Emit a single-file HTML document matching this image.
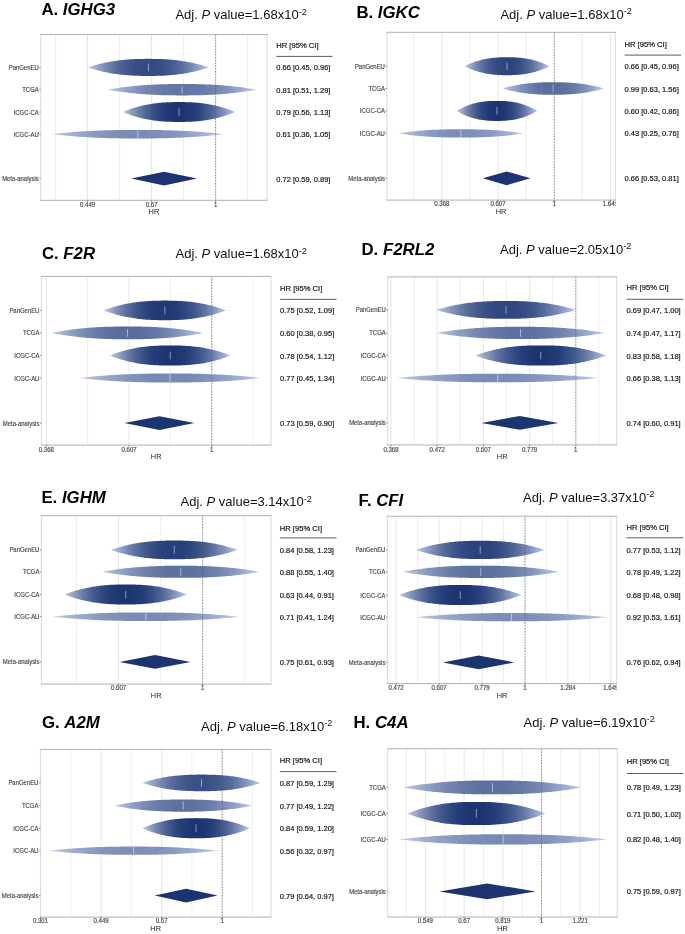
<!DOCTYPE html>
<html><head><meta charset="utf-8"><title>Rainforest plots</title>
<style>html,body{margin:0;padding:0;background:#fff;} svg{display:block;will-change:transform;font-family:"Liberation Sans", sans-serif;}</style>
</head><body>
<svg width="685" height="934" viewBox="0 0 685 934" font-family='"Liberation Sans", sans-serif'>
<rect width="685" height="934" fill="#fff"/>
<text x="41.40" y="15.2" font-size="16.8" font-weight="bold" fill="#000">A. <tspan font-style="italic">IGHG3</tspan></text>
<text x="175.4" y="19.4" font-size="13.0" fill="#111">Adj. <tspan font-style="italic">P</tspan> value=1.68x10<tspan font-size="9.2" dy="-4.5">-2</tspan></text>
<rect x="40.7" y="34.6" width="226.40000000000003" height="165.70000000000002" fill="#fff"/>
<line x1="55.60" y1="34.6" x2="55.60" y2="200.3" stroke="#ebebeb" stroke-width="0.9"/>
<line x1="119.60" y1="34.6" x2="119.60" y2="200.3" stroke="#ebebeb" stroke-width="0.9"/>
<line x1="183.60" y1="34.6" x2="183.60" y2="200.3" stroke="#ebebeb" stroke-width="0.9"/>
<line x1="247.60" y1="34.6" x2="247.60" y2="200.3" stroke="#ebebeb" stroke-width="0.9"/>
<line x1="87.60" y1="34.6" x2="87.60" y2="200.3" stroke="#e3e3e3" stroke-width="0.9"/>
<line x1="151.60" y1="34.6" x2="151.60" y2="200.3" stroke="#e3e3e3" stroke-width="0.9"/>
<line x1="215.60" y1="34.6" x2="215.60" y2="200.3" stroke="#e3e3e3" stroke-width="0.9"/>
<defs><linearGradient id="g1" gradientUnits="userSpaceOnUse" x1="87.84" y1="0" x2="209.07" y2="0"><stop offset="0.0000" stop-color="#c0cde8"/><stop offset="0.0250" stop-color="#b1bfdd"/><stop offset="0.0500" stop-color="#a4b3d3"/><stop offset="0.0750" stop-color="#97a7ca"/><stop offset="0.1000" stop-color="#8b9cc1"/><stop offset="0.1250" stop-color="#8091b9"/><stop offset="0.1500" stop-color="#7588b2"/><stop offset="0.1750" stop-color="#6c7fab"/><stop offset="0.2000" stop-color="#6377a4"/><stop offset="0.2250" stop-color="#5b6f9e"/><stop offset="0.2500" stop-color="#536899"/><stop offset="0.2750" stop-color="#4d6294"/><stop offset="0.3000" stop-color="#475d90"/><stop offset="0.3250" stop-color="#42588d"/><stop offset="0.3500" stop-color="#3e548a"/><stop offset="0.3750" stop-color="#3a5187"/><stop offset="0.4000" stop-color="#384f85"/><stop offset="0.4250" stop-color="#364d84"/><stop offset="0.4500" stop-color="#344b83"/><stop offset="0.4750" stop-color="#334b82"/><stop offset="0.5000" stop-color="#334b82"/><stop offset="0.5250" stop-color="#334b82"/><stop offset="0.5500" stop-color="#344b83"/><stop offset="0.5750" stop-color="#364d84"/><stop offset="0.6000" stop-color="#384f85"/><stop offset="0.6250" stop-color="#3a5187"/><stop offset="0.6500" stop-color="#3e548a"/><stop offset="0.6750" stop-color="#42588d"/><stop offset="0.7000" stop-color="#475d90"/><stop offset="0.7250" stop-color="#4d6294"/><stop offset="0.7500" stop-color="#536899"/><stop offset="0.7750" stop-color="#5b6f9e"/><stop offset="0.8000" stop-color="#6377a4"/><stop offset="0.8250" stop-color="#6c7fab"/><stop offset="0.8500" stop-color="#7588b2"/><stop offset="0.8750" stop-color="#8091b9"/><stop offset="0.9000" stop-color="#8b9cc1"/><stop offset="0.9250" stop-color="#97a7ca"/><stop offset="0.9500" stop-color="#a4b3d3"/><stop offset="0.9750" stop-color="#b1bfdd"/><stop offset="1.0000" stop-color="#c0cde8"/></linearGradient></defs>
<path d="M87.84,67.40 L89.35,66.90 L90.87,66.41 L92.38,65.94 L93.90,65.49 L95.42,65.06 L96.93,64.64 L98.45,64.24 L99.96,63.86 L101.48,63.49 L102.99,63.14 L104.51,62.81 L106.02,62.49 L107.54,62.19 L109.05,61.90 L110.57,61.63 L112.08,61.37 L113.60,61.13 L115.12,60.90 L116.63,60.68 L118.15,60.48 L119.66,60.30 L121.18,60.12 L122.69,59.96 L124.21,59.81 L125.72,59.68 L127.24,59.55 L128.75,59.44 L130.27,59.34 L131.78,59.25 L133.30,59.17 L134.82,59.10 L136.33,59.04 L137.85,59.00 L139.36,58.96 L140.88,58.92 L142.39,58.90 L143.91,58.88 L145.42,58.87 L146.94,58.87 L148.45,58.87 L149.97,58.87 L151.48,58.87 L153.00,58.88 L154.52,58.90 L156.03,58.92 L157.55,58.96 L159.06,59.00 L160.58,59.04 L162.09,59.10 L163.61,59.17 L165.12,59.25 L166.64,59.34 L168.15,59.44 L169.67,59.55 L171.18,59.68 L172.70,59.81 L174.21,59.96 L175.73,60.12 L177.25,60.30 L178.76,60.48 L180.28,60.68 L181.79,60.90 L183.31,61.13 L184.82,61.37 L186.34,61.63 L187.85,61.90 L189.37,62.19 L190.88,62.49 L192.40,62.81 L193.91,63.14 L195.43,63.49 L196.95,63.86 L198.46,64.24 L199.98,64.64 L201.49,65.06 L203.01,65.49 L204.52,65.94 L206.04,66.41 L207.55,66.90 L209.07,67.40 L209.07,67.40 L207.55,67.90 L206.04,68.39 L204.52,68.86 L203.01,69.31 L201.49,69.74 L199.98,70.16 L198.46,70.56 L196.95,70.94 L195.43,71.31 L193.91,71.66 L192.40,71.99 L190.88,72.31 L189.37,72.61 L187.85,72.90 L186.34,73.17 L184.82,73.43 L183.31,73.67 L181.79,73.90 L180.28,74.12 L178.76,74.32 L177.25,74.50 L175.73,74.68 L174.21,74.84 L172.70,74.99 L171.18,75.12 L169.67,75.25 L168.15,75.36 L166.64,75.46 L165.12,75.55 L163.61,75.63 L162.09,75.70 L160.58,75.76 L159.06,75.80 L157.55,75.84 L156.03,75.88 L154.52,75.90 L153.00,75.92 L151.48,75.93 L149.97,75.93 L148.45,75.93 L146.94,75.93 L145.42,75.93 L143.91,75.92 L142.39,75.90 L140.88,75.88 L139.36,75.84 L137.85,75.80 L136.33,75.76 L134.82,75.70 L133.30,75.63 L131.78,75.55 L130.27,75.46 L128.75,75.36 L127.24,75.25 L125.72,75.12 L124.21,74.99 L122.69,74.84 L121.18,74.68 L119.66,74.50 L118.15,74.32 L116.63,74.12 L115.12,73.90 L113.60,73.67 L112.08,73.43 L110.57,73.17 L109.05,72.90 L107.54,72.61 L106.02,72.31 L104.51,71.99 L102.99,71.66 L101.48,71.31 L99.96,70.94 L98.45,70.56 L96.93,70.16 L95.42,69.74 L93.90,69.31 L92.38,68.86 L90.87,68.39 L89.35,67.90 L87.84,67.40Z" fill="url(#g1)"/>
<line x1="148.45" y1="63.62" x2="148.45" y2="71.18" stroke="#ffffff" stroke-opacity="0.55" stroke-width="0.9"/>
<defs><linearGradient id="g2" gradientUnits="userSpaceOnUse" x1="107.86" y1="0" x2="256.34" y2="0"><stop offset="0.0000" stop-color="#c0cde8"/><stop offset="0.0250" stop-color="#b6c4e1"/><stop offset="0.0500" stop-color="#adbbda"/><stop offset="0.0750" stop-color="#a5b4d4"/><stop offset="0.1000" stop-color="#9dacce"/><stop offset="0.1250" stop-color="#95a5c9"/><stop offset="0.1500" stop-color="#8e9fc4"/><stop offset="0.1750" stop-color="#8899bf"/><stop offset="0.2000" stop-color="#8293bb"/><stop offset="0.2250" stop-color="#7c8eb7"/><stop offset="0.2500" stop-color="#788ab3"/><stop offset="0.2750" stop-color="#7386b0"/><stop offset="0.3000" stop-color="#6f82ad"/><stop offset="0.3250" stop-color="#6c7fab"/><stop offset="0.3500" stop-color="#697da9"/><stop offset="0.3750" stop-color="#677aa7"/><stop offset="0.4000" stop-color="#6579a6"/><stop offset="0.4250" stop-color="#6477a5"/><stop offset="0.4500" stop-color="#6377a4"/><stop offset="0.4750" stop-color="#6276a4"/><stop offset="0.5000" stop-color="#6276a4"/><stop offset="0.5250" stop-color="#6276a4"/><stop offset="0.5500" stop-color="#6377a4"/><stop offset="0.5750" stop-color="#6477a5"/><stop offset="0.6000" stop-color="#6579a6"/><stop offset="0.6250" stop-color="#677aa7"/><stop offset="0.6500" stop-color="#697da9"/><stop offset="0.6750" stop-color="#6c7fab"/><stop offset="0.7000" stop-color="#6f82ad"/><stop offset="0.7250" stop-color="#7386b0"/><stop offset="0.7500" stop-color="#788ab3"/><stop offset="0.7750" stop-color="#7c8eb7"/><stop offset="0.8000" stop-color="#8293bb"/><stop offset="0.8250" stop-color="#8899bf"/><stop offset="0.8500" stop-color="#8e9fc4"/><stop offset="0.8750" stop-color="#95a5c9"/><stop offset="0.9000" stop-color="#9dacce"/><stop offset="0.9250" stop-color="#a5b4d4"/><stop offset="0.9500" stop-color="#adbbda"/><stop offset="0.9750" stop-color="#b6c4e1"/><stop offset="1.0000" stop-color="#c0cde8"/></linearGradient></defs>
<path d="M107.86,89.70 L109.72,89.36 L111.58,89.04 L113.43,88.73 L115.29,88.43 L117.14,88.14 L119.00,87.86 L120.86,87.60 L122.71,87.34 L124.57,87.10 L126.42,86.86 L128.28,86.64 L130.14,86.43 L131.99,86.23 L133.85,86.03 L135.70,85.85 L137.56,85.68 L139.42,85.52 L141.27,85.37 L143.13,85.22 L144.98,85.09 L146.84,84.96 L148.70,84.85 L150.55,84.74 L152.41,84.64 L154.26,84.55 L156.12,84.47 L157.98,84.39 L159.83,84.33 L161.69,84.27 L163.54,84.21 L165.40,84.17 L167.26,84.13 L169.11,84.10 L170.97,84.07 L172.82,84.05 L174.68,84.03 L176.54,84.02 L178.39,84.01 L180.25,84.01 L182.10,84.01 L183.96,84.01 L185.82,84.01 L187.67,84.02 L189.53,84.03 L191.38,84.05 L193.24,84.07 L195.10,84.10 L196.95,84.13 L198.81,84.17 L200.66,84.21 L202.52,84.27 L204.38,84.33 L206.23,84.39 L208.09,84.47 L209.94,84.55 L211.80,84.64 L213.66,84.74 L215.51,84.85 L217.37,84.96 L219.22,85.09 L221.08,85.22 L222.94,85.37 L224.79,85.52 L226.65,85.68 L228.50,85.85 L230.36,86.03 L232.22,86.23 L234.07,86.43 L235.93,86.64 L237.78,86.86 L239.64,87.10 L241.49,87.34 L243.35,87.60 L245.21,87.86 L247.06,88.14 L248.92,88.43 L250.77,88.73 L252.63,89.04 L254.49,89.36 L256.34,89.70 L256.34,89.70 L254.49,90.04 L252.63,90.36 L250.77,90.67 L248.92,90.97 L247.06,91.26 L245.21,91.54 L243.35,91.80 L241.49,92.06 L239.64,92.30 L237.78,92.54 L235.93,92.76 L234.07,92.97 L232.22,93.17 L230.36,93.37 L228.50,93.55 L226.65,93.72 L224.79,93.88 L222.94,94.03 L221.08,94.18 L219.22,94.31 L217.37,94.44 L215.51,94.55 L213.66,94.66 L211.80,94.76 L209.94,94.85 L208.09,94.93 L206.23,95.01 L204.38,95.07 L202.52,95.13 L200.66,95.19 L198.81,95.23 L196.95,95.27 L195.10,95.30 L193.24,95.33 L191.38,95.35 L189.53,95.37 L187.67,95.38 L185.82,95.39 L183.96,95.39 L182.10,95.39 L180.25,95.39 L178.39,95.39 L176.54,95.38 L174.68,95.37 L172.82,95.35 L170.97,95.33 L169.11,95.30 L167.26,95.27 L165.40,95.23 L163.54,95.19 L161.69,95.13 L159.83,95.07 L157.98,95.01 L156.12,94.93 L154.26,94.85 L152.41,94.76 L150.55,94.66 L148.70,94.55 L146.84,94.44 L144.98,94.31 L143.13,94.18 L141.27,94.03 L139.42,93.88 L137.56,93.72 L135.70,93.55 L133.85,93.37 L131.99,93.17 L130.14,92.97 L128.28,92.76 L126.42,92.54 L124.57,92.30 L122.71,92.06 L120.86,91.80 L119.00,91.54 L117.14,91.26 L115.29,90.97 L113.43,90.67 L111.58,90.36 L109.72,90.04 L107.86,89.70Z" fill="url(#g2)"/>
<line x1="182.10" y1="85.92" x2="182.10" y2="93.48" stroke="#ffffff" stroke-opacity="0.55" stroke-width="0.9"/>
<defs><linearGradient id="g3" gradientUnits="userSpaceOnUse" x1="122.83" y1="0" x2="235.15" y2="0"><stop offset="0.0000" stop-color="#c0cde8"/><stop offset="0.0250" stop-color="#afbddc"/><stop offset="0.0500" stop-color="#9faed0"/><stop offset="0.0750" stop-color="#90a1c5"/><stop offset="0.1000" stop-color="#8294bb"/><stop offset="0.1250" stop-color="#7587b2"/><stop offset="0.1500" stop-color="#697ca9"/><stop offset="0.1750" stop-color="#5e72a1"/><stop offset="0.2000" stop-color="#536899"/><stop offset="0.2250" stop-color="#4a6092"/><stop offset="0.2500" stop-color="#41588c"/><stop offset="0.2750" stop-color="#3a5187"/><stop offset="0.3000" stop-color="#334a82"/><stop offset="0.3250" stop-color="#2d457e"/><stop offset="0.3500" stop-color="#28407a"/><stop offset="0.3750" stop-color="#243d77"/><stop offset="0.4000" stop-color="#213a75"/><stop offset="0.4250" stop-color="#1f3773"/><stop offset="0.4500" stop-color="#1d3672"/><stop offset="0.4750" stop-color="#1c3571"/><stop offset="0.5000" stop-color="#1c3571"/><stop offset="0.5250" stop-color="#1c3571"/><stop offset="0.5500" stop-color="#1d3672"/><stop offset="0.5750" stop-color="#1f3773"/><stop offset="0.6000" stop-color="#213a75"/><stop offset="0.6250" stop-color="#243d77"/><stop offset="0.6500" stop-color="#28407a"/><stop offset="0.6750" stop-color="#2d457e"/><stop offset="0.7000" stop-color="#334a82"/><stop offset="0.7250" stop-color="#3a5187"/><stop offset="0.7500" stop-color="#41588c"/><stop offset="0.7750" stop-color="#4a6092"/><stop offset="0.8000" stop-color="#536899"/><stop offset="0.8250" stop-color="#5e72a1"/><stop offset="0.8500" stop-color="#697ca9"/><stop offset="0.8750" stop-color="#7587b2"/><stop offset="0.9000" stop-color="#8294bb"/><stop offset="0.9250" stop-color="#90a1c5"/><stop offset="0.9500" stop-color="#9faed0"/><stop offset="0.9750" stop-color="#afbddc"/><stop offset="1.0000" stop-color="#c0cde8"/></linearGradient></defs>
<path d="M122.83,112.00 L124.23,111.41 L125.64,110.85 L127.04,110.30 L128.45,109.78 L129.85,109.27 L131.25,108.79 L132.66,108.32 L134.06,107.88 L135.47,107.45 L136.87,107.04 L138.27,106.65 L139.68,106.28 L141.08,105.93 L142.49,105.59 L143.89,105.28 L145.29,104.98 L146.70,104.69 L148.10,104.43 L149.51,104.18 L150.91,103.94 L152.31,103.72 L153.72,103.52 L155.12,103.33 L156.53,103.16 L157.93,103.00 L159.33,102.86 L160.74,102.73 L162.14,102.61 L163.55,102.51 L164.95,102.42 L166.36,102.34 L167.76,102.27 L169.16,102.21 L170.57,102.16 L171.97,102.13 L173.38,102.10 L174.78,102.08 L176.18,102.07 L177.59,102.06 L178.99,102.06 L180.40,102.06 L181.80,102.07 L183.20,102.08 L184.61,102.10 L186.01,102.13 L187.42,102.16 L188.82,102.21 L190.22,102.27 L191.63,102.34 L193.03,102.42 L194.44,102.51 L195.84,102.61 L197.24,102.73 L198.65,102.86 L200.05,103.00 L201.46,103.16 L202.86,103.33 L204.27,103.52 L205.67,103.72 L207.07,103.94 L208.48,104.18 L209.88,104.43 L211.29,104.69 L212.69,104.98 L214.09,105.28 L215.50,105.59 L216.90,105.93 L218.31,106.28 L219.71,106.65 L221.11,107.04 L222.52,107.45 L223.92,107.88 L225.33,108.32 L226.73,108.79 L228.13,109.27 L229.54,109.78 L230.94,110.30 L232.35,110.85 L233.75,111.41 L235.15,112.00 L235.15,112.00 L233.75,112.59 L232.35,113.15 L230.94,113.70 L229.54,114.22 L228.13,114.73 L226.73,115.21 L225.33,115.68 L223.92,116.12 L222.52,116.55 L221.11,116.96 L219.71,117.35 L218.31,117.72 L216.90,118.07 L215.50,118.41 L214.09,118.72 L212.69,119.02 L211.29,119.31 L209.88,119.57 L208.48,119.82 L207.07,120.06 L205.67,120.28 L204.27,120.48 L202.86,120.67 L201.46,120.84 L200.05,121.00 L198.65,121.14 L197.24,121.27 L195.84,121.39 L194.44,121.49 L193.03,121.58 L191.63,121.66 L190.22,121.73 L188.82,121.79 L187.42,121.84 L186.01,121.87 L184.61,121.90 L183.20,121.92 L181.80,121.93 L180.40,121.94 L178.99,121.94 L177.59,121.94 L176.18,121.93 L174.78,121.92 L173.38,121.90 L171.97,121.87 L170.57,121.84 L169.16,121.79 L167.76,121.73 L166.36,121.66 L164.95,121.58 L163.55,121.49 L162.14,121.39 L160.74,121.27 L159.33,121.14 L157.93,121.00 L156.53,120.84 L155.12,120.67 L153.72,120.48 L152.31,120.28 L150.91,120.06 L149.51,119.82 L148.10,119.57 L146.70,119.31 L145.29,119.02 L143.89,118.72 L142.49,118.41 L141.08,118.07 L139.68,117.72 L138.27,117.35 L136.87,116.96 L135.47,116.55 L134.06,116.12 L132.66,115.68 L131.25,115.21 L129.85,114.73 L128.45,114.22 L127.04,113.70 L125.64,113.15 L124.23,112.59 L122.83,112.00Z" fill="url(#g3)"/>
<line x1="178.99" y1="108.22" x2="178.99" y2="115.78" stroke="#ffffff" stroke-opacity="0.55" stroke-width="0.9"/>
<defs><linearGradient id="g4" gradientUnits="userSpaceOnUse" x1="52.14" y1="0" x2="223.41" y2="0"><stop offset="0.0000" stop-color="#c0cde8"/><stop offset="0.0250" stop-color="#b9c6e3"/><stop offset="0.0500" stop-color="#b2c0de"/><stop offset="0.0750" stop-color="#abbad9"/><stop offset="0.1000" stop-color="#a5b4d5"/><stop offset="0.1250" stop-color="#a0afd1"/><stop offset="0.1500" stop-color="#9aaacd"/><stop offset="0.1750" stop-color="#96a6c9"/><stop offset="0.2000" stop-color="#91a2c6"/><stop offset="0.2250" stop-color="#8d9ec3"/><stop offset="0.2500" stop-color="#8a9bc0"/><stop offset="0.2750" stop-color="#8698be"/><stop offset="0.3000" stop-color="#8395bc"/><stop offset="0.3250" stop-color="#8193ba"/><stop offset="0.3500" stop-color="#7f91b9"/><stop offset="0.3750" stop-color="#7d8fb7"/><stop offset="0.4000" stop-color="#7c8eb6"/><stop offset="0.4250" stop-color="#7b8db6"/><stop offset="0.4500" stop-color="#7a8cb5"/><stop offset="0.4750" stop-color="#7a8cb5"/><stop offset="0.5000" stop-color="#798cb5"/><stop offset="0.5250" stop-color="#7a8cb5"/><stop offset="0.5500" stop-color="#7a8cb5"/><stop offset="0.5750" stop-color="#7b8db6"/><stop offset="0.6000" stop-color="#7c8eb6"/><stop offset="0.6250" stop-color="#7d8fb7"/><stop offset="0.6500" stop-color="#7f91b9"/><stop offset="0.6750" stop-color="#8193ba"/><stop offset="0.7000" stop-color="#8395bc"/><stop offset="0.7250" stop-color="#8698be"/><stop offset="0.7500" stop-color="#8a9bc0"/><stop offset="0.7750" stop-color="#8d9ec3"/><stop offset="0.8000" stop-color="#91a2c6"/><stop offset="0.8250" stop-color="#96a6c9"/><stop offset="0.8500" stop-color="#9aaacd"/><stop offset="0.8750" stop-color="#a0afd1"/><stop offset="0.9000" stop-color="#a5b4d5"/><stop offset="0.9250" stop-color="#abbad9"/><stop offset="0.9500" stop-color="#b2c0de"/><stop offset="0.9750" stop-color="#b9c6e3"/><stop offset="1.0000" stop-color="#c0cde8"/></linearGradient></defs>
<path d="M52.14,134.20 L54.28,133.95 L56.42,133.70 L58.56,133.47 L60.70,133.24 L62.84,133.03 L64.98,132.82 L67.12,132.62 L69.26,132.43 L71.40,132.24 L73.54,132.07 L75.69,131.90 L77.83,131.74 L79.97,131.59 L82.11,131.44 L84.25,131.31 L86.39,131.18 L88.53,131.06 L90.67,130.94 L92.81,130.83 L94.95,130.73 L97.09,130.64 L99.24,130.55 L101.38,130.47 L103.52,130.40 L105.66,130.33 L107.80,130.27 L109.94,130.21 L112.08,130.16 L114.22,130.12 L116.36,130.08 L118.50,130.04 L120.64,130.01 L122.78,129.99 L124.93,129.97 L127.07,129.95 L129.21,129.94 L131.35,129.93 L133.49,129.93 L135.63,129.92 L137.77,129.92 L139.91,129.92 L142.05,129.93 L144.19,129.93 L146.33,129.94 L148.48,129.95 L150.62,129.97 L152.76,129.99 L154.90,130.01 L157.04,130.04 L159.18,130.08 L161.32,130.12 L163.46,130.16 L165.60,130.21 L167.74,130.27 L169.88,130.33 L172.03,130.40 L174.17,130.47 L176.31,130.55 L178.45,130.64 L180.59,130.73 L182.73,130.83 L184.87,130.94 L187.01,131.06 L189.15,131.18 L191.29,131.31 L193.43,131.44 L195.57,131.59 L197.72,131.74 L199.86,131.90 L202.00,132.07 L204.14,132.24 L206.28,132.43 L208.42,132.62 L210.56,132.82 L212.70,133.03 L214.84,133.24 L216.98,133.47 L219.12,133.70 L221.27,133.95 L223.41,134.20 L223.41,134.20 L221.27,134.45 L219.12,134.70 L216.98,134.93 L214.84,135.16 L212.70,135.37 L210.56,135.58 L208.42,135.78 L206.28,135.97 L204.14,136.16 L202.00,136.33 L199.86,136.50 L197.72,136.66 L195.57,136.81 L193.43,136.96 L191.29,137.09 L189.15,137.22 L187.01,137.34 L184.87,137.46 L182.73,137.57 L180.59,137.67 L178.45,137.76 L176.31,137.85 L174.17,137.93 L172.03,138.00 L169.88,138.07 L167.74,138.13 L165.60,138.19 L163.46,138.24 L161.32,138.28 L159.18,138.32 L157.04,138.36 L154.90,138.39 L152.76,138.41 L150.62,138.43 L148.48,138.45 L146.33,138.46 L144.19,138.47 L142.05,138.47 L139.91,138.48 L137.77,138.48 L135.63,138.48 L133.49,138.47 L131.35,138.47 L129.21,138.46 L127.07,138.45 L124.93,138.43 L122.78,138.41 L120.64,138.39 L118.50,138.36 L116.36,138.32 L114.22,138.28 L112.08,138.24 L109.94,138.19 L107.80,138.13 L105.66,138.07 L103.52,138.00 L101.38,137.93 L99.24,137.85 L97.09,137.76 L94.95,137.67 L92.81,137.57 L90.67,137.46 L88.53,137.34 L86.39,137.22 L84.25,137.09 L82.11,136.96 L79.97,136.81 L77.83,136.66 L75.69,136.50 L73.54,136.33 L71.40,136.16 L69.26,135.97 L67.12,135.78 L64.98,135.58 L62.84,135.37 L60.70,135.16 L58.56,134.93 L56.42,134.70 L54.28,134.45 L52.14,134.20Z" fill="url(#g4)"/>
<line x1="137.77" y1="130.42" x2="137.77" y2="137.98" stroke="#ffffff" stroke-opacity="0.55" stroke-width="0.9"/>
<path d="M131.18,178.6 L164.07,171.79 L196.95,178.6 L164.07,185.41Z" fill="#1c3571"/>
<line x1="215.6" y1="34.6" x2="215.6" y2="200.3" stroke="#5a5a5a" stroke-width="0.7" stroke-dasharray="1.3 1.5"/>
<line x1="40.7" y1="34.6" x2="40.7" y2="200.3" stroke="#dadada" stroke-width="1"/>
<line x1="267.1" y1="34.6" x2="267.1" y2="200.3" stroke="#dadada" stroke-width="1"/>
<line x1="40.2" y1="34.6" x2="267.6" y2="34.6" stroke="#a8a8a8" stroke-width="0.9"/>
<line x1="40.2" y1="200.3" x2="267.6" y2="200.3" stroke="#a8a8a8" stroke-width="0.9"/>
<text transform="translate(38.70,69.90) scale(0.9,1)" font-size="6.6" fill="#4d4d4d" stroke="#4d4d4d" stroke-width="0.18" text-anchor="end">PanGenEU</text>
<line x1="39.400000000000006" y1="67.4" x2="40.7" y2="67.4" stroke="#555" stroke-width="0.7"/>
<text transform="translate(38.70,92.20) scale(0.9,1)" font-size="6.6" fill="#4d4d4d" stroke="#4d4d4d" stroke-width="0.18" text-anchor="end">TCGA</text>
<line x1="39.400000000000006" y1="89.7" x2="40.7" y2="89.7" stroke="#555" stroke-width="0.7"/>
<text transform="translate(38.70,114.50) scale(0.9,1)" font-size="6.6" fill="#4d4d4d" stroke="#4d4d4d" stroke-width="0.18" text-anchor="end">ICGC-CA</text>
<line x1="39.400000000000006" y1="112.0" x2="40.7" y2="112.0" stroke="#555" stroke-width="0.7"/>
<text transform="translate(38.70,136.70) scale(0.9,1)" font-size="6.6" fill="#4d4d4d" stroke="#4d4d4d" stroke-width="0.18" text-anchor="end">ICGC-AU</text>
<line x1="39.400000000000006" y1="134.2" x2="40.7" y2="134.2" stroke="#555" stroke-width="0.7"/>
<text transform="translate(38.70,181.10) scale(0.9,1)" font-size="6.6" fill="#4d4d4d" stroke="#4d4d4d" stroke-width="0.18" text-anchor="end">Meta-analysis</text>
<line x1="39.400000000000006" y1="178.6" x2="40.7" y2="178.6" stroke="#555" stroke-width="0.7"/>
<defs><clipPath id="c5"><rect x="0" y="200.3" width="267.40000000000003" height="20"/></clipPath></defs><g clip-path="url(#c5)">
<line x1="87.60" y1="200.3" x2="87.60" y2="201.8" stroke="#333" stroke-width="0.6"/>
<text transform="translate(87.60,206.6) scale(0.95,1)" font-size="6.4" fill="#4d4d4d" stroke="#4d4d4d" stroke-width="0.18" text-anchor="middle">0.449</text>
<line x1="151.60" y1="200.3" x2="151.60" y2="201.8" stroke="#333" stroke-width="0.6"/>
<text transform="translate(151.60,206.6) scale(0.95,1)" font-size="6.4" fill="#4d4d4d" stroke="#4d4d4d" stroke-width="0.18" text-anchor="middle">0.67</text>
<line x1="215.60" y1="200.3" x2="215.60" y2="201.8" stroke="#333" stroke-width="0.6"/>
<text transform="translate(215.60,206.6) scale(0.95,1)" font-size="6.4" fill="#4d4d4d" stroke="#4d4d4d" stroke-width="0.18" text-anchor="middle">1</text>
</g>
<text x="153.90" y="214.0" font-size="7.4" fill="#222" text-anchor="middle">HR</text>
<text x="276.3" y="48.16" font-size="7.6" fill="#111" stroke="#111" stroke-width="0.18">HR [95% CI]</text>
<line x1="276.3" y1="56.4" x2="332.5" y2="56.4" stroke="#333" stroke-width="0.8"/>
<text transform="translate(276.3,70.40) scale(0.95,1)" font-size="7.9" fill="#111" stroke="#111" stroke-width="0.18">0.66 [0.45, 0.96]</text>
<text transform="translate(276.3,92.70) scale(0.95,1)" font-size="7.9" fill="#111" stroke="#111" stroke-width="0.18">0.81 [0.51, 1.29]</text>
<text transform="translate(276.3,115.00) scale(0.95,1)" font-size="7.9" fill="#111" stroke="#111" stroke-width="0.18">0.79 [0.56, 1.13]</text>
<text transform="translate(276.3,137.20) scale(0.95,1)" font-size="7.9" fill="#111" stroke="#111" stroke-width="0.18">0.61 [0.36, 1.05]</text>
<text transform="translate(276.3,181.60) scale(0.95,1)" font-size="7.9" fill="#111" stroke="#111" stroke-width="0.18">0.72 [0.59, 0.89]</text>
<text x="356.40" y="17.9" font-size="16.8" font-weight="bold" fill="#000">B. <tspan font-style="italic">IGKC</tspan></text>
<text x="500.4" y="18.6" font-size="13.0" fill="#111">Adj. <tspan font-style="italic">P</tspan> value=1.68x10<tspan font-size="9.2" dy="-4.5">-2</tspan></text>
<rect x="386.9" y="32.3" width="228.39999999999998" height="167.8" fill="#fff"/>
<line x1="413.70" y1="32.3" x2="413.70" y2="200.1" stroke="#ebebeb" stroke-width="0.9"/>
<line x1="469.90" y1="32.3" x2="469.90" y2="200.1" stroke="#ebebeb" stroke-width="0.9"/>
<line x1="526.10" y1="32.3" x2="526.10" y2="200.1" stroke="#ebebeb" stroke-width="0.9"/>
<line x1="582.30" y1="32.3" x2="582.30" y2="200.1" stroke="#ebebeb" stroke-width="0.9"/>
<line x1="441.80" y1="32.3" x2="441.80" y2="200.1" stroke="#e3e3e3" stroke-width="0.9"/>
<line x1="498.00" y1="32.3" x2="498.00" y2="200.1" stroke="#e3e3e3" stroke-width="0.9"/>
<line x1="554.20" y1="32.3" x2="554.20" y2="200.1" stroke="#e3e3e3" stroke-width="0.9"/>
<line x1="610.40" y1="32.3" x2="610.40" y2="200.1" stroke="#e3e3e3" stroke-width="0.9"/>
<defs><linearGradient id="g6" gradientUnits="userSpaceOnUse" x1="464.45" y1="0" x2="549.61" y2="0"><stop offset="0.0000" stop-color="#c0cde8"/><stop offset="0.0250" stop-color="#b1bfdd"/><stop offset="0.0500" stop-color="#a2b2d3"/><stop offset="0.0750" stop-color="#95a5c9"/><stop offset="0.1000" stop-color="#899ac0"/><stop offset="0.1250" stop-color="#7d8fb7"/><stop offset="0.1500" stop-color="#7285af"/><stop offset="0.1750" stop-color="#687ba8"/><stop offset="0.2000" stop-color="#5f73a1"/><stop offset="0.2250" stop-color="#566b9b"/><stop offset="0.2500" stop-color="#4f6496"/><stop offset="0.2750" stop-color="#485e91"/><stop offset="0.3000" stop-color="#42588d"/><stop offset="0.3250" stop-color="#3d5389"/><stop offset="0.3500" stop-color="#384f86"/><stop offset="0.3750" stop-color="#354c83"/><stop offset="0.4000" stop-color="#324981"/><stop offset="0.4250" stop-color="#30477f"/><stop offset="0.4500" stop-color="#2e467e"/><stop offset="0.4750" stop-color="#2d457e"/><stop offset="0.5000" stop-color="#2d457e"/><stop offset="0.5250" stop-color="#2d457e"/><stop offset="0.5500" stop-color="#2e467e"/><stop offset="0.5750" stop-color="#30477f"/><stop offset="0.6000" stop-color="#324981"/><stop offset="0.6250" stop-color="#354c83"/><stop offset="0.6500" stop-color="#384f86"/><stop offset="0.6750" stop-color="#3d5389"/><stop offset="0.7000" stop-color="#42588d"/><stop offset="0.7250" stop-color="#485e91"/><stop offset="0.7500" stop-color="#4f6496"/><stop offset="0.7750" stop-color="#566b9b"/><stop offset="0.8000" stop-color="#5f73a1"/><stop offset="0.8250" stop-color="#687ba8"/><stop offset="0.8500" stop-color="#7285af"/><stop offset="0.8750" stop-color="#7d8fb7"/><stop offset="0.9000" stop-color="#899ac0"/><stop offset="0.9250" stop-color="#95a5c9"/><stop offset="0.9500" stop-color="#a2b2d3"/><stop offset="0.9750" stop-color="#b1bfdd"/><stop offset="1.0000" stop-color="#c0cde8"/></linearGradient></defs>
<path d="M464.45,66.20 L465.51,65.67 L466.58,65.16 L467.64,64.67 L468.71,64.20 L469.77,63.74 L470.84,63.30 L471.90,62.88 L472.96,62.48 L474.03,62.10 L475.09,61.73 L476.16,61.38 L477.22,61.04 L478.29,60.72 L479.35,60.42 L480.42,60.14 L481.48,59.87 L482.55,59.61 L483.61,59.37 L484.67,59.14 L485.74,58.93 L486.80,58.74 L487.87,58.55 L488.93,58.38 L490.00,58.23 L491.06,58.09 L492.13,57.96 L493.19,57.84 L494.26,57.73 L495.32,57.64 L496.38,57.56 L497.45,57.48 L498.51,57.42 L499.58,57.37 L500.64,57.33 L501.71,57.29 L502.77,57.27 L503.84,57.25 L504.90,57.24 L505.97,57.23 L507.03,57.23 L508.09,57.23 L509.16,57.24 L510.22,57.25 L511.29,57.27 L512.35,57.29 L513.42,57.33 L514.48,57.37 L515.55,57.42 L516.61,57.48 L517.68,57.56 L518.74,57.64 L519.80,57.73 L520.87,57.84 L521.93,57.96 L523.00,58.09 L524.06,58.23 L525.13,58.38 L526.19,58.55 L527.26,58.74 L528.32,58.93 L529.39,59.14 L530.45,59.37 L531.51,59.61 L532.58,59.87 L533.64,60.14 L534.71,60.42 L535.77,60.72 L536.84,61.04 L537.90,61.38 L538.97,61.73 L540.03,62.10 L541.10,62.48 L542.16,62.88 L543.22,63.30 L544.29,63.74 L545.35,64.20 L546.42,64.67 L547.48,65.16 L548.55,65.67 L549.61,66.20 L549.61,66.20 L548.55,66.73 L547.48,67.24 L546.42,67.73 L545.35,68.20 L544.29,68.66 L543.22,69.10 L542.16,69.52 L541.10,69.92 L540.03,70.30 L538.97,70.67 L537.90,71.02 L536.84,71.36 L535.77,71.68 L534.71,71.98 L533.64,72.26 L532.58,72.53 L531.51,72.79 L530.45,73.03 L529.39,73.26 L528.32,73.47 L527.26,73.66 L526.19,73.85 L525.13,74.02 L524.06,74.17 L523.00,74.31 L521.93,74.44 L520.87,74.56 L519.80,74.67 L518.74,74.76 L517.68,74.84 L516.61,74.92 L515.55,74.98 L514.48,75.03 L513.42,75.07 L512.35,75.11 L511.29,75.13 L510.22,75.15 L509.16,75.16 L508.09,75.17 L507.03,75.17 L505.97,75.17 L504.90,75.16 L503.84,75.15 L502.77,75.13 L501.71,75.11 L500.64,75.07 L499.58,75.03 L498.51,74.98 L497.45,74.92 L496.38,74.84 L495.32,74.76 L494.26,74.67 L493.19,74.56 L492.13,74.44 L491.06,74.31 L490.00,74.17 L488.93,74.02 L487.87,73.85 L486.80,73.66 L485.74,73.47 L484.67,73.26 L483.61,73.03 L482.55,72.79 L481.48,72.53 L480.42,72.26 L479.35,71.98 L478.29,71.68 L477.22,71.36 L476.16,71.02 L475.09,70.67 L474.03,70.30 L472.96,69.92 L471.90,69.52 L470.84,69.10 L469.77,68.66 L468.71,68.20 L467.64,67.73 L466.58,67.24 L465.51,66.73 L464.45,66.20Z" fill="url(#g6)"/>
<line x1="507.03" y1="62.39" x2="507.03" y2="70.01" stroke="#ffffff" stroke-opacity="0.55" stroke-width="0.9"/>
<defs><linearGradient id="g7" gradientUnits="userSpaceOnUse" x1="502.27" y1="0" x2="604.18" y2="0"><stop offset="0.0000" stop-color="#c0cde8"/><stop offset="0.0250" stop-color="#b5c3e0"/><stop offset="0.0500" stop-color="#abbad9"/><stop offset="0.0750" stop-color="#a2b1d2"/><stop offset="0.1000" stop-color="#99a9cc"/><stop offset="0.1250" stop-color="#91a2c6"/><stop offset="0.1500" stop-color="#8a9bc0"/><stop offset="0.1750" stop-color="#8394bb"/><stop offset="0.2000" stop-color="#7c8eb7"/><stop offset="0.2250" stop-color="#7689b2"/><stop offset="0.2500" stop-color="#7184af"/><stop offset="0.2750" stop-color="#6c7fab"/><stop offset="0.3000" stop-color="#687ba8"/><stop offset="0.3250" stop-color="#6478a5"/><stop offset="0.3500" stop-color="#6175a3"/><stop offset="0.3750" stop-color="#5f73a1"/><stop offset="0.4000" stop-color="#5d71a0"/><stop offset="0.4250" stop-color="#5b709f"/><stop offset="0.4500" stop-color="#5a6f9e"/><stop offset="0.4750" stop-color="#5a6e9e"/><stop offset="0.5000" stop-color="#5a6e9e"/><stop offset="0.5250" stop-color="#5a6e9e"/><stop offset="0.5500" stop-color="#5a6f9e"/><stop offset="0.5750" stop-color="#5b709f"/><stop offset="0.6000" stop-color="#5d71a0"/><stop offset="0.6250" stop-color="#5f73a1"/><stop offset="0.6500" stop-color="#6175a3"/><stop offset="0.6750" stop-color="#6478a5"/><stop offset="0.7000" stop-color="#687ba8"/><stop offset="0.7250" stop-color="#6c7fab"/><stop offset="0.7500" stop-color="#7184af"/><stop offset="0.7750" stop-color="#7689b2"/><stop offset="0.8000" stop-color="#7c8eb7"/><stop offset="0.8250" stop-color="#8394bb"/><stop offset="0.8500" stop-color="#8a9bc0"/><stop offset="0.8750" stop-color="#91a2c6"/><stop offset="0.9000" stop-color="#99a9cc"/><stop offset="0.9250" stop-color="#a2b1d2"/><stop offset="0.9500" stop-color="#abbad9"/><stop offset="0.9750" stop-color="#b5c3e0"/><stop offset="1.0000" stop-color="#c0cde8"/></linearGradient></defs>
<path d="M502.27,88.50 L503.54,88.13 L504.82,87.77 L506.09,87.43 L507.36,87.10 L508.64,86.78 L509.91,86.48 L511.18,86.18 L512.46,85.90 L513.73,85.64 L515.01,85.38 L516.28,85.13 L517.55,84.90 L518.83,84.68 L520.10,84.47 L521.38,84.27 L522.65,84.08 L523.92,83.90 L525.20,83.73 L526.47,83.57 L527.75,83.43 L529.02,83.29 L530.29,83.16 L531.57,83.04 L532.84,82.93 L534.12,82.83 L535.39,82.74 L536.66,82.66 L537.94,82.59 L539.21,82.52 L540.49,82.46 L541.76,82.41 L543.03,82.37 L544.31,82.33 L545.58,82.30 L546.86,82.28 L548.13,82.26 L549.40,82.25 L550.68,82.24 L551.95,82.24 L553.22,82.24 L554.50,82.24 L555.77,82.24 L557.05,82.25 L558.32,82.26 L559.59,82.28 L560.87,82.30 L562.14,82.33 L563.42,82.37 L564.69,82.41 L565.96,82.46 L567.24,82.52 L568.51,82.59 L569.79,82.66 L571.06,82.74 L572.33,82.83 L573.61,82.93 L574.88,83.04 L576.16,83.16 L577.43,83.29 L578.70,83.43 L579.98,83.57 L581.25,83.73 L582.53,83.90 L583.80,84.08 L585.07,84.27 L586.35,84.47 L587.62,84.68 L588.90,84.90 L590.17,85.13 L591.44,85.38 L592.72,85.64 L593.99,85.90 L595.27,86.18 L596.54,86.48 L597.81,86.78 L599.09,87.10 L600.36,87.43 L601.63,87.77 L602.91,88.13 L604.18,88.50 L604.18,88.50 L602.91,88.87 L601.63,89.23 L600.36,89.57 L599.09,89.90 L597.81,90.22 L596.54,90.52 L595.27,90.82 L593.99,91.10 L592.72,91.36 L591.44,91.62 L590.17,91.87 L588.90,92.10 L587.62,92.32 L586.35,92.53 L585.07,92.73 L583.80,92.92 L582.53,93.10 L581.25,93.27 L579.98,93.43 L578.70,93.57 L577.43,93.71 L576.16,93.84 L574.88,93.96 L573.61,94.07 L572.33,94.17 L571.06,94.26 L569.79,94.34 L568.51,94.41 L567.24,94.48 L565.96,94.54 L564.69,94.59 L563.42,94.63 L562.14,94.67 L560.87,94.70 L559.59,94.72 L558.32,94.74 L557.05,94.75 L555.77,94.76 L554.50,94.76 L553.22,94.76 L551.95,94.76 L550.68,94.76 L549.40,94.75 L548.13,94.74 L546.86,94.72 L545.58,94.70 L544.31,94.67 L543.03,94.63 L541.76,94.59 L540.49,94.54 L539.21,94.48 L537.94,94.41 L536.66,94.34 L535.39,94.26 L534.12,94.17 L532.84,94.07 L531.57,93.96 L530.29,93.84 L529.02,93.71 L527.75,93.57 L526.47,93.43 L525.20,93.27 L523.92,93.10 L522.65,92.92 L521.38,92.73 L520.10,92.53 L518.83,92.32 L517.55,92.10 L516.28,91.87 L515.01,91.62 L513.73,91.36 L512.46,91.10 L511.18,90.82 L509.91,90.52 L508.64,90.22 L507.36,89.90 L506.09,89.57 L504.82,89.23 L503.54,88.87 L502.27,88.50Z" fill="url(#g7)"/>
<line x1="553.22" y1="84.69" x2="553.22" y2="92.31" stroke="#ffffff" stroke-opacity="0.55" stroke-width="0.9"/>
<defs><linearGradient id="g8" gradientUnits="userSpaceOnUse" x1="456.69" y1="0" x2="537.25" y2="0"><stop offset="0.0000" stop-color="#c0cde8"/><stop offset="0.0250" stop-color="#afbddc"/><stop offset="0.0500" stop-color="#9faed0"/><stop offset="0.0750" stop-color="#90a1c5"/><stop offset="0.1000" stop-color="#8294bb"/><stop offset="0.1250" stop-color="#7587b2"/><stop offset="0.1500" stop-color="#697ca9"/><stop offset="0.1750" stop-color="#5e72a1"/><stop offset="0.2000" stop-color="#536899"/><stop offset="0.2250" stop-color="#4a6092"/><stop offset="0.2500" stop-color="#41588c"/><stop offset="0.2750" stop-color="#3a5187"/><stop offset="0.3000" stop-color="#334a82"/><stop offset="0.3250" stop-color="#2d457e"/><stop offset="0.3500" stop-color="#28407a"/><stop offset="0.3750" stop-color="#243d77"/><stop offset="0.4000" stop-color="#213a75"/><stop offset="0.4250" stop-color="#1f3773"/><stop offset="0.4500" stop-color="#1d3672"/><stop offset="0.4750" stop-color="#1c3571"/><stop offset="0.5000" stop-color="#1c3571"/><stop offset="0.5250" stop-color="#1c3571"/><stop offset="0.5500" stop-color="#1d3672"/><stop offset="0.5750" stop-color="#1f3773"/><stop offset="0.6000" stop-color="#213a75"/><stop offset="0.6250" stop-color="#243d77"/><stop offset="0.6500" stop-color="#28407a"/><stop offset="0.6750" stop-color="#2d457e"/><stop offset="0.7000" stop-color="#334a82"/><stop offset="0.7250" stop-color="#3a5187"/><stop offset="0.7500" stop-color="#41588c"/><stop offset="0.7750" stop-color="#4a6092"/><stop offset="0.8000" stop-color="#536899"/><stop offset="0.8250" stop-color="#5e72a1"/><stop offset="0.8500" stop-color="#697ca9"/><stop offset="0.8750" stop-color="#7587b2"/><stop offset="0.9000" stop-color="#8294bb"/><stop offset="0.9250" stop-color="#90a1c5"/><stop offset="0.9500" stop-color="#9faed0"/><stop offset="0.9750" stop-color="#afbddc"/><stop offset="1.0000" stop-color="#c0cde8"/></linearGradient></defs>
<path d="M456.69,110.90 L457.70,110.31 L458.71,109.74 L459.71,109.19 L460.72,108.66 L461.73,108.15 L462.73,107.66 L463.74,107.19 L464.75,106.74 L465.76,106.31 L466.76,105.90 L467.77,105.51 L468.78,105.14 L469.78,104.78 L470.79,104.44 L471.80,104.12 L472.80,103.82 L473.81,103.53 L474.82,103.27 L475.82,103.01 L476.83,102.78 L477.84,102.56 L478.85,102.35 L479.85,102.16 L480.86,101.99 L481.87,101.83 L482.87,101.68 L483.88,101.55 L484.89,101.44 L485.89,101.33 L486.90,101.24 L487.91,101.16 L488.91,101.09 L489.92,101.03 L490.93,100.98 L491.94,100.95 L492.94,100.92 L493.95,100.90 L494.96,100.89 L495.96,100.88 L496.97,100.88 L497.98,100.88 L498.98,100.89 L499.99,100.90 L501.00,100.92 L502.00,100.95 L503.01,100.98 L504.02,101.03 L505.03,101.09 L506.03,101.16 L507.04,101.24 L508.05,101.33 L509.05,101.44 L510.06,101.55 L511.07,101.68 L512.07,101.83 L513.08,101.99 L514.09,102.16 L515.10,102.35 L516.10,102.56 L517.11,102.78 L518.12,103.01 L519.12,103.27 L520.13,103.53 L521.14,103.82 L522.14,104.12 L523.15,104.44 L524.16,104.78 L525.16,105.14 L526.17,105.51 L527.18,105.90 L528.19,106.31 L529.19,106.74 L530.20,107.19 L531.21,107.66 L532.21,108.15 L533.22,108.66 L534.23,109.19 L535.23,109.74 L536.24,110.31 L537.25,110.90 L537.25,110.90 L536.24,111.49 L535.23,112.06 L534.23,112.61 L533.22,113.14 L532.21,113.65 L531.21,114.14 L530.20,114.61 L529.19,115.06 L528.19,115.49 L527.18,115.90 L526.17,116.29 L525.16,116.66 L524.16,117.02 L523.15,117.36 L522.14,117.68 L521.14,117.98 L520.13,118.27 L519.12,118.53 L518.12,118.79 L517.11,119.02 L516.10,119.24 L515.10,119.45 L514.09,119.64 L513.08,119.81 L512.07,119.97 L511.07,120.12 L510.06,120.25 L509.05,120.36 L508.05,120.47 L507.04,120.56 L506.03,120.64 L505.03,120.71 L504.02,120.77 L503.01,120.82 L502.00,120.85 L501.00,120.88 L499.99,120.90 L498.98,120.91 L497.98,120.92 L496.97,120.92 L495.96,120.92 L494.96,120.91 L493.95,120.90 L492.94,120.88 L491.94,120.85 L490.93,120.82 L489.92,120.77 L488.91,120.71 L487.91,120.64 L486.90,120.56 L485.89,120.47 L484.89,120.36 L483.88,120.25 L482.87,120.12 L481.87,119.97 L480.86,119.81 L479.85,119.64 L478.85,119.45 L477.84,119.24 L476.83,119.02 L475.82,118.79 L474.82,118.53 L473.81,118.27 L472.80,117.98 L471.80,117.68 L470.79,117.36 L469.78,117.02 L468.78,116.66 L467.77,116.29 L466.76,115.90 L465.76,115.49 L464.75,115.06 L463.74,114.61 L462.73,114.14 L461.73,113.65 L460.72,113.14 L459.71,112.61 L458.71,112.06 L457.70,111.49 L456.69,110.90Z" fill="url(#g8)"/>
<line x1="496.97" y1="107.09" x2="496.97" y2="114.71" stroke="#ffffff" stroke-opacity="0.55" stroke-width="0.9"/>
<defs><linearGradient id="g9" gradientUnits="userSpaceOnUse" x1="398.38" y1="0" x2="523.35" y2="0"><stop offset="0.0000" stop-color="#c0cde8"/><stop offset="0.0250" stop-color="#b9c6e3"/><stop offset="0.0500" stop-color="#b2c0de"/><stop offset="0.0750" stop-color="#acbbda"/><stop offset="0.1000" stop-color="#a6b5d5"/><stop offset="0.1250" stop-color="#a1b0d1"/><stop offset="0.1500" stop-color="#9cabce"/><stop offset="0.1750" stop-color="#97a7ca"/><stop offset="0.2000" stop-color="#93a3c7"/><stop offset="0.2250" stop-color="#8fa0c4"/><stop offset="0.2500" stop-color="#8b9cc2"/><stop offset="0.2750" stop-color="#8899c0"/><stop offset="0.3000" stop-color="#8597be"/><stop offset="0.3250" stop-color="#8394bc"/><stop offset="0.3500" stop-color="#8193ba"/><stop offset="0.3750" stop-color="#7f91b9"/><stop offset="0.4000" stop-color="#7e90b8"/><stop offset="0.4250" stop-color="#7d8fb7"/><stop offset="0.4500" stop-color="#7c8eb7"/><stop offset="0.4750" stop-color="#7c8eb7"/><stop offset="0.5000" stop-color="#7c8eb7"/><stop offset="0.5250" stop-color="#7c8eb7"/><stop offset="0.5500" stop-color="#7c8eb7"/><stop offset="0.5750" stop-color="#7d8fb7"/><stop offset="0.6000" stop-color="#7e90b8"/><stop offset="0.6250" stop-color="#7f91b9"/><stop offset="0.6500" stop-color="#8193ba"/><stop offset="0.6750" stop-color="#8394bc"/><stop offset="0.7000" stop-color="#8597be"/><stop offset="0.7250" stop-color="#8899c0"/><stop offset="0.7500" stop-color="#8b9cc2"/><stop offset="0.7750" stop-color="#8fa0c4"/><stop offset="0.8000" stop-color="#93a3c7"/><stop offset="0.8250" stop-color="#97a7ca"/><stop offset="0.8500" stop-color="#9cabce"/><stop offset="0.8750" stop-color="#a1b0d1"/><stop offset="0.9000" stop-color="#a6b5d5"/><stop offset="0.9250" stop-color="#acbbda"/><stop offset="0.9500" stop-color="#b2c0de"/><stop offset="0.9750" stop-color="#b9c6e3"/><stop offset="1.0000" stop-color="#c0cde8"/></linearGradient></defs>
<path d="M398.38,133.40 L399.94,133.15 L401.50,132.92 L403.07,132.69 L404.63,132.47 L406.19,132.26 L407.75,132.06 L409.32,131.86 L410.88,131.67 L412.44,131.49 L414.00,131.32 L415.56,131.16 L417.13,131.01 L418.69,130.86 L420.25,130.72 L421.81,130.58 L423.38,130.46 L424.94,130.34 L426.50,130.23 L428.06,130.12 L429.62,130.03 L431.19,129.93 L432.75,129.85 L434.31,129.77 L435.87,129.70 L437.43,129.63 L439.00,129.57 L440.56,129.52 L442.12,129.47 L443.68,129.42 L445.25,129.39 L446.81,129.35 L448.37,129.32 L449.93,129.30 L451.49,129.28 L453.06,129.26 L454.62,129.25 L456.18,129.24 L457.74,129.24 L459.30,129.24 L460.87,129.24 L462.43,129.24 L463.99,129.24 L465.55,129.24 L467.12,129.25 L468.68,129.26 L470.24,129.28 L471.80,129.30 L473.36,129.32 L474.93,129.35 L476.49,129.39 L478.05,129.42 L479.61,129.47 L481.17,129.52 L482.74,129.57 L484.30,129.63 L485.86,129.70 L487.42,129.77 L488.99,129.85 L490.55,129.93 L492.11,130.03 L493.67,130.12 L495.23,130.23 L496.80,130.34 L498.36,130.46 L499.92,130.58 L501.48,130.72 L503.05,130.86 L504.61,131.01 L506.17,131.16 L507.73,131.32 L509.29,131.49 L510.86,131.67 L512.42,131.86 L513.98,132.06 L515.54,132.26 L517.10,132.47 L518.67,132.69 L520.23,132.92 L521.79,133.15 L523.35,133.40 L523.35,133.40 L521.79,133.65 L520.23,133.88 L518.67,134.11 L517.10,134.33 L515.54,134.54 L513.98,134.74 L512.42,134.94 L510.86,135.13 L509.29,135.31 L507.73,135.48 L506.17,135.64 L504.61,135.79 L503.05,135.94 L501.48,136.08 L499.92,136.22 L498.36,136.34 L496.80,136.46 L495.23,136.57 L493.67,136.68 L492.11,136.77 L490.55,136.87 L488.99,136.95 L487.42,137.03 L485.86,137.10 L484.30,137.17 L482.74,137.23 L481.17,137.28 L479.61,137.33 L478.05,137.38 L476.49,137.41 L474.93,137.45 L473.36,137.48 L471.80,137.50 L470.24,137.52 L468.68,137.54 L467.12,137.55 L465.55,137.56 L463.99,137.56 L462.43,137.56 L460.87,137.56 L459.30,137.56 L457.74,137.56 L456.18,137.56 L454.62,137.55 L453.06,137.54 L451.49,137.52 L449.93,137.50 L448.37,137.48 L446.81,137.45 L445.25,137.41 L443.68,137.38 L442.12,137.33 L440.56,137.28 L439.00,137.23 L437.43,137.17 L435.87,137.10 L434.31,137.03 L432.75,136.95 L431.19,136.87 L429.62,136.77 L428.06,136.68 L426.50,136.57 L424.94,136.46 L423.38,136.34 L421.81,136.22 L420.25,136.08 L418.69,135.94 L417.13,135.79 L415.56,135.64 L414.00,135.48 L412.44,135.31 L410.88,135.13 L409.32,134.94 L407.75,134.74 L406.19,134.54 L404.63,134.33 L403.07,134.11 L401.50,133.88 L399.94,133.65 L398.38,133.40Z" fill="url(#g9)"/>
<line x1="460.87" y1="129.59" x2="460.87" y2="137.21" stroke="#ffffff" stroke-opacity="0.55" stroke-width="0.9"/>
<path d="M482.84,178.3 L506.68,171.44 L530.51,178.3 L506.68,185.16Z" fill="#1c3571"/>
<line x1="554.2" y1="32.3" x2="554.2" y2="200.1" stroke="#5a5a5a" stroke-width="0.7" stroke-dasharray="1.3 1.5"/>
<line x1="386.9" y1="32.3" x2="386.9" y2="200.1" stroke="#dadada" stroke-width="1"/>
<line x1="615.3" y1="32.3" x2="615.3" y2="200.1" stroke="#dadada" stroke-width="1"/>
<line x1="386.4" y1="32.3" x2="615.8" y2="32.3" stroke="#a8a8a8" stroke-width="0.9"/>
<line x1="386.4" y1="200.1" x2="615.8" y2="200.1" stroke="#a8a8a8" stroke-width="0.9"/>
<text transform="translate(384.90,68.70) scale(0.9,1)" font-size="6.6" fill="#4d4d4d" stroke="#4d4d4d" stroke-width="0.18" text-anchor="end">PanGenEU</text>
<line x1="385.59999999999997" y1="66.2" x2="386.9" y2="66.2" stroke="#555" stroke-width="0.7"/>
<text transform="translate(384.90,91.00) scale(0.9,1)" font-size="6.6" fill="#4d4d4d" stroke="#4d4d4d" stroke-width="0.18" text-anchor="end">TCGA</text>
<line x1="385.59999999999997" y1="88.5" x2="386.9" y2="88.5" stroke="#555" stroke-width="0.7"/>
<text transform="translate(384.90,113.40) scale(0.9,1)" font-size="6.6" fill="#4d4d4d" stroke="#4d4d4d" stroke-width="0.18" text-anchor="end">ICGC-CA</text>
<line x1="385.59999999999997" y1="110.9" x2="386.9" y2="110.9" stroke="#555" stroke-width="0.7"/>
<text transform="translate(384.90,135.90) scale(0.9,1)" font-size="6.6" fill="#4d4d4d" stroke="#4d4d4d" stroke-width="0.18" text-anchor="end">ICGC-AU</text>
<line x1="385.59999999999997" y1="133.4" x2="386.9" y2="133.4" stroke="#555" stroke-width="0.7"/>
<text transform="translate(384.90,180.80) scale(0.9,1)" font-size="6.6" fill="#4d4d4d" stroke="#4d4d4d" stroke-width="0.18" text-anchor="end">Meta-analysis</text>
<line x1="385.59999999999997" y1="178.3" x2="386.9" y2="178.3" stroke="#555" stroke-width="0.7"/>
<defs><clipPath id="c10"><rect x="0" y="200.1" width="615.5999999999999" height="20"/></clipPath></defs><g clip-path="url(#c10)">
<line x1="441.80" y1="200.1" x2="441.80" y2="201.6" stroke="#333" stroke-width="0.6"/>
<text transform="translate(441.80,206.3) scale(0.95,1)" font-size="6.4" fill="#4d4d4d" stroke="#4d4d4d" stroke-width="0.18" text-anchor="middle">0.368</text>
<line x1="498.00" y1="200.1" x2="498.00" y2="201.6" stroke="#333" stroke-width="0.6"/>
<text transform="translate(498.00,206.3) scale(0.95,1)" font-size="6.4" fill="#4d4d4d" stroke="#4d4d4d" stroke-width="0.18" text-anchor="middle">0.607</text>
<line x1="554.20" y1="200.1" x2="554.20" y2="201.6" stroke="#333" stroke-width="0.6"/>
<text transform="translate(554.20,206.3) scale(0.95,1)" font-size="6.4" fill="#4d4d4d" stroke="#4d4d4d" stroke-width="0.18" text-anchor="middle">1</text>
<line x1="610.40" y1="200.1" x2="610.40" y2="201.6" stroke="#333" stroke-width="0.6"/>
<text transform="translate(610.40,206.3) scale(0.95,1)" font-size="6.4" fill="#4d4d4d" stroke="#4d4d4d" stroke-width="0.18" text-anchor="middle">1.649</text>
</g>
<text x="501.10" y="213.5" font-size="7.4" fill="#222" text-anchor="middle">HR</text>
<text x="624.6" y="46.78" font-size="7.6" fill="#111" stroke="#111" stroke-width="0.18">HR [95% CI]</text>
<line x1="624.6" y1="55.1" x2="681.1" y2="55.1" stroke="#333" stroke-width="0.8"/>
<text transform="translate(624.6,69.20) scale(0.95,1)" font-size="7.9" fill="#111" stroke="#111" stroke-width="0.18">0.66 [0.45, 0.96]</text>
<text transform="translate(624.6,91.50) scale(0.95,1)" font-size="7.9" fill="#111" stroke="#111" stroke-width="0.18">0.99 [0.63, 1.56]</text>
<text transform="translate(624.6,113.90) scale(0.95,1)" font-size="7.9" fill="#111" stroke="#111" stroke-width="0.18">0.60 [0.42, 0.86]</text>
<text transform="translate(624.6,136.40) scale(0.95,1)" font-size="7.9" fill="#111" stroke="#111" stroke-width="0.18">0.43 [0.25, 0.76]</text>
<text transform="translate(624.6,181.30) scale(0.95,1)" font-size="7.9" fill="#111" stroke="#111" stroke-width="0.18">0.66 [0.53, 0.81]</text>
<text x="41.90" y="259.2" font-size="16.8" font-weight="bold" fill="#000">C. <tspan font-style="italic">F2R</tspan></text>
<text x="175.5" y="258.2" font-size="13.0" fill="#111">Adj. <tspan font-style="italic">P</tspan> value=1.68x10<tspan font-size="9.2" dy="-4.5">-2</tspan></text>
<rect x="41.4" y="276.4" width="229.49999999999997" height="168.70000000000005" fill="#fff"/>
<line x1="87.68" y1="276.4" x2="87.68" y2="445.1" stroke="#ebebeb" stroke-width="0.9"/>
<line x1="170.43" y1="276.4" x2="170.43" y2="445.1" stroke="#ebebeb" stroke-width="0.9"/>
<line x1="253.18" y1="276.4" x2="253.18" y2="445.1" stroke="#ebebeb" stroke-width="0.9"/>
<line x1="46.30" y1="276.4" x2="46.30" y2="445.1" stroke="#e3e3e3" stroke-width="0.9"/>
<line x1="129.05" y1="276.4" x2="129.05" y2="445.1" stroke="#e3e3e3" stroke-width="0.9"/>
<line x1="211.80" y1="276.4" x2="211.80" y2="445.1" stroke="#e3e3e3" stroke-width="0.9"/>
<defs><linearGradient id="g11" gradientUnits="userSpaceOnUse" x1="103.58" y1="0" x2="226.06" y2="0"><stop offset="0.0000" stop-color="#c0cde8"/><stop offset="0.0250" stop-color="#afbedc"/><stop offset="0.0500" stop-color="#a0afd1"/><stop offset="0.0750" stop-color="#91a2c6"/><stop offset="0.1000" stop-color="#8495bc"/><stop offset="0.1250" stop-color="#7789b3"/><stop offset="0.1500" stop-color="#6b7eab"/><stop offset="0.1750" stop-color="#6074a3"/><stop offset="0.2000" stop-color="#566b9b"/><stop offset="0.2250" stop-color="#4d6395"/><stop offset="0.2500" stop-color="#455b8f"/><stop offset="0.2750" stop-color="#3e5489"/><stop offset="0.3000" stop-color="#374e85"/><stop offset="0.3250" stop-color="#314981"/><stop offset="0.3500" stop-color="#2d447d"/><stop offset="0.3750" stop-color="#29417a"/><stop offset="0.4000" stop-color="#263e78"/><stop offset="0.4250" stop-color="#233c76"/><stop offset="0.4500" stop-color="#223a75"/><stop offset="0.4750" stop-color="#213a75"/><stop offset="0.5000" stop-color="#213974"/><stop offset="0.5250" stop-color="#213a75"/><stop offset="0.5500" stop-color="#223a75"/><stop offset="0.5750" stop-color="#233c76"/><stop offset="0.6000" stop-color="#263e78"/><stop offset="0.6250" stop-color="#29417a"/><stop offset="0.6500" stop-color="#2d447d"/><stop offset="0.6750" stop-color="#314981"/><stop offset="0.7000" stop-color="#374e85"/><stop offset="0.7250" stop-color="#3e5489"/><stop offset="0.7500" stop-color="#455b8f"/><stop offset="0.7750" stop-color="#4d6395"/><stop offset="0.8000" stop-color="#566b9b"/><stop offset="0.8250" stop-color="#6074a3"/><stop offset="0.8500" stop-color="#6b7eab"/><stop offset="0.8750" stop-color="#7789b3"/><stop offset="0.9000" stop-color="#8495bc"/><stop offset="0.9250" stop-color="#91a2c6"/><stop offset="0.9500" stop-color="#a0afd1"/><stop offset="0.9750" stop-color="#afbedc"/><stop offset="1.0000" stop-color="#c0cde8"/></linearGradient></defs>
<path d="M103.58,310.40 L105.11,309.82 L106.64,309.27 L108.17,308.73 L109.70,308.21 L111.23,307.72 L112.76,307.24 L114.29,306.78 L115.82,306.34 L117.35,305.92 L118.89,305.52 L120.42,305.14 L121.95,304.77 L123.48,304.42 L125.01,304.09 L126.54,303.78 L128.07,303.48 L129.60,303.20 L131.13,302.94 L132.67,302.70 L134.20,302.47 L135.73,302.25 L137.26,302.05 L138.79,301.87 L140.32,301.70 L141.85,301.54 L143.38,301.40 L144.91,301.27 L146.45,301.16 L147.98,301.05 L149.51,300.96 L151.04,300.88 L152.57,300.82 L154.10,300.76 L155.63,300.71 L157.16,300.68 L158.69,300.65 L160.23,300.63 L161.76,300.62 L163.29,300.61 L164.82,300.61 L166.35,300.61 L167.88,300.62 L169.41,300.63 L170.94,300.65 L172.47,300.68 L174.01,300.71 L175.54,300.76 L177.07,300.82 L178.60,300.88 L180.13,300.96 L181.66,301.05 L183.19,301.16 L184.72,301.27 L186.25,301.40 L187.79,301.54 L189.32,301.70 L190.85,301.87 L192.38,302.05 L193.91,302.25 L195.44,302.47 L196.97,302.70 L198.50,302.94 L200.03,303.20 L201.56,303.48 L203.10,303.78 L204.63,304.09 L206.16,304.42 L207.69,304.77 L209.22,305.14 L210.75,305.52 L212.28,305.92 L213.81,306.34 L215.34,306.78 L216.88,307.24 L218.41,307.72 L219.94,308.21 L221.47,308.73 L223.00,309.27 L224.53,309.82 L226.06,310.40 L226.06,310.40 L224.53,310.98 L223.00,311.53 L221.47,312.07 L219.94,312.59 L218.41,313.08 L216.88,313.56 L215.34,314.02 L213.81,314.46 L212.28,314.88 L210.75,315.28 L209.22,315.66 L207.69,316.03 L206.16,316.38 L204.63,316.71 L203.10,317.02 L201.56,317.32 L200.03,317.60 L198.50,317.86 L196.97,318.10 L195.44,318.33 L193.91,318.55 L192.38,318.75 L190.85,318.93 L189.32,319.10 L187.79,319.26 L186.25,319.40 L184.72,319.53 L183.19,319.64 L181.66,319.75 L180.13,319.84 L178.60,319.92 L177.07,319.98 L175.54,320.04 L174.01,320.09 L172.47,320.12 L170.94,320.15 L169.41,320.17 L167.88,320.18 L166.35,320.19 L164.82,320.19 L163.29,320.19 L161.76,320.18 L160.23,320.17 L158.69,320.15 L157.16,320.12 L155.63,320.09 L154.10,320.04 L152.57,319.98 L151.04,319.92 L149.51,319.84 L147.98,319.75 L146.45,319.64 L144.91,319.53 L143.38,319.40 L141.85,319.26 L140.32,319.10 L138.79,318.93 L137.26,318.75 L135.73,318.55 L134.20,318.33 L132.67,318.10 L131.13,317.86 L129.60,317.60 L128.07,317.32 L126.54,317.02 L125.01,316.71 L123.48,316.38 L121.95,316.03 L120.42,315.66 L118.89,315.28 L117.35,314.88 L115.82,314.46 L114.29,314.02 L112.76,313.56 L111.23,313.08 L109.70,312.59 L108.17,312.07 L106.64,311.53 L105.11,310.98 L103.58,310.40Z" fill="url(#g11)"/>
<line x1="164.82" y1="306.57" x2="164.82" y2="314.23" stroke="#ffffff" stroke-opacity="0.55" stroke-width="0.9"/>
<defs><linearGradient id="g12" gradientUnits="userSpaceOnUse" x1="51.66" y1="0" x2="203.31" y2="0"><stop offset="0.0000" stop-color="#c0cde8"/><stop offset="0.0250" stop-color="#b5c3e0"/><stop offset="0.0500" stop-color="#abbad9"/><stop offset="0.0750" stop-color="#a2b1d2"/><stop offset="0.1000" stop-color="#99a9cb"/><stop offset="0.1250" stop-color="#90a1c5"/><stop offset="0.1500" stop-color="#899ac0"/><stop offset="0.1750" stop-color="#8293bb"/><stop offset="0.2000" stop-color="#7b8db6"/><stop offset="0.2250" stop-color="#7588b2"/><stop offset="0.2500" stop-color="#7083ae"/><stop offset="0.2750" stop-color="#6b7eaa"/><stop offset="0.3000" stop-color="#677aa7"/><stop offset="0.3250" stop-color="#6377a5"/><stop offset="0.3500" stop-color="#6074a2"/><stop offset="0.3750" stop-color="#5d72a0"/><stop offset="0.4000" stop-color="#5b709f"/><stop offset="0.4250" stop-color="#5a6e9e"/><stop offset="0.4500" stop-color="#596d9d"/><stop offset="0.4750" stop-color="#586d9d"/><stop offset="0.5000" stop-color="#586d9d"/><stop offset="0.5250" stop-color="#586d9d"/><stop offset="0.5500" stop-color="#596d9d"/><stop offset="0.5750" stop-color="#5a6e9e"/><stop offset="0.6000" stop-color="#5b709f"/><stop offset="0.6250" stop-color="#5d72a0"/><stop offset="0.6500" stop-color="#6074a2"/><stop offset="0.6750" stop-color="#6377a5"/><stop offset="0.7000" stop-color="#677aa7"/><stop offset="0.7250" stop-color="#6b7eaa"/><stop offset="0.7500" stop-color="#7083ae"/><stop offset="0.7750" stop-color="#7588b2"/><stop offset="0.8000" stop-color="#7b8db6"/><stop offset="0.8250" stop-color="#8293bb"/><stop offset="0.8500" stop-color="#899ac0"/><stop offset="0.8750" stop-color="#90a1c5"/><stop offset="0.9000" stop-color="#99a9cb"/><stop offset="0.9250" stop-color="#a2b1d2"/><stop offset="0.9500" stop-color="#abbad9"/><stop offset="0.9750" stop-color="#b5c3e0"/><stop offset="1.0000" stop-color="#c0cde8"/></linearGradient></defs>
<path d="M51.66,332.90 L53.56,332.52 L55.46,332.16 L57.35,331.81 L59.25,331.47 L61.14,331.15 L63.04,330.84 L64.93,330.54 L66.83,330.25 L68.73,329.98 L70.62,329.72 L72.52,329.47 L74.41,329.23 L76.31,329.00 L78.20,328.78 L80.10,328.58 L81.99,328.39 L83.89,328.21 L85.79,328.03 L87.68,327.87 L89.58,327.72 L91.47,327.58 L93.37,327.45 L95.26,327.33 L97.16,327.22 L99.05,327.12 L100.95,327.03 L102.85,326.94 L104.74,326.87 L106.64,326.80 L108.53,326.74 L110.43,326.69 L112.32,326.65 L114.22,326.61 L116.11,326.58 L118.01,326.56 L119.91,326.54 L121.80,326.53 L123.70,326.52 L125.59,326.51 L127.49,326.51 L129.38,326.51 L131.28,326.52 L133.17,326.53 L135.07,326.54 L136.97,326.56 L138.86,326.58 L140.76,326.61 L142.65,326.65 L144.55,326.69 L146.44,326.74 L148.34,326.80 L150.23,326.87 L152.13,326.94 L154.03,327.03 L155.92,327.12 L157.82,327.22 L159.71,327.33 L161.61,327.45 L163.50,327.58 L165.40,327.72 L167.30,327.87 L169.19,328.03 L171.09,328.21 L172.98,328.39 L174.88,328.58 L176.77,328.78 L178.67,329.00 L180.56,329.23 L182.46,329.47 L184.36,329.72 L186.25,329.98 L188.15,330.25 L190.04,330.54 L191.94,330.84 L193.83,331.15 L195.73,331.47 L197.62,331.81 L199.52,332.16 L201.42,332.52 L203.31,332.90 L203.31,332.90 L201.42,333.28 L199.52,333.64 L197.62,333.99 L195.73,334.33 L193.83,334.65 L191.94,334.96 L190.04,335.26 L188.15,335.55 L186.25,335.82 L184.36,336.08 L182.46,336.33 L180.56,336.57 L178.67,336.80 L176.77,337.02 L174.88,337.22 L172.98,337.41 L171.09,337.59 L169.19,337.77 L167.30,337.93 L165.40,338.08 L163.50,338.22 L161.61,338.35 L159.71,338.47 L157.82,338.58 L155.92,338.68 L154.03,338.77 L152.13,338.86 L150.23,338.93 L148.34,339.00 L146.44,339.06 L144.55,339.11 L142.65,339.15 L140.76,339.19 L138.86,339.22 L136.97,339.24 L135.07,339.26 L133.17,339.27 L131.28,339.28 L129.38,339.29 L127.49,339.29 L125.59,339.29 L123.70,339.28 L121.80,339.27 L119.91,339.26 L118.01,339.24 L116.11,339.22 L114.22,339.19 L112.32,339.15 L110.43,339.11 L108.53,339.06 L106.64,339.00 L104.74,338.93 L102.85,338.86 L100.95,338.77 L99.05,338.68 L97.16,338.58 L95.26,338.47 L93.37,338.35 L91.47,338.22 L89.58,338.08 L87.68,337.93 L85.79,337.77 L83.89,337.59 L81.99,337.41 L80.10,337.22 L78.20,337.02 L76.31,336.80 L74.41,336.57 L72.52,336.33 L70.62,336.08 L68.73,335.82 L66.83,335.55 L64.93,335.26 L63.04,334.96 L61.14,334.65 L59.25,334.33 L57.35,333.99 L55.46,333.64 L53.56,333.28 L51.66,332.90Z" fill="url(#g12)"/>
<line x1="127.49" y1="329.07" x2="127.49" y2="336.73" stroke="#ffffff" stroke-opacity="0.55" stroke-width="0.9"/>
<defs><linearGradient id="g13" gradientUnits="userSpaceOnUse" x1="109.82" y1="0" x2="230.56" y2="0"><stop offset="0.0000" stop-color="#c0cde8"/><stop offset="0.0250" stop-color="#afbddc"/><stop offset="0.0500" stop-color="#9faed0"/><stop offset="0.0750" stop-color="#90a1c5"/><stop offset="0.1000" stop-color="#8294bb"/><stop offset="0.1250" stop-color="#7587b2"/><stop offset="0.1500" stop-color="#697ca9"/><stop offset="0.1750" stop-color="#5e72a1"/><stop offset="0.2000" stop-color="#536899"/><stop offset="0.2250" stop-color="#4a6092"/><stop offset="0.2500" stop-color="#41588c"/><stop offset="0.2750" stop-color="#3a5187"/><stop offset="0.3000" stop-color="#334a82"/><stop offset="0.3250" stop-color="#2d457e"/><stop offset="0.3500" stop-color="#28407a"/><stop offset="0.3750" stop-color="#243d77"/><stop offset="0.4000" stop-color="#213a75"/><stop offset="0.4250" stop-color="#1f3773"/><stop offset="0.4500" stop-color="#1d3672"/><stop offset="0.4750" stop-color="#1c3571"/><stop offset="0.5000" stop-color="#1c3571"/><stop offset="0.5250" stop-color="#1c3571"/><stop offset="0.5500" stop-color="#1d3672"/><stop offset="0.5750" stop-color="#1f3773"/><stop offset="0.6000" stop-color="#213a75"/><stop offset="0.6250" stop-color="#243d77"/><stop offset="0.6500" stop-color="#28407a"/><stop offset="0.6750" stop-color="#2d457e"/><stop offset="0.7000" stop-color="#334a82"/><stop offset="0.7250" stop-color="#3a5187"/><stop offset="0.7500" stop-color="#41588c"/><stop offset="0.7750" stop-color="#4a6092"/><stop offset="0.8000" stop-color="#536899"/><stop offset="0.8250" stop-color="#5e72a1"/><stop offset="0.8500" stop-color="#697ca9"/><stop offset="0.8750" stop-color="#7587b2"/><stop offset="0.9000" stop-color="#8294bb"/><stop offset="0.9250" stop-color="#90a1c5"/><stop offset="0.9500" stop-color="#9faed0"/><stop offset="0.9750" stop-color="#afbddc"/><stop offset="1.0000" stop-color="#c0cde8"/></linearGradient></defs>
<path d="M109.82,355.50 L111.33,354.91 L112.84,354.33 L114.35,353.78 L115.86,353.25 L117.37,352.74 L118.88,352.25 L120.39,351.77 L121.89,351.32 L123.40,350.89 L124.91,350.48 L126.42,350.08 L127.93,349.71 L129.44,349.35 L130.95,349.01 L132.46,348.69 L133.97,348.38 L135.48,348.09 L136.99,347.82 L138.50,347.57 L140.00,347.33 L141.51,347.11 L143.02,346.91 L144.53,346.72 L146.04,346.54 L147.55,346.38 L149.06,346.24 L150.57,346.10 L152.08,345.98 L153.59,345.88 L155.10,345.79 L156.61,345.71 L158.12,345.64 L159.62,345.58 L161.13,345.53 L162.64,345.49 L164.15,345.46 L165.66,345.44 L167.17,345.43 L168.68,345.43 L170.19,345.42 L171.70,345.43 L173.21,345.43 L174.72,345.44 L176.23,345.46 L177.73,345.49 L179.24,345.53 L180.75,345.58 L182.26,345.64 L183.77,345.71 L185.28,345.79 L186.79,345.88 L188.30,345.98 L189.81,346.10 L191.32,346.24 L192.83,346.38 L194.34,346.54 L195.84,346.72 L197.35,346.91 L198.86,347.11 L200.37,347.33 L201.88,347.57 L203.39,347.82 L204.90,348.09 L206.41,348.38 L207.92,348.69 L209.43,349.01 L210.94,349.35 L212.45,349.71 L213.95,350.08 L215.46,350.48 L216.97,350.89 L218.48,351.32 L219.99,351.77 L221.50,352.25 L223.01,352.74 L224.52,353.25 L226.03,353.78 L227.54,354.33 L229.05,354.91 L230.56,355.50 L230.56,355.50 L229.05,356.09 L227.54,356.67 L226.03,357.22 L224.52,357.75 L223.01,358.26 L221.50,358.75 L219.99,359.23 L218.48,359.68 L216.97,360.11 L215.46,360.52 L213.95,360.92 L212.45,361.29 L210.94,361.65 L209.43,361.99 L207.92,362.31 L206.41,362.62 L204.90,362.91 L203.39,363.18 L201.88,363.43 L200.37,363.67 L198.86,363.89 L197.35,364.09 L195.84,364.28 L194.34,364.46 L192.83,364.62 L191.32,364.76 L189.81,364.90 L188.30,365.02 L186.79,365.12 L185.28,365.21 L183.77,365.29 L182.26,365.36 L180.75,365.42 L179.24,365.47 L177.73,365.51 L176.23,365.54 L174.72,365.56 L173.21,365.57 L171.70,365.57 L170.19,365.58 L168.68,365.57 L167.17,365.57 L165.66,365.56 L164.15,365.54 L162.64,365.51 L161.13,365.47 L159.62,365.42 L158.12,365.36 L156.61,365.29 L155.10,365.21 L153.59,365.12 L152.08,365.02 L150.57,364.90 L149.06,364.76 L147.55,364.62 L146.04,364.46 L144.53,364.28 L143.02,364.09 L141.51,363.89 L140.00,363.67 L138.50,363.43 L136.99,363.18 L135.48,362.91 L133.97,362.62 L132.46,362.31 L130.95,361.99 L129.44,361.65 L127.93,361.29 L126.42,360.92 L124.91,360.52 L123.40,360.11 L121.89,359.68 L120.39,359.23 L118.88,358.75 L117.37,358.26 L115.86,357.75 L114.35,357.22 L112.84,356.67 L111.33,356.09 L109.82,355.50Z" fill="url(#g13)"/>
<line x1="170.19" y1="351.67" x2="170.19" y2="359.33" stroke="#ffffff" stroke-opacity="0.55" stroke-width="0.9"/>
<defs><linearGradient id="g14" gradientUnits="userSpaceOnUse" x1="79.65" y1="0" x2="260.24" y2="0"><stop offset="0.0000" stop-color="#c0cde8"/><stop offset="0.0250" stop-color="#b8c6e2"/><stop offset="0.0500" stop-color="#b1bfdd"/><stop offset="0.0750" stop-color="#abb9d8"/><stop offset="0.1000" stop-color="#a4b3d4"/><stop offset="0.1250" stop-color="#9eaed0"/><stop offset="0.1500" stop-color="#99a9cc"/><stop offset="0.1750" stop-color="#94a4c8"/><stop offset="0.2000" stop-color="#8fa0c5"/><stop offset="0.2250" stop-color="#8b9cc2"/><stop offset="0.2500" stop-color="#8799bf"/><stop offset="0.2750" stop-color="#8495bc"/><stop offset="0.3000" stop-color="#8193ba"/><stop offset="0.3250" stop-color="#7e90b8"/><stop offset="0.3500" stop-color="#7c8eb7"/><stop offset="0.3750" stop-color="#7a8cb5"/><stop offset="0.4000" stop-color="#798bb4"/><stop offset="0.4250" stop-color="#788ab4"/><stop offset="0.4500" stop-color="#778ab3"/><stop offset="0.4750" stop-color="#7789b3"/><stop offset="0.5000" stop-color="#7789b3"/><stop offset="0.5250" stop-color="#7789b3"/><stop offset="0.5500" stop-color="#778ab3"/><stop offset="0.5750" stop-color="#788ab4"/><stop offset="0.6000" stop-color="#798bb4"/><stop offset="0.6250" stop-color="#7a8cb5"/><stop offset="0.6500" stop-color="#7c8eb7"/><stop offset="0.6750" stop-color="#7e90b8"/><stop offset="0.7000" stop-color="#8193ba"/><stop offset="0.7250" stop-color="#8495bc"/><stop offset="0.7500" stop-color="#8799bf"/><stop offset="0.7750" stop-color="#8b9cc2"/><stop offset="0.8000" stop-color="#8fa0c5"/><stop offset="0.8250" stop-color="#94a4c8"/><stop offset="0.8500" stop-color="#99a9cc"/><stop offset="0.8750" stop-color="#9eaed0"/><stop offset="0.9000" stop-color="#a4b3d4"/><stop offset="0.9250" stop-color="#abb9d8"/><stop offset="0.9500" stop-color="#b1bfdd"/><stop offset="0.9750" stop-color="#b8c6e2"/><stop offset="1.0000" stop-color="#c0cde8"/></linearGradient></defs>
<path d="M79.65,378.00 L81.90,377.73 L84.16,377.48 L86.42,377.23 L88.68,376.99 L90.93,376.77 L93.19,376.55 L95.45,376.33 L97.71,376.13 L99.96,375.94 L102.22,375.75 L104.48,375.58 L106.74,375.41 L108.99,375.25 L111.25,375.10 L113.51,374.95 L115.76,374.82 L118.02,374.69 L120.28,374.57 L122.54,374.46 L124.79,374.35 L127.05,374.25 L129.31,374.16 L131.57,374.07 L133.82,374.00 L136.08,373.92 L138.34,373.86 L140.60,373.80 L142.85,373.75 L145.11,373.70 L147.37,373.66 L149.63,373.62 L151.88,373.59 L154.14,373.57 L156.40,373.54 L158.66,373.53 L160.91,373.51 L163.17,373.51 L165.43,373.50 L167.68,373.50 L169.94,373.50 L172.20,373.50 L174.46,373.50 L176.71,373.51 L178.97,373.51 L181.23,373.53 L183.49,373.54 L185.74,373.57 L188.00,373.59 L190.26,373.62 L192.52,373.66 L194.77,373.70 L197.03,373.75 L199.29,373.80 L201.55,373.86 L203.80,373.92 L206.06,374.00 L208.32,374.07 L210.57,374.16 L212.83,374.25 L215.09,374.35 L217.35,374.46 L219.60,374.57 L221.86,374.69 L224.12,374.82 L226.38,374.95 L228.63,375.10 L230.89,375.25 L233.15,375.41 L235.41,375.58 L237.66,375.75 L239.92,375.94 L242.18,376.13 L244.44,376.33 L246.69,376.55 L248.95,376.77 L251.21,376.99 L253.46,377.23 L255.72,377.48 L257.98,377.73 L260.24,378.00 L260.24,378.00 L257.98,378.27 L255.72,378.52 L253.46,378.77 L251.21,379.01 L248.95,379.23 L246.69,379.45 L244.44,379.67 L242.18,379.87 L239.92,380.06 L237.66,380.25 L235.41,380.42 L233.15,380.59 L230.89,380.75 L228.63,380.90 L226.38,381.05 L224.12,381.18 L221.86,381.31 L219.60,381.43 L217.35,381.54 L215.09,381.65 L212.83,381.75 L210.57,381.84 L208.32,381.93 L206.06,382.00 L203.80,382.08 L201.55,382.14 L199.29,382.20 L197.03,382.25 L194.77,382.30 L192.52,382.34 L190.26,382.38 L188.00,382.41 L185.74,382.43 L183.49,382.46 L181.23,382.47 L178.97,382.49 L176.71,382.49 L174.46,382.50 L172.20,382.50 L169.94,382.50 L167.68,382.50 L165.43,382.50 L163.17,382.49 L160.91,382.49 L158.66,382.47 L156.40,382.46 L154.14,382.43 L151.88,382.41 L149.63,382.38 L147.37,382.34 L145.11,382.30 L142.85,382.25 L140.60,382.20 L138.34,382.14 L136.08,382.08 L133.82,382.00 L131.57,381.93 L129.31,381.84 L127.05,381.75 L124.79,381.65 L122.54,381.54 L120.28,381.43 L118.02,381.31 L115.76,381.18 L113.51,381.05 L111.25,380.90 L108.99,380.75 L106.74,380.59 L104.48,380.42 L102.22,380.25 L99.96,380.06 L97.71,379.87 L95.45,379.67 L93.19,379.45 L90.93,379.23 L88.68,379.01 L86.42,378.77 L84.16,378.52 L81.90,378.27 L79.65,378.00Z" fill="url(#g14)"/>
<line x1="169.94" y1="374.17" x2="169.94" y2="381.83" stroke="#ffffff" stroke-opacity="0.55" stroke-width="0.9"/>
<path d="M124.48,423.1 L159.42,416.20 L194.36,423.1 L159.42,430.00Z" fill="#1c3571"/>
<line x1="211.8" y1="276.4" x2="211.8" y2="445.1" stroke="#5a5a5a" stroke-width="0.7" stroke-dasharray="1.3 1.5"/>
<line x1="41.4" y1="276.4" x2="41.4" y2="445.1" stroke="#dadada" stroke-width="1"/>
<line x1="270.9" y1="276.4" x2="270.9" y2="445.1" stroke="#dadada" stroke-width="1"/>
<line x1="40.9" y1="276.4" x2="271.4" y2="276.4" stroke="#a8a8a8" stroke-width="0.9"/>
<line x1="40.9" y1="445.1" x2="271.4" y2="445.1" stroke="#a8a8a8" stroke-width="0.9"/>
<text transform="translate(39.40,312.90) scale(0.9,1)" font-size="6.6" fill="#4d4d4d" stroke="#4d4d4d" stroke-width="0.18" text-anchor="end">PanGenEU</text>
<line x1="40.1" y1="310.4" x2="41.4" y2="310.4" stroke="#555" stroke-width="0.7"/>
<text transform="translate(39.40,335.40) scale(0.9,1)" font-size="6.6" fill="#4d4d4d" stroke="#4d4d4d" stroke-width="0.18" text-anchor="end">TCGA</text>
<line x1="40.1" y1="332.9" x2="41.4" y2="332.9" stroke="#555" stroke-width="0.7"/>
<text transform="translate(39.40,358.00) scale(0.9,1)" font-size="6.6" fill="#4d4d4d" stroke="#4d4d4d" stroke-width="0.18" text-anchor="end">ICGC-CA</text>
<line x1="40.1" y1="355.5" x2="41.4" y2="355.5" stroke="#555" stroke-width="0.7"/>
<text transform="translate(39.40,380.50) scale(0.9,1)" font-size="6.6" fill="#4d4d4d" stroke="#4d4d4d" stroke-width="0.18" text-anchor="end">ICGC-AU</text>
<line x1="40.1" y1="378.0" x2="41.4" y2="378.0" stroke="#555" stroke-width="0.7"/>
<text transform="translate(39.40,425.60) scale(0.9,1)" font-size="6.6" fill="#4d4d4d" stroke="#4d4d4d" stroke-width="0.18" text-anchor="end">Meta-analysis</text>
<line x1="40.1" y1="423.1" x2="41.4" y2="423.1" stroke="#555" stroke-width="0.7"/>
<defs><clipPath id="c15"><rect x="0" y="445.1" width="271.2" height="20"/></clipPath></defs><g clip-path="url(#c15)">
<line x1="46.30" y1="445.1" x2="46.30" y2="446.6" stroke="#333" stroke-width="0.6"/>
<text transform="translate(46.30,452.3) scale(0.95,1)" font-size="6.4" fill="#4d4d4d" stroke="#4d4d4d" stroke-width="0.18" text-anchor="middle">0.368</text>
<line x1="129.05" y1="445.1" x2="129.05" y2="446.6" stroke="#333" stroke-width="0.6"/>
<text transform="translate(129.05,452.3) scale(0.95,1)" font-size="6.4" fill="#4d4d4d" stroke="#4d4d4d" stroke-width="0.18" text-anchor="middle">0.607</text>
<line x1="211.80" y1="445.1" x2="211.80" y2="446.6" stroke="#333" stroke-width="0.6"/>
<text transform="translate(211.80,452.3) scale(0.95,1)" font-size="6.4" fill="#4d4d4d" stroke="#4d4d4d" stroke-width="0.18" text-anchor="middle">1</text>
</g>
<text x="156.15" y="459.1" font-size="7.4" fill="#222" text-anchor="middle">HR</text>
<text x="280.1" y="290.86" font-size="7.6" fill="#111" stroke="#111" stroke-width="0.18">HR [95% CI]</text>
<line x1="280.1" y1="299.4" x2="336.5" y2="299.4" stroke="#333" stroke-width="0.8"/>
<text transform="translate(280.1,313.40) scale(0.95,1)" font-size="7.9" fill="#111" stroke="#111" stroke-width="0.18">0.75 [0.52, 1.09]</text>
<text transform="translate(280.1,335.90) scale(0.95,1)" font-size="7.9" fill="#111" stroke="#111" stroke-width="0.18">0.60 [0.38, 0.95]</text>
<text transform="translate(280.1,358.50) scale(0.95,1)" font-size="7.9" fill="#111" stroke="#111" stroke-width="0.18">0.78 [0.54, 1.12]</text>
<text transform="translate(280.1,381.00) scale(0.95,1)" font-size="7.9" fill="#111" stroke="#111" stroke-width="0.18">0.77 [0.45, 1.34]</text>
<text transform="translate(280.1,426.10) scale(0.95,1)" font-size="7.9" fill="#111" stroke="#111" stroke-width="0.18">0.73 [0.59, 0.90]</text>
<text x="361.50" y="254.5" font-size="16.8" font-weight="bold" fill="#000">D. <tspan font-style="italic">F2RL2</tspan></text>
<text x="500.0" y="253.8" font-size="13.0" fill="#111">Adj. <tspan font-style="italic">P</tspan> value=2.05x10<tspan font-size="9.2" dy="-4.5">-2</tspan></text>
<rect x="387.7" y="276.9" width="229.00000000000006" height="168.0" fill="#fff"/>
<line x1="414.10" y1="276.9" x2="414.10" y2="444.9" stroke="#ebebeb" stroke-width="0.9"/>
<line x1="460.30" y1="276.9" x2="460.30" y2="444.9" stroke="#ebebeb" stroke-width="0.9"/>
<line x1="506.50" y1="276.9" x2="506.50" y2="444.9" stroke="#ebebeb" stroke-width="0.9"/>
<line x1="552.70" y1="276.9" x2="552.70" y2="444.9" stroke="#ebebeb" stroke-width="0.9"/>
<line x1="598.90" y1="276.9" x2="598.90" y2="444.9" stroke="#ebebeb" stroke-width="0.9"/>
<line x1="391.00" y1="276.9" x2="391.00" y2="444.9" stroke="#e3e3e3" stroke-width="0.9"/>
<line x1="437.20" y1="276.9" x2="437.20" y2="444.9" stroke="#e3e3e3" stroke-width="0.9"/>
<line x1="483.40" y1="276.9" x2="483.40" y2="444.9" stroke="#e3e3e3" stroke-width="0.9"/>
<line x1="529.60" y1="276.9" x2="529.60" y2="444.9" stroke="#e3e3e3" stroke-width="0.9"/>
<line x1="575.80" y1="276.9" x2="575.80" y2="444.9" stroke="#e3e3e3" stroke-width="0.9"/>
<defs><linearGradient id="g16" gradientUnits="userSpaceOnUse" x1="436.27" y1="0" x2="575.80" y2="0"><stop offset="0.0000" stop-color="#c0cde8"/><stop offset="0.0250" stop-color="#b1bfdd"/><stop offset="0.0500" stop-color="#a3b2d3"/><stop offset="0.0750" stop-color="#96a6c9"/><stop offset="0.1000" stop-color="#899ac0"/><stop offset="0.1250" stop-color="#7e8fb8"/><stop offset="0.1500" stop-color="#7385b0"/><stop offset="0.1750" stop-color="#697ca9"/><stop offset="0.2000" stop-color="#6074a2"/><stop offset="0.2250" stop-color="#576c9c"/><stop offset="0.2500" stop-color="#506597"/><stop offset="0.2750" stop-color="#495f92"/><stop offset="0.3000" stop-color="#43598e"/><stop offset="0.3250" stop-color="#3e558a"/><stop offset="0.3500" stop-color="#3a5187"/><stop offset="0.3750" stop-color="#364d84"/><stop offset="0.4000" stop-color="#334b82"/><stop offset="0.4250" stop-color="#314980"/><stop offset="0.4500" stop-color="#30477f"/><stop offset="0.4750" stop-color="#2f477f"/><stop offset="0.5000" stop-color="#2f467f"/><stop offset="0.5250" stop-color="#2f477f"/><stop offset="0.5500" stop-color="#30477f"/><stop offset="0.5750" stop-color="#314980"/><stop offset="0.6000" stop-color="#334b82"/><stop offset="0.6250" stop-color="#364d84"/><stop offset="0.6500" stop-color="#3a5187"/><stop offset="0.6750" stop-color="#3e558a"/><stop offset="0.7000" stop-color="#43598e"/><stop offset="0.7250" stop-color="#495f92"/><stop offset="0.7500" stop-color="#506597"/><stop offset="0.7750" stop-color="#576c9c"/><stop offset="0.8000" stop-color="#6074a2"/><stop offset="0.8250" stop-color="#697ca9"/><stop offset="0.8500" stop-color="#7385b0"/><stop offset="0.8750" stop-color="#7e8fb8"/><stop offset="0.9000" stop-color="#899ac0"/><stop offset="0.9250" stop-color="#96a6c9"/><stop offset="0.9500" stop-color="#a3b2d3"/><stop offset="0.9750" stop-color="#b1bfdd"/><stop offset="1.0000" stop-color="#c0cde8"/></linearGradient></defs>
<path d="M436.27,309.90 L438.02,309.37 L439.76,308.86 L441.50,308.37 L443.25,307.90 L444.99,307.45 L446.74,307.01 L448.48,306.59 L450.22,306.19 L451.97,305.81 L453.71,305.44 L455.46,305.09 L457.20,304.76 L458.95,304.44 L460.69,304.14 L462.43,303.85 L464.18,303.58 L465.92,303.33 L467.67,303.09 L469.41,302.86 L471.15,302.65 L472.90,302.46 L474.64,302.28 L476.39,302.11 L478.13,301.95 L479.87,301.81 L481.62,301.68 L483.36,301.56 L485.11,301.46 L486.85,301.36 L488.59,301.28 L490.34,301.21 L492.08,301.15 L493.83,301.10 L495.57,301.05 L497.32,301.02 L499.06,301.00 L500.80,300.98 L502.55,300.97 L504.29,300.96 L506.04,300.96 L507.78,300.96 L509.52,300.97 L511.27,300.98 L513.01,301.00 L514.76,301.02 L516.50,301.05 L518.24,301.10 L519.99,301.15 L521.73,301.21 L523.48,301.28 L525.22,301.36 L526.97,301.46 L528.71,301.56 L530.45,301.68 L532.20,301.81 L533.94,301.95 L535.69,302.11 L537.43,302.28 L539.17,302.46 L540.92,302.65 L542.66,302.86 L544.41,303.09 L546.15,303.33 L547.89,303.58 L549.64,303.85 L551.38,304.14 L553.13,304.44 L554.87,304.76 L556.61,305.09 L558.36,305.44 L560.10,305.81 L561.85,306.19 L563.59,306.59 L565.34,307.01 L567.08,307.45 L568.82,307.90 L570.57,308.37 L572.31,308.86 L574.06,309.37 L575.80,309.90 L575.80,309.90 L574.06,310.43 L572.31,310.94 L570.57,311.43 L568.82,311.90 L567.08,312.35 L565.34,312.79 L563.59,313.21 L561.85,313.61 L560.10,313.99 L558.36,314.36 L556.61,314.71 L554.87,315.04 L553.13,315.36 L551.38,315.66 L549.64,315.95 L547.89,316.22 L546.15,316.47 L544.41,316.71 L542.66,316.94 L540.92,317.15 L539.17,317.34 L537.43,317.52 L535.69,317.69 L533.94,317.85 L532.20,317.99 L530.45,318.12 L528.71,318.24 L526.97,318.34 L525.22,318.44 L523.48,318.52 L521.73,318.59 L519.99,318.65 L518.24,318.70 L516.50,318.75 L514.76,318.78 L513.01,318.80 L511.27,318.82 L509.52,318.83 L507.78,318.84 L506.04,318.84 L504.29,318.84 L502.55,318.83 L500.80,318.82 L499.06,318.80 L497.32,318.78 L495.57,318.75 L493.83,318.70 L492.08,318.65 L490.34,318.59 L488.59,318.52 L486.85,318.44 L485.11,318.34 L483.36,318.24 L481.62,318.12 L479.87,317.99 L478.13,317.85 L476.39,317.69 L474.64,317.52 L472.90,317.34 L471.15,317.15 L469.41,316.94 L467.67,316.71 L465.92,316.47 L464.18,316.22 L462.43,315.95 L460.69,315.66 L458.95,315.36 L457.20,315.04 L455.46,314.71 L453.71,314.36 L451.97,313.99 L450.22,313.61 L448.48,313.21 L446.74,312.79 L444.99,312.35 L443.25,311.90 L441.50,311.43 L439.76,310.94 L438.02,310.43 L436.27,309.90Z" fill="url(#g16)"/>
<line x1="506.04" y1="306.06" x2="506.04" y2="313.74" stroke="#ffffff" stroke-opacity="0.55" stroke-width="0.9"/>
<defs><linearGradient id="g17" gradientUnits="userSpaceOnUse" x1="436.27" y1="0" x2="604.81" y2="0"><stop offset="0.0000" stop-color="#c0cde8"/><stop offset="0.0250" stop-color="#b6c3e1"/><stop offset="0.0500" stop-color="#acbad9"/><stop offset="0.0750" stop-color="#a3b2d3"/><stop offset="0.1000" stop-color="#9aaacd"/><stop offset="0.1250" stop-color="#92a3c7"/><stop offset="0.1500" stop-color="#8b9cc2"/><stop offset="0.1750" stop-color="#8496bd"/><stop offset="0.2000" stop-color="#7e90b8"/><stop offset="0.2250" stop-color="#788bb4"/><stop offset="0.2500" stop-color="#7386b0"/><stop offset="0.2750" stop-color="#6f82ad"/><stop offset="0.3000" stop-color="#6b7eaa"/><stop offset="0.3250" stop-color="#677ba7"/><stop offset="0.3500" stop-color="#6478a5"/><stop offset="0.3750" stop-color="#6275a3"/><stop offset="0.4000" stop-color="#6074a2"/><stop offset="0.4250" stop-color="#5e72a1"/><stop offset="0.4500" stop-color="#5d71a0"/><stop offset="0.4750" stop-color="#5d71a0"/><stop offset="0.5000" stop-color="#5d71a0"/><stop offset="0.5250" stop-color="#5d71a0"/><stop offset="0.5500" stop-color="#5d71a0"/><stop offset="0.5750" stop-color="#5e72a1"/><stop offset="0.6000" stop-color="#6074a2"/><stop offset="0.6250" stop-color="#6275a3"/><stop offset="0.6500" stop-color="#6478a5"/><stop offset="0.6750" stop-color="#677ba7"/><stop offset="0.7000" stop-color="#6b7eaa"/><stop offset="0.7250" stop-color="#6f82ad"/><stop offset="0.7500" stop-color="#7386b0"/><stop offset="0.7750" stop-color="#788bb4"/><stop offset="0.8000" stop-color="#7e90b8"/><stop offset="0.8250" stop-color="#8496bd"/><stop offset="0.8500" stop-color="#8b9cc2"/><stop offset="0.8750" stop-color="#92a3c7"/><stop offset="0.9000" stop-color="#9aaacd"/><stop offset="0.9250" stop-color="#a3b2d3"/><stop offset="0.9500" stop-color="#acbad9"/><stop offset="0.9750" stop-color="#b6c3e1"/><stop offset="1.0000" stop-color="#c0cde8"/></linearGradient></defs>
<path d="M436.27,332.90 L438.38,332.54 L440.49,332.19 L442.59,331.85 L444.70,331.53 L446.81,331.22 L448.91,330.92 L451.02,330.63 L453.13,330.36 L455.23,330.10 L457.34,329.85 L459.45,329.61 L461.55,329.38 L463.66,329.16 L465.77,328.95 L467.87,328.76 L469.98,328.57 L472.09,328.40 L474.19,328.23 L476.30,328.08 L478.41,327.93 L480.51,327.80 L482.62,327.67 L484.73,327.56 L486.83,327.45 L488.94,327.36 L491.05,327.27 L493.15,327.19 L495.26,327.11 L497.37,327.05 L499.48,326.99 L501.58,326.94 L503.69,326.90 L505.80,326.87 L507.90,326.84 L510.01,326.82 L512.12,326.80 L514.22,326.79 L516.33,326.78 L518.44,326.77 L520.54,326.77 L522.65,326.77 L524.76,326.78 L526.86,326.79 L528.97,326.80 L531.08,326.82 L533.18,326.84 L535.29,326.87 L537.40,326.90 L539.50,326.94 L541.61,326.99 L543.72,327.05 L545.82,327.11 L547.93,327.19 L550.04,327.27 L552.14,327.36 L554.25,327.45 L556.36,327.56 L558.47,327.67 L560.57,327.80 L562.68,327.93 L564.79,328.08 L566.89,328.23 L569.00,328.40 L571.11,328.57 L573.21,328.76 L575.32,328.95 L577.43,329.16 L579.53,329.38 L581.64,329.61 L583.75,329.85 L585.85,330.10 L587.96,330.36 L590.07,330.63 L592.17,330.92 L594.28,331.22 L596.39,331.53 L598.49,331.85 L600.60,332.19 L602.71,332.54 L604.81,332.90 L604.81,332.90 L602.71,333.26 L600.60,333.61 L598.49,333.95 L596.39,334.27 L594.28,334.58 L592.17,334.88 L590.07,335.17 L587.96,335.44 L585.85,335.70 L583.75,335.95 L581.64,336.19 L579.53,336.42 L577.43,336.64 L575.32,336.85 L573.21,337.04 L571.11,337.23 L569.00,337.40 L566.89,337.57 L564.79,337.72 L562.68,337.87 L560.57,338.00 L558.47,338.13 L556.36,338.24 L554.25,338.35 L552.14,338.44 L550.04,338.53 L547.93,338.61 L545.82,338.69 L543.72,338.75 L541.61,338.81 L539.50,338.86 L537.40,338.90 L535.29,338.93 L533.18,338.96 L531.08,338.98 L528.97,339.00 L526.86,339.01 L524.76,339.02 L522.65,339.03 L520.54,339.03 L518.44,339.03 L516.33,339.02 L514.22,339.01 L512.12,339.00 L510.01,338.98 L507.90,338.96 L505.80,338.93 L503.69,338.90 L501.58,338.86 L499.48,338.81 L497.37,338.75 L495.26,338.69 L493.15,338.61 L491.05,338.53 L488.94,338.44 L486.83,338.35 L484.73,338.24 L482.62,338.13 L480.51,338.00 L478.41,337.87 L476.30,337.72 L474.19,337.57 L472.09,337.40 L469.98,337.23 L467.87,337.04 L465.77,336.85 L463.66,336.64 L461.55,336.42 L459.45,336.19 L457.34,335.95 L455.23,335.70 L453.13,335.44 L451.02,335.17 L448.91,334.88 L446.81,334.58 L444.70,334.27 L442.59,333.95 L440.49,333.61 L438.38,333.26 L436.27,332.90Z" fill="url(#g17)"/>
<line x1="520.54" y1="329.06" x2="520.54" y2="336.74" stroke="#ffffff" stroke-opacity="0.55" stroke-width="0.9"/>
<defs><linearGradient id="g18" gradientUnits="userSpaceOnUse" x1="475.13" y1="0" x2="606.39" y2="0"><stop offset="0.0000" stop-color="#c0cde8"/><stop offset="0.0250" stop-color="#afbddc"/><stop offset="0.0500" stop-color="#9faed0"/><stop offset="0.0750" stop-color="#90a1c5"/><stop offset="0.1000" stop-color="#8294bb"/><stop offset="0.1250" stop-color="#7587b2"/><stop offset="0.1500" stop-color="#697ca9"/><stop offset="0.1750" stop-color="#5e72a1"/><stop offset="0.2000" stop-color="#536899"/><stop offset="0.2250" stop-color="#4a6092"/><stop offset="0.2500" stop-color="#41588c"/><stop offset="0.2750" stop-color="#3a5187"/><stop offset="0.3000" stop-color="#334a82"/><stop offset="0.3250" stop-color="#2d457e"/><stop offset="0.3500" stop-color="#28407a"/><stop offset="0.3750" stop-color="#243d77"/><stop offset="0.4000" stop-color="#213a75"/><stop offset="0.4250" stop-color="#1f3773"/><stop offset="0.4500" stop-color="#1d3672"/><stop offset="0.4750" stop-color="#1c3571"/><stop offset="0.5000" stop-color="#1c3571"/><stop offset="0.5250" stop-color="#1c3571"/><stop offset="0.5500" stop-color="#1d3672"/><stop offset="0.5750" stop-color="#1f3773"/><stop offset="0.6000" stop-color="#213a75"/><stop offset="0.6250" stop-color="#243d77"/><stop offset="0.6500" stop-color="#28407a"/><stop offset="0.6750" stop-color="#2d457e"/><stop offset="0.7000" stop-color="#334a82"/><stop offset="0.7250" stop-color="#3a5187"/><stop offset="0.7500" stop-color="#41588c"/><stop offset="0.7750" stop-color="#4a6092"/><stop offset="0.8000" stop-color="#536899"/><stop offset="0.8250" stop-color="#5e72a1"/><stop offset="0.8500" stop-color="#697ca9"/><stop offset="0.8750" stop-color="#7587b2"/><stop offset="0.9000" stop-color="#8294bb"/><stop offset="0.9250" stop-color="#90a1c5"/><stop offset="0.9500" stop-color="#9faed0"/><stop offset="0.9750" stop-color="#afbddc"/><stop offset="1.0000" stop-color="#c0cde8"/></linearGradient></defs>
<path d="M475.13,355.50 L476.78,354.90 L478.42,354.33 L480.06,353.78 L481.70,353.24 L483.34,352.73 L484.98,352.24 L486.62,351.76 L488.26,351.31 L489.90,350.88 L491.54,350.46 L493.18,350.07 L494.82,349.69 L496.46,349.33 L498.10,348.99 L499.74,348.67 L501.38,348.36 L503.03,348.07 L504.67,347.80 L506.31,347.55 L507.95,347.31 L509.59,347.09 L511.23,346.88 L512.87,346.69 L514.51,346.52 L516.15,346.36 L517.79,346.21 L519.43,346.08 L521.07,345.96 L522.71,345.85 L524.35,345.76 L525.99,345.68 L527.64,345.61 L529.28,345.55 L530.92,345.50 L532.56,345.47 L534.20,345.44 L535.84,345.42 L537.48,345.41 L539.12,345.40 L540.76,345.40 L542.40,345.40 L544.04,345.41 L545.68,345.42 L547.32,345.44 L548.96,345.47 L550.60,345.50 L552.25,345.55 L553.89,345.61 L555.53,345.68 L557.17,345.76 L558.81,345.85 L560.45,345.96 L562.09,346.08 L563.73,346.21 L565.37,346.36 L567.01,346.52 L568.65,346.69 L570.29,346.88 L571.93,347.09 L573.57,347.31 L575.21,347.55 L576.86,347.80 L578.50,348.07 L580.14,348.36 L581.78,348.67 L583.42,348.99 L585.06,349.33 L586.70,349.69 L588.34,350.07 L589.98,350.46 L591.62,350.88 L593.26,351.31 L594.90,351.76 L596.54,352.24 L598.18,352.73 L599.82,353.24 L601.47,353.78 L603.11,354.33 L604.75,354.90 L606.39,355.50 L606.39,355.50 L604.75,356.10 L603.11,356.67 L601.47,357.22 L599.82,357.76 L598.18,358.27 L596.54,358.76 L594.90,359.24 L593.26,359.69 L591.62,360.12 L589.98,360.54 L588.34,360.93 L586.70,361.31 L585.06,361.67 L583.42,362.01 L581.78,362.33 L580.14,362.64 L578.50,362.93 L576.86,363.20 L575.21,363.45 L573.57,363.69 L571.93,363.91 L570.29,364.12 L568.65,364.31 L567.01,364.48 L565.37,364.64 L563.73,364.79 L562.09,364.92 L560.45,365.04 L558.81,365.15 L557.17,365.24 L555.53,365.32 L553.89,365.39 L552.25,365.45 L550.60,365.50 L548.96,365.53 L547.32,365.56 L545.68,365.58 L544.04,365.59 L542.40,365.60 L540.76,365.60 L539.12,365.60 L537.48,365.59 L535.84,365.58 L534.20,365.56 L532.56,365.53 L530.92,365.50 L529.28,365.45 L527.64,365.39 L525.99,365.32 L524.35,365.24 L522.71,365.15 L521.07,365.04 L519.43,364.92 L517.79,364.79 L516.15,364.64 L514.51,364.48 L512.87,364.31 L511.23,364.12 L509.59,363.91 L507.95,363.69 L506.31,363.45 L504.67,363.20 L503.03,362.93 L501.38,362.64 L499.74,362.33 L498.10,362.01 L496.46,361.67 L494.82,361.31 L493.18,360.93 L491.54,360.54 L489.90,360.12 L488.26,359.69 L486.62,359.24 L484.98,358.76 L483.34,358.27 L481.70,357.76 L480.06,357.22 L478.42,356.67 L476.78,356.10 L475.13,355.50Z" fill="url(#g18)"/>
<line x1="540.76" y1="351.66" x2="540.76" y2="359.34" stroke="#ffffff" stroke-opacity="0.55" stroke-width="0.9"/>
<defs><linearGradient id="g19" gradientUnits="userSpaceOnUse" x1="396.99" y1="0" x2="598.39" y2="0"><stop offset="0.0000" stop-color="#c0cde8"/><stop offset="0.0250" stop-color="#b9c6e3"/><stop offset="0.0500" stop-color="#b2c0de"/><stop offset="0.0750" stop-color="#acbad9"/><stop offset="0.1000" stop-color="#a6b5d5"/><stop offset="0.1250" stop-color="#a0afd1"/><stop offset="0.1500" stop-color="#9babcd"/><stop offset="0.1750" stop-color="#96a6ca"/><stop offset="0.2000" stop-color="#92a2c6"/><stop offset="0.2250" stop-color="#8e9fc4"/><stop offset="0.2500" stop-color="#8a9bc1"/><stop offset="0.2750" stop-color="#8798bf"/><stop offset="0.3000" stop-color="#8496bd"/><stop offset="0.3250" stop-color="#8293bb"/><stop offset="0.3500" stop-color="#8091b9"/><stop offset="0.3750" stop-color="#7e90b8"/><stop offset="0.4000" stop-color="#7c8eb7"/><stop offset="0.4250" stop-color="#7b8db6"/><stop offset="0.4500" stop-color="#7b8db6"/><stop offset="0.4750" stop-color="#7a8db6"/><stop offset="0.5000" stop-color="#7a8cb5"/><stop offset="0.5250" stop-color="#7a8db6"/><stop offset="0.5500" stop-color="#7b8db6"/><stop offset="0.5750" stop-color="#7b8db6"/><stop offset="0.6000" stop-color="#7c8eb7"/><stop offset="0.6250" stop-color="#7e90b8"/><stop offset="0.6500" stop-color="#8091b9"/><stop offset="0.6750" stop-color="#8293bb"/><stop offset="0.7000" stop-color="#8496bd"/><stop offset="0.7250" stop-color="#8798bf"/><stop offset="0.7500" stop-color="#8a9bc1"/><stop offset="0.7750" stop-color="#8e9fc4"/><stop offset="0.8000" stop-color="#92a2c6"/><stop offset="0.8250" stop-color="#96a6ca"/><stop offset="0.8500" stop-color="#9babcd"/><stop offset="0.8750" stop-color="#a0afd1"/><stop offset="0.9000" stop-color="#a6b5d5"/><stop offset="0.9250" stop-color="#acbad9"/><stop offset="0.9500" stop-color="#b2c0de"/><stop offset="0.9750" stop-color="#b9c6e3"/><stop offset="1.0000" stop-color="#c0cde8"/></linearGradient></defs>
<path d="M396.99,378.00 L399.51,377.75 L402.03,377.50 L404.54,377.27 L407.06,377.04 L409.58,376.82 L412.10,376.61 L414.61,376.41 L417.13,376.22 L419.65,376.04 L422.16,375.86 L424.68,375.69 L427.20,375.53 L429.72,375.38 L432.23,375.24 L434.75,375.10 L437.27,374.97 L439.79,374.85 L442.30,374.73 L444.82,374.62 L447.34,374.52 L449.86,374.43 L452.37,374.34 L454.89,374.26 L457.41,374.19 L459.93,374.12 L462.44,374.05 L464.96,374.00 L467.48,373.95 L470.00,373.90 L472.51,373.86 L475.03,373.83 L477.55,373.80 L480.07,373.77 L482.58,373.75 L485.10,373.74 L487.62,373.73 L490.14,373.72 L492.65,373.71 L495.17,373.71 L497.69,373.71 L500.21,373.71 L502.72,373.71 L505.24,373.72 L507.76,373.73 L510.28,373.74 L512.79,373.75 L515.31,373.77 L517.83,373.80 L520.35,373.83 L522.86,373.86 L525.38,373.90 L527.90,373.95 L530.41,374.00 L532.93,374.05 L535.45,374.12 L537.97,374.19 L540.48,374.26 L543.00,374.34 L545.52,374.43 L548.04,374.52 L550.55,374.62 L553.07,374.73 L555.59,374.85 L558.11,374.97 L560.62,375.10 L563.14,375.24 L565.66,375.38 L568.18,375.53 L570.69,375.69 L573.21,375.86 L575.73,376.04 L578.25,376.22 L580.76,376.41 L583.28,376.61 L585.80,376.82 L588.32,377.04 L590.83,377.27 L593.35,377.50 L595.87,377.75 L598.39,378.00 L598.39,378.00 L595.87,378.25 L593.35,378.50 L590.83,378.73 L588.32,378.96 L585.80,379.18 L583.28,379.39 L580.76,379.59 L578.25,379.78 L575.73,379.96 L573.21,380.14 L570.69,380.31 L568.18,380.47 L565.66,380.62 L563.14,380.76 L560.62,380.90 L558.11,381.03 L555.59,381.15 L553.07,381.27 L550.55,381.38 L548.04,381.48 L545.52,381.57 L543.00,381.66 L540.48,381.74 L537.97,381.81 L535.45,381.88 L532.93,381.95 L530.41,382.00 L527.90,382.05 L525.38,382.10 L522.86,382.14 L520.35,382.17 L517.83,382.20 L515.31,382.23 L512.79,382.25 L510.28,382.26 L507.76,382.27 L505.24,382.28 L502.72,382.29 L500.21,382.29 L497.69,382.29 L495.17,382.29 L492.65,382.29 L490.14,382.28 L487.62,382.27 L485.10,382.26 L482.58,382.25 L480.07,382.23 L477.55,382.20 L475.03,382.17 L472.51,382.14 L470.00,382.10 L467.48,382.05 L464.96,382.00 L462.44,381.95 L459.93,381.88 L457.41,381.81 L454.89,381.74 L452.37,381.66 L449.86,381.57 L447.34,381.48 L444.82,381.38 L442.30,381.27 L439.79,381.15 L437.27,381.03 L434.75,380.90 L432.23,380.76 L429.72,380.62 L427.20,380.47 L424.68,380.31 L422.16,380.14 L419.65,379.96 L417.13,379.78 L414.61,379.59 L412.10,379.39 L409.58,379.18 L407.06,378.96 L404.54,378.73 L402.03,378.50 L399.51,378.25 L396.99,378.00Z" fill="url(#g19)"/>
<line x1="497.69" y1="374.16" x2="497.69" y2="381.84" stroke="#ffffff" stroke-opacity="0.55" stroke-width="0.9"/>
<path d="M481.40,422.9 L519.89,415.98 L558.37,422.9 L519.89,429.82Z" fill="#1c3571"/>
<line x1="575.8" y1="276.9" x2="575.8" y2="444.9" stroke="#5a5a5a" stroke-width="0.7" stroke-dasharray="1.3 1.5"/>
<line x1="387.7" y1="276.9" x2="387.7" y2="444.9" stroke="#dadada" stroke-width="1"/>
<line x1="616.7" y1="276.9" x2="616.7" y2="444.9" stroke="#dadada" stroke-width="1"/>
<line x1="387.2" y1="276.9" x2="617.2" y2="276.9" stroke="#a8a8a8" stroke-width="0.9"/>
<line x1="387.2" y1="444.9" x2="617.2" y2="444.9" stroke="#a8a8a8" stroke-width="0.9"/>
<text transform="translate(385.70,312.40) scale(0.9,1)" font-size="6.6" fill="#4d4d4d" stroke="#4d4d4d" stroke-width="0.18" text-anchor="end">PanGenEU</text>
<line x1="386.4" y1="309.9" x2="387.7" y2="309.9" stroke="#555" stroke-width="0.7"/>
<text transform="translate(385.70,335.40) scale(0.9,1)" font-size="6.6" fill="#4d4d4d" stroke="#4d4d4d" stroke-width="0.18" text-anchor="end">TCGA</text>
<line x1="386.4" y1="332.9" x2="387.7" y2="332.9" stroke="#555" stroke-width="0.7"/>
<text transform="translate(385.70,358.00) scale(0.9,1)" font-size="6.6" fill="#4d4d4d" stroke="#4d4d4d" stroke-width="0.18" text-anchor="end">ICGC-CA</text>
<line x1="386.4" y1="355.5" x2="387.7" y2="355.5" stroke="#555" stroke-width="0.7"/>
<text transform="translate(385.70,380.50) scale(0.9,1)" font-size="6.6" fill="#4d4d4d" stroke="#4d4d4d" stroke-width="0.18" text-anchor="end">ICGC-AU</text>
<line x1="386.4" y1="378.0" x2="387.7" y2="378.0" stroke="#555" stroke-width="0.7"/>
<text transform="translate(385.70,425.40) scale(0.9,1)" font-size="6.6" fill="#4d4d4d" stroke="#4d4d4d" stroke-width="0.18" text-anchor="end">Meta-analysis</text>
<line x1="386.4" y1="422.9" x2="387.7" y2="422.9" stroke="#555" stroke-width="0.7"/>
<defs><clipPath id="c20"><rect x="0" y="444.9" width="617.0" height="20"/></clipPath></defs><g clip-path="url(#c20)">
<line x1="391.00" y1="444.9" x2="391.00" y2="446.4" stroke="#333" stroke-width="0.6"/>
<text transform="translate(391.00,451.6) scale(0.95,1)" font-size="6.4" fill="#4d4d4d" stroke="#4d4d4d" stroke-width="0.18" text-anchor="middle">0.368</text>
<line x1="437.20" y1="444.9" x2="437.20" y2="446.4" stroke="#333" stroke-width="0.6"/>
<text transform="translate(437.20,451.6) scale(0.95,1)" font-size="6.4" fill="#4d4d4d" stroke="#4d4d4d" stroke-width="0.18" text-anchor="middle">0.472</text>
<line x1="483.40" y1="444.9" x2="483.40" y2="446.4" stroke="#333" stroke-width="0.6"/>
<text transform="translate(483.40,451.6) scale(0.95,1)" font-size="6.4" fill="#4d4d4d" stroke="#4d4d4d" stroke-width="0.18" text-anchor="middle">0.607</text>
<line x1="529.60" y1="444.9" x2="529.60" y2="446.4" stroke="#333" stroke-width="0.6"/>
<text transform="translate(529.60,451.6) scale(0.95,1)" font-size="6.4" fill="#4d4d4d" stroke="#4d4d4d" stroke-width="0.18" text-anchor="middle">0.779</text>
<line x1="575.80" y1="444.9" x2="575.80" y2="446.4" stroke="#333" stroke-width="0.6"/>
<text transform="translate(575.80,451.6) scale(0.95,1)" font-size="6.4" fill="#4d4d4d" stroke="#4d4d4d" stroke-width="0.18" text-anchor="middle">1</text>
</g>
<text x="502.20" y="459.1" font-size="7.4" fill="#222" text-anchor="middle">HR</text>
<text x="626.5" y="290.30" font-size="7.6" fill="#111" stroke="#111" stroke-width="0.18">HR [95% CI]</text>
<line x1="626.5" y1="299.3" x2="683.2" y2="299.3" stroke="#333" stroke-width="0.8"/>
<text transform="translate(626.5,312.90) scale(0.95,1)" font-size="7.9" fill="#111" stroke="#111" stroke-width="0.18">0.69 [0.47, 1.00]</text>
<text transform="translate(626.5,335.90) scale(0.95,1)" font-size="7.9" fill="#111" stroke="#111" stroke-width="0.18">0.74 [0.47, 1.17]</text>
<text transform="translate(626.5,358.50) scale(0.95,1)" font-size="7.9" fill="#111" stroke="#111" stroke-width="0.18">0.83 [0.58, 1.18]</text>
<text transform="translate(626.5,381.00) scale(0.95,1)" font-size="7.9" fill="#111" stroke="#111" stroke-width="0.18">0.66 [0.38, 1.13]</text>
<text transform="translate(626.5,425.90) scale(0.95,1)" font-size="7.9" fill="#111" stroke="#111" stroke-width="0.18">0.74 [0.60, 0.91]</text>
<text x="41.40" y="502.5" font-size="16.8" font-weight="bold" fill="#000">E. <tspan font-style="italic">IGHM</tspan></text>
<text x="180.5" y="506.2" font-size="13.0" fill="#111">Adj. <tspan font-style="italic">P</tspan> value=3.14x10<tspan font-size="9.2" dy="-4.5">-2</tspan></text>
<rect x="41.4" y="515.7" width="229.49999999999997" height="168.39999999999998" fill="#fff"/>
<line x1="76.55" y1="515.7" x2="76.55" y2="684.1" stroke="#ebebeb" stroke-width="0.9"/>
<line x1="160.65" y1="515.7" x2="160.65" y2="684.1" stroke="#ebebeb" stroke-width="0.9"/>
<line x1="244.75" y1="515.7" x2="244.75" y2="684.1" stroke="#ebebeb" stroke-width="0.9"/>
<line x1="118.60" y1="515.7" x2="118.60" y2="684.1" stroke="#e3e3e3" stroke-width="0.9"/>
<line x1="202.70" y1="515.7" x2="202.70" y2="684.1" stroke="#e3e3e3" stroke-width="0.9"/>
<defs><linearGradient id="g21" gradientUnits="userSpaceOnUse" x1="111.08" y1="0" x2="237.52" y2="0"><stop offset="0.0000" stop-color="#c0cde8"/><stop offset="0.0250" stop-color="#b0bedc"/><stop offset="0.0500" stop-color="#a1b0d2"/><stop offset="0.0750" stop-color="#93a3c7"/><stop offset="0.1000" stop-color="#8697be"/><stop offset="0.1250" stop-color="#7a8cb5"/><stop offset="0.1500" stop-color="#6f81ad"/><stop offset="0.1750" stop-color="#6478a5"/><stop offset="0.2000" stop-color="#5a6f9e"/><stop offset="0.2250" stop-color="#526798"/><stop offset="0.2500" stop-color="#4a5f92"/><stop offset="0.2750" stop-color="#43598d"/><stop offset="0.3000" stop-color="#3c5388"/><stop offset="0.3250" stop-color="#374e85"/><stop offset="0.3500" stop-color="#324a81"/><stop offset="0.3750" stop-color="#2e467e"/><stop offset="0.4000" stop-color="#2b437c"/><stop offset="0.4250" stop-color="#29417b"/><stop offset="0.4500" stop-color="#28407a"/><stop offset="0.4750" stop-color="#273f79"/><stop offset="0.5000" stop-color="#273f79"/><stop offset="0.5250" stop-color="#273f79"/><stop offset="0.5500" stop-color="#28407a"/><stop offset="0.5750" stop-color="#29417b"/><stop offset="0.6000" stop-color="#2b437c"/><stop offset="0.6250" stop-color="#2e467e"/><stop offset="0.6500" stop-color="#324a81"/><stop offset="0.6750" stop-color="#374e85"/><stop offset="0.7000" stop-color="#3c5388"/><stop offset="0.7250" stop-color="#43598d"/><stop offset="0.7500" stop-color="#4a5f92"/><stop offset="0.7750" stop-color="#526798"/><stop offset="0.8000" stop-color="#5a6f9e"/><stop offset="0.8250" stop-color="#6478a5"/><stop offset="0.8500" stop-color="#6f81ad"/><stop offset="0.8750" stop-color="#7a8cb5"/><stop offset="0.9000" stop-color="#8697be"/><stop offset="0.9250" stop-color="#93a3c7"/><stop offset="0.9500" stop-color="#a1b0d2"/><stop offset="0.9750" stop-color="#b0bedc"/><stop offset="1.0000" stop-color="#c0cde8"/></linearGradient></defs>
<path d="M111.08,549.90 L112.66,549.35 L114.24,548.82 L115.82,548.30 L117.40,547.81 L118.98,547.33 L120.56,546.88 L122.14,546.44 L123.72,546.02 L125.30,545.62 L126.88,545.23 L128.46,544.87 L130.04,544.52 L131.62,544.19 L133.20,543.87 L134.78,543.57 L136.37,543.29 L137.95,543.02 L139.53,542.77 L141.11,542.54 L142.69,542.32 L144.27,542.11 L145.85,541.92 L147.43,541.74 L149.01,541.58 L150.59,541.43 L152.17,541.30 L153.75,541.17 L155.33,541.06 L156.91,540.97 L158.49,540.88 L160.07,540.80 L161.65,540.74 L163.23,540.69 L164.82,540.64 L166.40,540.61 L167.98,540.58 L169.56,540.56 L171.14,540.55 L172.72,540.55 L174.30,540.54 L175.88,540.55 L177.46,540.55 L179.04,540.56 L180.62,540.58 L182.20,540.61 L183.78,540.64 L185.36,540.69 L186.94,540.74 L188.52,540.80 L190.10,540.88 L191.68,540.97 L193.26,541.06 L194.85,541.17 L196.43,541.30 L198.01,541.43 L199.59,541.58 L201.17,541.74 L202.75,541.92 L204.33,542.11 L205.91,542.32 L207.49,542.54 L209.07,542.77 L210.65,543.02 L212.23,543.29 L213.81,543.57 L215.39,543.87 L216.97,544.19 L218.55,544.52 L220.13,544.87 L221.71,545.23 L223.29,545.62 L224.88,546.02 L226.46,546.44 L228.04,546.88 L229.62,547.33 L231.20,547.81 L232.78,548.30 L234.36,548.82 L235.94,549.35 L237.52,549.90 L237.52,549.90 L235.94,550.45 L234.36,550.98 L232.78,551.50 L231.20,551.99 L229.62,552.47 L228.04,552.92 L226.46,553.36 L224.88,553.78 L223.29,554.18 L221.71,554.57 L220.13,554.93 L218.55,555.28 L216.97,555.61 L215.39,555.93 L213.81,556.23 L212.23,556.51 L210.65,556.78 L209.07,557.03 L207.49,557.26 L205.91,557.48 L204.33,557.69 L202.75,557.88 L201.17,558.06 L199.59,558.22 L198.01,558.37 L196.43,558.50 L194.85,558.63 L193.26,558.74 L191.68,558.83 L190.10,558.92 L188.52,559.00 L186.94,559.06 L185.36,559.11 L183.78,559.16 L182.20,559.19 L180.62,559.22 L179.04,559.24 L177.46,559.25 L175.88,559.25 L174.30,559.26 L172.72,559.25 L171.14,559.25 L169.56,559.24 L167.98,559.22 L166.40,559.19 L164.82,559.16 L163.23,559.11 L161.65,559.06 L160.07,559.00 L158.49,558.92 L156.91,558.83 L155.33,558.74 L153.75,558.63 L152.17,558.50 L150.59,558.37 L149.01,558.22 L147.43,558.06 L145.85,557.88 L144.27,557.69 L142.69,557.48 L141.11,557.26 L139.53,557.03 L137.95,556.78 L136.37,556.51 L134.78,556.23 L133.20,555.93 L131.62,555.61 L130.04,555.28 L128.46,554.93 L126.88,554.57 L125.30,554.18 L123.72,553.78 L122.14,553.36 L120.56,552.92 L118.98,552.47 L117.40,551.99 L115.82,551.50 L114.24,550.98 L112.66,550.45 L111.08,549.90Z" fill="url(#g21)"/>
<line x1="174.30" y1="546.09" x2="174.30" y2="553.71" stroke="#ffffff" stroke-opacity="0.55" stroke-width="0.9"/>
<defs><linearGradient id="g22" gradientUnits="userSpaceOnUse" x1="102.14" y1="0" x2="259.29" y2="0"><stop offset="0.0000" stop-color="#c0cde8"/><stop offset="0.0250" stop-color="#b6c3e1"/><stop offset="0.0500" stop-color="#acbada"/><stop offset="0.0750" stop-color="#a3b2d3"/><stop offset="0.1000" stop-color="#9aaacd"/><stop offset="0.1250" stop-color="#93a3c7"/><stop offset="0.1500" stop-color="#8b9cc2"/><stop offset="0.1750" stop-color="#8496bd"/><stop offset="0.2000" stop-color="#7e90b8"/><stop offset="0.2250" stop-color="#798bb4"/><stop offset="0.2500" stop-color="#7386b0"/><stop offset="0.2750" stop-color="#6f82ad"/><stop offset="0.3000" stop-color="#6b7eaa"/><stop offset="0.3250" stop-color="#677ba8"/><stop offset="0.3500" stop-color="#6478a5"/><stop offset="0.3750" stop-color="#6276a4"/><stop offset="0.4000" stop-color="#6074a2"/><stop offset="0.4250" stop-color="#5e73a1"/><stop offset="0.4500" stop-color="#5d72a0"/><stop offset="0.4750" stop-color="#5d71a0"/><stop offset="0.5000" stop-color="#5d71a0"/><stop offset="0.5250" stop-color="#5d71a0"/><stop offset="0.5500" stop-color="#5d72a0"/><stop offset="0.5750" stop-color="#5e73a1"/><stop offset="0.6000" stop-color="#6074a2"/><stop offset="0.6250" stop-color="#6276a4"/><stop offset="0.6500" stop-color="#6478a5"/><stop offset="0.6750" stop-color="#677ba8"/><stop offset="0.7000" stop-color="#6b7eaa"/><stop offset="0.7250" stop-color="#6f82ad"/><stop offset="0.7500" stop-color="#7386b0"/><stop offset="0.7750" stop-color="#798bb4"/><stop offset="0.8000" stop-color="#7e90b8"/><stop offset="0.8250" stop-color="#8496bd"/><stop offset="0.8500" stop-color="#8b9cc2"/><stop offset="0.8750" stop-color="#93a3c7"/><stop offset="0.9000" stop-color="#9aaacd"/><stop offset="0.9250" stop-color="#a3b2d3"/><stop offset="0.9500" stop-color="#acbada"/><stop offset="0.9750" stop-color="#b6c3e1"/><stop offset="1.0000" stop-color="#c0cde8"/></linearGradient></defs>
<path d="M102.14,571.80 L104.11,571.44 L106.07,571.10 L108.04,570.77 L110.00,570.45 L111.97,570.14 L113.93,569.84 L115.89,569.56 L117.86,569.29 L119.82,569.03 L121.79,568.78 L123.75,568.54 L125.72,568.32 L127.68,568.10 L129.65,567.90 L131.61,567.70 L133.57,567.52 L135.54,567.35 L137.50,567.19 L139.47,567.03 L141.43,566.89 L143.40,566.76 L145.36,566.63 L147.32,566.52 L149.29,566.41 L151.25,566.32 L153.22,566.23 L155.18,566.15 L157.15,566.08 L159.11,566.02 L161.08,565.96 L163.04,565.91 L165.00,565.87 L166.97,565.84 L168.93,565.81 L170.90,565.78 L172.86,565.77 L174.83,565.76 L176.79,565.75 L178.75,565.74 L180.72,565.74 L182.68,565.74 L184.65,565.75 L186.61,565.76 L188.58,565.77 L190.54,565.78 L192.51,565.81 L194.47,565.84 L196.43,565.87 L198.40,565.91 L200.36,565.96 L202.33,566.02 L204.29,566.08 L206.26,566.15 L208.22,566.23 L210.19,566.32 L212.15,566.41 L214.11,566.52 L216.08,566.63 L218.04,566.76 L220.01,566.89 L221.97,567.03 L223.94,567.19 L225.90,567.35 L227.86,567.52 L229.83,567.70 L231.79,567.90 L233.76,568.10 L235.72,568.32 L237.69,568.54 L239.65,568.78 L241.62,569.03 L243.58,569.29 L245.54,569.56 L247.51,569.84 L249.47,570.14 L251.44,570.45 L253.40,570.77 L255.37,571.10 L257.33,571.44 L259.29,571.80 L259.29,571.80 L257.33,572.16 L255.37,572.50 L253.40,572.83 L251.44,573.15 L249.47,573.46 L247.51,573.76 L245.54,574.04 L243.58,574.31 L241.62,574.57 L239.65,574.82 L237.69,575.06 L235.72,575.28 L233.76,575.50 L231.79,575.70 L229.83,575.90 L227.86,576.08 L225.90,576.25 L223.94,576.41 L221.97,576.57 L220.01,576.71 L218.04,576.84 L216.08,576.97 L214.11,577.08 L212.15,577.19 L210.19,577.28 L208.22,577.37 L206.26,577.45 L204.29,577.52 L202.33,577.58 L200.36,577.64 L198.40,577.69 L196.43,577.73 L194.47,577.76 L192.51,577.79 L190.54,577.82 L188.58,577.83 L186.61,577.84 L184.65,577.85 L182.68,577.86 L180.72,577.86 L178.75,577.86 L176.79,577.85 L174.83,577.84 L172.86,577.83 L170.90,577.82 L168.93,577.79 L166.97,577.76 L165.00,577.73 L163.04,577.69 L161.08,577.64 L159.11,577.58 L157.15,577.52 L155.18,577.45 L153.22,577.37 L151.25,577.28 L149.29,577.19 L147.32,577.08 L145.36,576.97 L143.40,576.84 L141.43,576.71 L139.47,576.57 L137.50,576.41 L135.54,576.25 L133.57,576.08 L131.61,575.90 L129.65,575.70 L127.68,575.50 L125.72,575.28 L123.75,575.06 L121.79,574.82 L119.82,574.57 L117.86,574.31 L115.89,574.04 L113.93,573.76 L111.97,573.46 L110.00,573.15 L108.04,572.83 L106.07,572.50 L104.11,572.16 L102.14,571.80Z" fill="url(#g22)"/>
<line x1="180.72" y1="567.99" x2="180.72" y2="575.61" stroke="#ffffff" stroke-opacity="0.55" stroke-width="0.9"/>
<defs><linearGradient id="g23" gradientUnits="userSpaceOnUse" x1="64.61" y1="0" x2="186.84" y2="0"><stop offset="0.0000" stop-color="#c0cde8"/><stop offset="0.0250" stop-color="#afbddc"/><stop offset="0.0500" stop-color="#9faed0"/><stop offset="0.0750" stop-color="#90a1c5"/><stop offset="0.1000" stop-color="#8294bb"/><stop offset="0.1250" stop-color="#7587b2"/><stop offset="0.1500" stop-color="#697ca9"/><stop offset="0.1750" stop-color="#5e72a1"/><stop offset="0.2000" stop-color="#536899"/><stop offset="0.2250" stop-color="#4a6092"/><stop offset="0.2500" stop-color="#41588c"/><stop offset="0.2750" stop-color="#3a5187"/><stop offset="0.3000" stop-color="#334a82"/><stop offset="0.3250" stop-color="#2d457e"/><stop offset="0.3500" stop-color="#28407a"/><stop offset="0.3750" stop-color="#243d77"/><stop offset="0.4000" stop-color="#213a75"/><stop offset="0.4250" stop-color="#1f3773"/><stop offset="0.4500" stop-color="#1d3672"/><stop offset="0.4750" stop-color="#1c3571"/><stop offset="0.5000" stop-color="#1c3571"/><stop offset="0.5250" stop-color="#1c3571"/><stop offset="0.5500" stop-color="#1d3672"/><stop offset="0.5750" stop-color="#1f3773"/><stop offset="0.6000" stop-color="#213a75"/><stop offset="0.6250" stop-color="#243d77"/><stop offset="0.6500" stop-color="#28407a"/><stop offset="0.6750" stop-color="#2d457e"/><stop offset="0.7000" stop-color="#334a82"/><stop offset="0.7250" stop-color="#3a5187"/><stop offset="0.7500" stop-color="#41588c"/><stop offset="0.7750" stop-color="#4a6092"/><stop offset="0.8000" stop-color="#536899"/><stop offset="0.8250" stop-color="#5e72a1"/><stop offset="0.8500" stop-color="#697ca9"/><stop offset="0.8750" stop-color="#7587b2"/><stop offset="0.9000" stop-color="#8294bb"/><stop offset="0.9250" stop-color="#90a1c5"/><stop offset="0.9500" stop-color="#9faed0"/><stop offset="0.9750" stop-color="#afbddc"/><stop offset="1.0000" stop-color="#c0cde8"/></linearGradient></defs>
<path d="M64.61,594.50 L66.14,593.91 L67.67,593.34 L69.19,592.79 L70.72,592.26 L72.25,591.75 L73.78,591.27 L75.31,590.80 L76.83,590.35 L78.36,589.92 L79.89,589.51 L81.42,589.11 L82.94,588.74 L84.47,588.39 L86.00,588.05 L87.53,587.73 L89.06,587.43 L90.58,587.14 L92.11,586.87 L93.64,586.62 L95.17,586.38 L96.70,586.16 L98.22,585.96 L99.75,585.77 L101.28,585.60 L102.81,585.44 L104.33,585.29 L105.86,585.16 L107.39,585.04 L108.92,584.94 L110.45,584.85 L111.97,584.77 L113.50,584.70 L115.03,584.64 L116.56,584.59 L118.08,584.56 L119.61,584.53 L121.14,584.51 L122.67,584.49 L124.20,584.49 L125.72,584.49 L127.25,584.49 L128.78,584.49 L130.31,584.51 L131.84,584.53 L133.36,584.56 L134.89,584.59 L136.42,584.64 L137.95,584.70 L139.47,584.77 L141.00,584.85 L142.53,584.94 L144.06,585.04 L145.59,585.16 L147.11,585.29 L148.64,585.44 L150.17,585.60 L151.70,585.77 L153.22,585.96 L154.75,586.16 L156.28,586.38 L157.81,586.62 L159.34,586.87 L160.86,587.14 L162.39,587.43 L163.92,587.73 L165.45,588.05 L166.98,588.39 L168.50,588.74 L170.03,589.11 L171.56,589.51 L173.09,589.92 L174.61,590.35 L176.14,590.80 L177.67,591.27 L179.20,591.75 L180.73,592.26 L182.25,592.79 L183.78,593.34 L185.31,593.91 L186.84,594.50 L186.84,594.50 L185.31,595.09 L183.78,595.66 L182.25,596.21 L180.73,596.74 L179.20,597.25 L177.67,597.73 L176.14,598.20 L174.61,598.65 L173.09,599.08 L171.56,599.49 L170.03,599.89 L168.50,600.26 L166.98,600.61 L165.45,600.95 L163.92,601.27 L162.39,601.57 L160.86,601.86 L159.34,602.13 L157.81,602.38 L156.28,602.62 L154.75,602.84 L153.22,603.04 L151.70,603.23 L150.17,603.40 L148.64,603.56 L147.11,603.71 L145.59,603.84 L144.06,603.96 L142.53,604.06 L141.00,604.15 L139.47,604.23 L137.95,604.30 L136.42,604.36 L134.89,604.41 L133.36,604.44 L131.84,604.47 L130.31,604.49 L128.78,604.51 L127.25,604.51 L125.72,604.51 L124.20,604.51 L122.67,604.51 L121.14,604.49 L119.61,604.47 L118.08,604.44 L116.56,604.41 L115.03,604.36 L113.50,604.30 L111.97,604.23 L110.45,604.15 L108.92,604.06 L107.39,603.96 L105.86,603.84 L104.33,603.71 L102.81,603.56 L101.28,603.40 L99.75,603.23 L98.22,603.04 L96.70,602.84 L95.17,602.62 L93.64,602.38 L92.11,602.13 L90.58,601.86 L89.06,601.57 L87.53,601.27 L86.00,600.95 L84.47,600.61 L82.94,600.26 L81.42,599.89 L79.89,599.49 L78.36,599.08 L76.83,598.65 L75.31,598.20 L73.78,597.73 L72.25,597.25 L70.72,596.74 L69.19,596.21 L67.67,595.66 L66.14,595.09 L64.61,594.50Z" fill="url(#g23)"/>
<line x1="125.72" y1="590.69" x2="125.72" y2="598.31" stroke="#ffffff" stroke-opacity="0.55" stroke-width="0.9"/>
<defs><linearGradient id="g24" gradientUnits="userSpaceOnUse" x1="52.73" y1="0" x2="238.88" y2="0"><stop offset="0.0000" stop-color="#c0cde8"/><stop offset="0.0250" stop-color="#b9c6e3"/><stop offset="0.0500" stop-color="#b2c0de"/><stop offset="0.0750" stop-color="#abbad9"/><stop offset="0.1000" stop-color="#a5b4d5"/><stop offset="0.1250" stop-color="#a0afd1"/><stop offset="0.1500" stop-color="#9aaacd"/><stop offset="0.1750" stop-color="#96a6c9"/><stop offset="0.2000" stop-color="#91a2c6"/><stop offset="0.2250" stop-color="#8d9ec3"/><stop offset="0.2500" stop-color="#899ac0"/><stop offset="0.2750" stop-color="#8697be"/><stop offset="0.3000" stop-color="#8395bc"/><stop offset="0.3250" stop-color="#8192ba"/><stop offset="0.3500" stop-color="#7f90b9"/><stop offset="0.3750" stop-color="#7d8fb7"/><stop offset="0.4000" stop-color="#7b8db6"/><stop offset="0.4250" stop-color="#7a8db6"/><stop offset="0.4500" stop-color="#7a8cb5"/><stop offset="0.4750" stop-color="#798cb5"/><stop offset="0.5000" stop-color="#798bb5"/><stop offset="0.5250" stop-color="#798cb5"/><stop offset="0.5500" stop-color="#7a8cb5"/><stop offset="0.5750" stop-color="#7a8db6"/><stop offset="0.6000" stop-color="#7b8db6"/><stop offset="0.6250" stop-color="#7d8fb7"/><stop offset="0.6500" stop-color="#7f90b9"/><stop offset="0.6750" stop-color="#8192ba"/><stop offset="0.7000" stop-color="#8395bc"/><stop offset="0.7250" stop-color="#8697be"/><stop offset="0.7500" stop-color="#899ac0"/><stop offset="0.7750" stop-color="#8d9ec3"/><stop offset="0.8000" stop-color="#91a2c6"/><stop offset="0.8250" stop-color="#96a6c9"/><stop offset="0.8500" stop-color="#9aaacd"/><stop offset="0.8750" stop-color="#a0afd1"/><stop offset="0.9000" stop-color="#a5b4d5"/><stop offset="0.9250" stop-color="#abbad9"/><stop offset="0.9500" stop-color="#b2c0de"/><stop offset="0.9750" stop-color="#b9c6e3"/><stop offset="1.0000" stop-color="#c0cde8"/></linearGradient></defs>
<path d="M52.73,616.70 L55.06,616.45 L57.39,616.20 L59.71,615.96 L62.04,615.74 L64.37,615.52 L66.69,615.31 L69.02,615.10 L71.35,614.91 L73.67,614.72 L76.00,614.55 L78.33,614.38 L80.66,614.22 L82.98,614.06 L85.31,613.92 L87.64,613.78 L89.96,613.65 L92.29,613.53 L94.62,613.41 L96.94,613.30 L99.27,613.20 L101.60,613.11 L103.92,613.02 L106.25,612.94 L108.58,612.86 L110.90,612.79 L113.23,612.73 L115.56,612.67 L117.89,612.62 L120.21,612.58 L122.54,612.54 L124.87,612.50 L127.19,612.47 L129.52,612.45 L131.85,612.43 L134.17,612.41 L136.50,612.40 L138.83,612.39 L141.15,612.39 L143.48,612.38 L145.81,612.38 L148.13,612.38 L150.46,612.39 L152.79,612.39 L155.11,612.40 L157.44,612.41 L159.77,612.43 L162.10,612.45 L164.42,612.47 L166.75,612.50 L169.08,612.54 L171.40,612.58 L173.73,612.62 L176.06,612.67 L178.38,612.73 L180.71,612.79 L183.04,612.86 L185.36,612.94 L187.69,613.02 L190.02,613.11 L192.34,613.20 L194.67,613.30 L197.00,613.41 L199.33,613.53 L201.65,613.65 L203.98,613.78 L206.31,613.92 L208.63,614.06 L210.96,614.22 L213.29,614.38 L215.61,614.55 L217.94,614.72 L220.27,614.91 L222.59,615.10 L224.92,615.31 L227.25,615.52 L229.57,615.74 L231.90,615.96 L234.23,616.20 L236.55,616.45 L238.88,616.70 L238.88,616.70 L236.55,616.95 L234.23,617.20 L231.90,617.44 L229.57,617.66 L227.25,617.88 L224.92,618.09 L222.59,618.30 L220.27,618.49 L217.94,618.68 L215.61,618.85 L213.29,619.02 L210.96,619.18 L208.63,619.34 L206.31,619.48 L203.98,619.62 L201.65,619.75 L199.33,619.87 L197.00,619.99 L194.67,620.10 L192.34,620.20 L190.02,620.29 L187.69,620.38 L185.36,620.46 L183.04,620.54 L180.71,620.61 L178.38,620.67 L176.06,620.73 L173.73,620.78 L171.40,620.82 L169.08,620.86 L166.75,620.90 L164.42,620.93 L162.10,620.95 L159.77,620.97 L157.44,620.99 L155.11,621.00 L152.79,621.01 L150.46,621.01 L148.13,621.02 L145.81,621.02 L143.48,621.02 L141.15,621.01 L138.83,621.01 L136.50,621.00 L134.17,620.99 L131.85,620.97 L129.52,620.95 L127.19,620.93 L124.87,620.90 L122.54,620.86 L120.21,620.82 L117.89,620.78 L115.56,620.73 L113.23,620.67 L110.90,620.61 L108.58,620.54 L106.25,620.46 L103.92,620.38 L101.60,620.29 L99.27,620.20 L96.94,620.10 L94.62,619.99 L92.29,619.87 L89.96,619.75 L87.64,619.62 L85.31,619.48 L82.98,619.34 L80.66,619.18 L78.33,619.02 L76.00,618.85 L73.67,618.68 L71.35,618.49 L69.02,618.30 L66.69,618.09 L64.37,617.88 L62.04,617.66 L59.71,617.44 L57.39,617.20 L55.06,616.95 L52.73,616.70Z" fill="url(#g24)"/>
<line x1="145.81" y1="612.89" x2="145.81" y2="620.51" stroke="#ffffff" stroke-opacity="0.55" stroke-width="0.9"/>
<path d="M119.56,661.9 L155.03,655.05 L190.49,661.9 L155.03,668.75Z" fill="#1c3571"/>
<line x1="202.7" y1="515.7" x2="202.7" y2="684.1" stroke="#5a5a5a" stroke-width="0.7" stroke-dasharray="1.3 1.5"/>
<line x1="41.4" y1="515.7" x2="41.4" y2="684.1" stroke="#dadada" stroke-width="1"/>
<line x1="270.9" y1="515.7" x2="270.9" y2="684.1" stroke="#dadada" stroke-width="1"/>
<line x1="40.9" y1="515.7" x2="271.4" y2="515.7" stroke="#a8a8a8" stroke-width="0.9"/>
<line x1="40.9" y1="684.1" x2="271.4" y2="684.1" stroke="#a8a8a8" stroke-width="0.9"/>
<text transform="translate(39.40,552.40) scale(0.9,1)" font-size="6.6" fill="#4d4d4d" stroke="#4d4d4d" stroke-width="0.18" text-anchor="end">PanGenEU</text>
<line x1="40.1" y1="549.9" x2="41.4" y2="549.9" stroke="#555" stroke-width="0.7"/>
<text transform="translate(39.40,574.30) scale(0.9,1)" font-size="6.6" fill="#4d4d4d" stroke="#4d4d4d" stroke-width="0.18" text-anchor="end">TCGA</text>
<line x1="40.1" y1="571.8" x2="41.4" y2="571.8" stroke="#555" stroke-width="0.7"/>
<text transform="translate(39.40,597.00) scale(0.9,1)" font-size="6.6" fill="#4d4d4d" stroke="#4d4d4d" stroke-width="0.18" text-anchor="end">ICGC-CA</text>
<line x1="40.1" y1="594.5" x2="41.4" y2="594.5" stroke="#555" stroke-width="0.7"/>
<text transform="translate(39.40,619.20) scale(0.9,1)" font-size="6.6" fill="#4d4d4d" stroke="#4d4d4d" stroke-width="0.18" text-anchor="end">ICGC-AU</text>
<line x1="40.1" y1="616.7" x2="41.4" y2="616.7" stroke="#555" stroke-width="0.7"/>
<text transform="translate(39.40,664.40) scale(0.9,1)" font-size="6.6" fill="#4d4d4d" stroke="#4d4d4d" stroke-width="0.18" text-anchor="end">Meta-analysis</text>
<line x1="40.1" y1="661.9" x2="41.4" y2="661.9" stroke="#555" stroke-width="0.7"/>
<defs><clipPath id="c25"><rect x="0" y="684.1" width="271.2" height="20"/></clipPath></defs><g clip-path="url(#c25)">
<line x1="118.60" y1="684.1" x2="118.60" y2="685.6" stroke="#333" stroke-width="0.6"/>
<text transform="translate(118.60,689.8) scale(0.95,1)" font-size="6.4" fill="#4d4d4d" stroke="#4d4d4d" stroke-width="0.18" text-anchor="middle">0.607</text>
<line x1="202.70" y1="684.1" x2="202.70" y2="685.6" stroke="#333" stroke-width="0.6"/>
<text transform="translate(202.70,689.8) scale(0.95,1)" font-size="6.4" fill="#4d4d4d" stroke="#4d4d4d" stroke-width="0.18" text-anchor="middle">1</text>
</g>
<text x="156.15" y="697.8" font-size="7.4" fill="#222" text-anchor="middle">HR</text>
<text x="279.8" y="530.50" font-size="7.6" fill="#111" stroke="#111" stroke-width="0.18">HR [95% CI]</text>
<line x1="279.8" y1="537.9" x2="336.5" y2="537.9" stroke="#333" stroke-width="0.8"/>
<text transform="translate(279.8,552.90) scale(0.95,1)" font-size="7.9" fill="#111" stroke="#111" stroke-width="0.18">0.84 [0.58, 1.23]</text>
<text transform="translate(279.8,574.80) scale(0.95,1)" font-size="7.9" fill="#111" stroke="#111" stroke-width="0.18">0.88 [0.55, 1.40]</text>
<text transform="translate(279.8,597.50) scale(0.95,1)" font-size="7.9" fill="#111" stroke="#111" stroke-width="0.18">0.63 [0.44, 0.91]</text>
<text transform="translate(279.8,619.70) scale(0.95,1)" font-size="7.9" fill="#111" stroke="#111" stroke-width="0.18">0.71 [0.41, 1.24]</text>
<text transform="translate(279.8,664.90) scale(0.95,1)" font-size="7.9" fill="#111" stroke="#111" stroke-width="0.18">0.75 [0.61, 0.93]</text>
<text x="358.50" y="506.2" font-size="16.8" font-weight="bold" fill="#000">F. <tspan font-style="italic">CFI</tspan></text>
<text x="523.0" y="501.9" font-size="13.0" fill="#111">Adj. <tspan font-style="italic">P</tspan> value=3.37x10<tspan font-size="9.2" dy="-4.5">-2</tspan></text>
<rect x="387.4" y="516.2" width="229.30000000000007" height="167.39999999999998" fill="#fff"/>
<line x1="417.62" y1="516.2" x2="417.62" y2="683.6" stroke="#ebebeb" stroke-width="0.9"/>
<line x1="460.57" y1="516.2" x2="460.57" y2="683.6" stroke="#ebebeb" stroke-width="0.9"/>
<line x1="503.52" y1="516.2" x2="503.52" y2="683.6" stroke="#ebebeb" stroke-width="0.9"/>
<line x1="546.48" y1="516.2" x2="546.48" y2="683.6" stroke="#ebebeb" stroke-width="0.9"/>
<line x1="589.42" y1="516.2" x2="589.42" y2="683.6" stroke="#ebebeb" stroke-width="0.9"/>
<line x1="396.15" y1="516.2" x2="396.15" y2="683.6" stroke="#e3e3e3" stroke-width="0.9"/>
<line x1="439.10" y1="516.2" x2="439.10" y2="683.6" stroke="#e3e3e3" stroke-width="0.9"/>
<line x1="482.05" y1="516.2" x2="482.05" y2="683.6" stroke="#e3e3e3" stroke-width="0.9"/>
<line x1="525.00" y1="516.2" x2="525.00" y2="683.6" stroke="#e3e3e3" stroke-width="0.9"/>
<line x1="567.95" y1="516.2" x2="567.95" y2="683.6" stroke="#e3e3e3" stroke-width="0.9"/>
<line x1="610.90" y1="516.2" x2="610.90" y2="683.6" stroke="#e3e3e3" stroke-width="0.9"/>
<defs><linearGradient id="g26" gradientUnits="userSpaceOnUse" x1="415.93" y1="0" x2="544.47" y2="0"><stop offset="0.0000" stop-color="#c0cde8"/><stop offset="0.0250" stop-color="#b1bfdd"/><stop offset="0.0500" stop-color="#a2b1d2"/><stop offset="0.0750" stop-color="#94a5c8"/><stop offset="0.1000" stop-color="#8899bf"/><stop offset="0.1250" stop-color="#7c8eb6"/><stop offset="0.1500" stop-color="#7183ae"/><stop offset="0.1750" stop-color="#667aa7"/><stop offset="0.2000" stop-color="#5d71a0"/><stop offset="0.2250" stop-color="#55699a"/><stop offset="0.2500" stop-color="#4d6294"/><stop offset="0.2750" stop-color="#465c8f"/><stop offset="0.3000" stop-color="#40568b"/><stop offset="0.3250" stop-color="#3a5187"/><stop offset="0.3500" stop-color="#364d84"/><stop offset="0.3750" stop-color="#324a81"/><stop offset="0.4000" stop-color="#2f477f"/><stop offset="0.4250" stop-color="#2d457d"/><stop offset="0.4500" stop-color="#2c447c"/><stop offset="0.4750" stop-color="#2b437c"/><stop offset="0.5000" stop-color="#2b437c"/><stop offset="0.5250" stop-color="#2b437c"/><stop offset="0.5500" stop-color="#2c447c"/><stop offset="0.5750" stop-color="#2d457d"/><stop offset="0.6000" stop-color="#2f477f"/><stop offset="0.6250" stop-color="#324a81"/><stop offset="0.6500" stop-color="#364d84"/><stop offset="0.6750" stop-color="#3a5187"/><stop offset="0.7000" stop-color="#40568b"/><stop offset="0.7250" stop-color="#465c8f"/><stop offset="0.7500" stop-color="#4d6294"/><stop offset="0.7750" stop-color="#55699a"/><stop offset="0.8000" stop-color="#5d71a0"/><stop offset="0.8250" stop-color="#667aa7"/><stop offset="0.8500" stop-color="#7183ae"/><stop offset="0.8750" stop-color="#7c8eb6"/><stop offset="0.9000" stop-color="#8899bf"/><stop offset="0.9250" stop-color="#94a5c8"/><stop offset="0.9500" stop-color="#a2b1d2"/><stop offset="0.9750" stop-color="#b1bfdd"/><stop offset="1.0000" stop-color="#c0cde8"/></linearGradient></defs>
<path d="M415.93,549.90 L417.53,549.36 L419.14,548.84 L420.75,548.34 L422.36,547.85 L423.96,547.39 L425.57,546.94 L427.18,546.52 L428.78,546.10 L430.39,545.71 L432.00,545.34 L433.60,544.98 L435.21,544.64 L436.82,544.31 L438.42,544.00 L440.03,543.71 L441.64,543.43 L443.24,543.17 L444.85,542.93 L446.46,542.70 L448.06,542.48 L449.67,542.28 L451.28,542.09 L452.88,541.92 L454.49,541.76 L456.10,541.62 L457.70,541.48 L459.31,541.36 L460.92,541.26 L462.52,541.16 L464.13,541.08 L465.74,541.00 L467.34,540.94 L468.95,540.89 L470.56,540.84 L472.17,540.81 L473.77,540.78 L475.38,540.77 L476.99,540.75 L478.59,540.75 L480.20,540.75 L481.81,540.75 L483.41,540.75 L485.02,540.77 L486.63,540.78 L488.23,540.81 L489.84,540.84 L491.45,540.89 L493.05,540.94 L494.66,541.00 L496.27,541.08 L497.87,541.16 L499.48,541.26 L501.09,541.36 L502.69,541.48 L504.30,541.62 L505.91,541.76 L507.51,541.92 L509.12,542.09 L510.73,542.28 L512.33,542.48 L513.94,542.70 L515.55,542.93 L517.15,543.17 L518.76,543.43 L520.37,543.71 L521.98,544.00 L523.58,544.31 L525.19,544.64 L526.80,544.98 L528.40,545.34 L530.01,545.71 L531.62,546.10 L533.22,546.52 L534.83,546.94 L536.44,547.39 L538.04,547.85 L539.65,548.34 L541.26,548.84 L542.86,549.36 L544.47,549.90 L544.47,549.90 L542.86,550.44 L541.26,550.96 L539.65,551.46 L538.04,551.95 L536.44,552.41 L534.83,552.86 L533.22,553.28 L531.62,553.70 L530.01,554.09 L528.40,554.46 L526.80,554.82 L525.19,555.16 L523.58,555.49 L521.98,555.80 L520.37,556.09 L518.76,556.37 L517.15,556.63 L515.55,556.87 L513.94,557.10 L512.33,557.32 L510.73,557.52 L509.12,557.71 L507.51,557.88 L505.91,558.04 L504.30,558.18 L502.69,558.32 L501.09,558.44 L499.48,558.54 L497.87,558.64 L496.27,558.72 L494.66,558.80 L493.05,558.86 L491.45,558.91 L489.84,558.96 L488.23,558.99 L486.63,559.02 L485.02,559.03 L483.41,559.05 L481.81,559.05 L480.20,559.05 L478.59,559.05 L476.99,559.05 L475.38,559.03 L473.77,559.02 L472.17,558.99 L470.56,558.96 L468.95,558.91 L467.34,558.86 L465.74,558.80 L464.13,558.72 L462.52,558.64 L460.92,558.54 L459.31,558.44 L457.70,558.32 L456.10,558.18 L454.49,558.04 L452.88,557.88 L451.28,557.71 L449.67,557.52 L448.06,557.32 L446.46,557.10 L444.85,556.87 L443.24,556.63 L441.64,556.37 L440.03,556.09 L438.42,555.80 L436.82,555.49 L435.21,555.16 L433.60,554.82 L432.00,554.46 L430.39,554.09 L428.78,553.70 L427.18,553.28 L425.57,552.86 L423.96,552.41 L422.36,551.95 L420.75,551.46 L419.14,550.96 L417.53,550.44 L415.93,549.90Z" fill="url(#g26)"/>
<line x1="480.20" y1="546.07" x2="480.20" y2="553.73" stroke="#ffffff" stroke-opacity="0.55" stroke-width="0.9"/>
<defs><linearGradient id="g27" gradientUnits="userSpaceOnUse" x1="402.45" y1="0" x2="559.16" y2="0"><stop offset="0.0000" stop-color="#c0cde8"/><stop offset="0.0250" stop-color="#b6c3e0"/><stop offset="0.0500" stop-color="#acbad9"/><stop offset="0.0750" stop-color="#a3b2d3"/><stop offset="0.1000" stop-color="#9aaacc"/><stop offset="0.1250" stop-color="#92a2c7"/><stop offset="0.1500" stop-color="#8b9cc1"/><stop offset="0.1750" stop-color="#8495bc"/><stop offset="0.2000" stop-color="#7d8fb8"/><stop offset="0.2250" stop-color="#788ab4"/><stop offset="0.2500" stop-color="#7285b0"/><stop offset="0.2750" stop-color="#6e81ac"/><stop offset="0.3000" stop-color="#6a7da9"/><stop offset="0.3250" stop-color="#667aa7"/><stop offset="0.3500" stop-color="#6377a5"/><stop offset="0.3750" stop-color="#6175a3"/><stop offset="0.4000" stop-color="#5f73a1"/><stop offset="0.4250" stop-color="#5d71a0"/><stop offset="0.4500" stop-color="#5c71a0"/><stop offset="0.4750" stop-color="#5c709f"/><stop offset="0.5000" stop-color="#5c709f"/><stop offset="0.5250" stop-color="#5c709f"/><stop offset="0.5500" stop-color="#5c71a0"/><stop offset="0.5750" stop-color="#5d71a0"/><stop offset="0.6000" stop-color="#5f73a1"/><stop offset="0.6250" stop-color="#6175a3"/><stop offset="0.6500" stop-color="#6377a5"/><stop offset="0.6750" stop-color="#667aa7"/><stop offset="0.7000" stop-color="#6a7da9"/><stop offset="0.7250" stop-color="#6e81ac"/><stop offset="0.7500" stop-color="#7285b0"/><stop offset="0.7750" stop-color="#788ab4"/><stop offset="0.8000" stop-color="#7d8fb8"/><stop offset="0.8250" stop-color="#8495bc"/><stop offset="0.8500" stop-color="#8b9cc1"/><stop offset="0.8750" stop-color="#92a2c7"/><stop offset="0.9000" stop-color="#9aaacc"/><stop offset="0.9250" stop-color="#a3b2d3"/><stop offset="0.9500" stop-color="#acbad9"/><stop offset="0.9750" stop-color="#b6c3e0"/><stop offset="1.0000" stop-color="#c0cde8"/></linearGradient></defs>
<path d="M402.45,571.80 L404.41,571.44 L406.36,571.09 L408.32,570.75 L410.28,570.42 L412.24,570.11 L414.20,569.81 L416.16,569.52 L418.12,569.25 L420.08,568.98 L422.04,568.73 L423.99,568.49 L425.95,568.26 L427.91,568.04 L429.87,567.83 L431.83,567.64 L433.79,567.45 L435.75,567.27 L437.71,567.11 L439.67,566.95 L441.63,566.81 L443.58,566.67 L445.54,566.55 L447.50,566.43 L449.46,566.33 L451.42,566.23 L453.38,566.14 L455.34,566.06 L457.30,565.98 L459.26,565.92 L461.22,565.86 L463.17,565.81 L465.13,565.77 L467.09,565.74 L469.05,565.71 L471.01,565.68 L472.97,565.67 L474.93,565.65 L476.89,565.65 L478.85,565.64 L480.80,565.64 L482.76,565.64 L484.72,565.65 L486.68,565.65 L488.64,565.67 L490.60,565.68 L492.56,565.71 L494.52,565.74 L496.48,565.77 L498.44,565.81 L500.39,565.86 L502.35,565.92 L504.31,565.98 L506.27,566.06 L508.23,566.14 L510.19,566.23 L512.15,566.33 L514.11,566.43 L516.07,566.55 L518.02,566.67 L519.98,566.81 L521.94,566.95 L523.90,567.11 L525.86,567.27 L527.82,567.45 L529.78,567.64 L531.74,567.83 L533.70,568.04 L535.66,568.26 L537.61,568.49 L539.57,568.73 L541.53,568.98 L543.49,569.25 L545.45,569.52 L547.41,569.81 L549.37,570.11 L551.33,570.42 L553.29,570.75 L555.24,571.09 L557.20,571.44 L559.16,571.80 L559.16,571.80 L557.20,572.16 L555.24,572.51 L553.29,572.85 L551.33,573.18 L549.37,573.49 L547.41,573.79 L545.45,574.08 L543.49,574.35 L541.53,574.62 L539.57,574.87 L537.61,575.11 L535.66,575.34 L533.70,575.56 L531.74,575.77 L529.78,575.96 L527.82,576.15 L525.86,576.33 L523.90,576.49 L521.94,576.65 L519.98,576.79 L518.02,576.93 L516.07,577.05 L514.11,577.17 L512.15,577.27 L510.19,577.37 L508.23,577.46 L506.27,577.54 L504.31,577.62 L502.35,577.68 L500.39,577.74 L498.44,577.79 L496.48,577.83 L494.52,577.86 L492.56,577.89 L490.60,577.92 L488.64,577.93 L486.68,577.95 L484.72,577.95 L482.76,577.96 L480.80,577.96 L478.85,577.96 L476.89,577.95 L474.93,577.95 L472.97,577.93 L471.01,577.92 L469.05,577.89 L467.09,577.86 L465.13,577.83 L463.17,577.79 L461.22,577.74 L459.26,577.68 L457.30,577.62 L455.34,577.54 L453.38,577.46 L451.42,577.37 L449.46,577.27 L447.50,577.17 L445.54,577.05 L443.58,576.93 L441.63,576.79 L439.67,576.65 L437.71,576.49 L435.75,576.33 L433.79,576.15 L431.83,575.96 L429.87,575.77 L427.91,575.56 L425.95,575.34 L423.99,575.11 L422.04,574.87 L420.08,574.62 L418.12,574.35 L416.16,574.08 L414.20,573.79 L412.24,573.49 L410.28,573.18 L408.32,572.85 L406.36,572.51 L404.41,572.16 L402.45,571.80Z" fill="url(#g27)"/>
<line x1="480.80" y1="567.97" x2="480.80" y2="575.62" stroke="#ffffff" stroke-opacity="0.55" stroke-width="0.9"/>
<defs><linearGradient id="g28" gradientUnits="userSpaceOnUse" x1="398.90" y1="0" x2="521.53" y2="0"><stop offset="0.0000" stop-color="#c0cde8"/><stop offset="0.0250" stop-color="#afbddc"/><stop offset="0.0500" stop-color="#9faed0"/><stop offset="0.0750" stop-color="#90a1c5"/><stop offset="0.1000" stop-color="#8294bb"/><stop offset="0.1250" stop-color="#7587b2"/><stop offset="0.1500" stop-color="#697ca9"/><stop offset="0.1750" stop-color="#5e72a1"/><stop offset="0.2000" stop-color="#536899"/><stop offset="0.2250" stop-color="#4a6092"/><stop offset="0.2500" stop-color="#41588c"/><stop offset="0.2750" stop-color="#3a5187"/><stop offset="0.3000" stop-color="#334a82"/><stop offset="0.3250" stop-color="#2d457e"/><stop offset="0.3500" stop-color="#28407a"/><stop offset="0.3750" stop-color="#243d77"/><stop offset="0.4000" stop-color="#213a75"/><stop offset="0.4250" stop-color="#1f3773"/><stop offset="0.4500" stop-color="#1d3672"/><stop offset="0.4750" stop-color="#1c3571"/><stop offset="0.5000" stop-color="#1c3571"/><stop offset="0.5250" stop-color="#1c3571"/><stop offset="0.5500" stop-color="#1d3672"/><stop offset="0.5750" stop-color="#1f3773"/><stop offset="0.6000" stop-color="#213a75"/><stop offset="0.6250" stop-color="#243d77"/><stop offset="0.6500" stop-color="#28407a"/><stop offset="0.6750" stop-color="#2d457e"/><stop offset="0.7000" stop-color="#334a82"/><stop offset="0.7250" stop-color="#3a5187"/><stop offset="0.7500" stop-color="#41588c"/><stop offset="0.7750" stop-color="#4a6092"/><stop offset="0.8000" stop-color="#536899"/><stop offset="0.8250" stop-color="#5e72a1"/><stop offset="0.8500" stop-color="#697ca9"/><stop offset="0.8750" stop-color="#7587b2"/><stop offset="0.9000" stop-color="#8294bb"/><stop offset="0.9250" stop-color="#90a1c5"/><stop offset="0.9500" stop-color="#9faed0"/><stop offset="0.9750" stop-color="#afbddc"/><stop offset="1.0000" stop-color="#c0cde8"/></linearGradient></defs>
<path d="M398.90,595.00 L400.44,594.41 L401.97,593.84 L403.50,593.28 L405.04,592.75 L406.57,592.24 L408.10,591.75 L409.63,591.28 L411.17,590.83 L412.70,590.40 L414.23,589.98 L415.77,589.59 L417.30,589.22 L418.83,588.86 L420.36,588.52 L421.90,588.20 L423.43,587.89 L424.96,587.61 L426.49,587.34 L428.03,587.08 L429.56,586.85 L431.09,586.63 L432.63,586.42 L434.16,586.23 L435.69,586.06 L437.22,585.90 L438.76,585.75 L440.29,585.62 L441.82,585.50 L443.36,585.40 L444.89,585.30 L446.42,585.22 L447.95,585.15 L449.49,585.10 L451.02,585.05 L452.55,585.01 L454.09,584.98 L455.62,584.96 L457.15,584.95 L458.68,584.94 L460.22,584.94 L461.75,584.94 L463.28,584.95 L464.82,584.96 L466.35,584.98 L467.88,585.01 L469.41,585.05 L470.95,585.10 L472.48,585.15 L474.01,585.22 L475.54,585.30 L477.08,585.40 L478.61,585.50 L480.14,585.62 L481.68,585.75 L483.21,585.90 L484.74,586.06 L486.27,586.23 L487.81,586.42 L489.34,586.63 L490.87,586.85 L492.41,587.08 L493.94,587.34 L495.47,587.61 L497.00,587.89 L498.54,588.20 L500.07,588.52 L501.60,588.86 L503.14,589.22 L504.67,589.59 L506.20,589.98 L507.73,590.40 L509.27,590.83 L510.80,591.28 L512.33,591.75 L513.87,592.24 L515.40,592.75 L516.93,593.28 L518.46,593.84 L520.00,594.41 L521.53,595.00 L521.53,595.00 L520.00,595.59 L518.46,596.16 L516.93,596.72 L515.40,597.25 L513.87,597.76 L512.33,598.25 L510.80,598.72 L509.27,599.17 L507.73,599.60 L506.20,600.02 L504.67,600.41 L503.14,600.78 L501.60,601.14 L500.07,601.48 L498.54,601.80 L497.00,602.11 L495.47,602.39 L493.94,602.66 L492.41,602.92 L490.87,603.15 L489.34,603.37 L487.81,603.58 L486.27,603.77 L484.74,603.94 L483.21,604.10 L481.68,604.25 L480.14,604.38 L478.61,604.50 L477.08,604.60 L475.54,604.70 L474.01,604.78 L472.48,604.85 L470.95,604.90 L469.41,604.95 L467.88,604.99 L466.35,605.02 L464.82,605.04 L463.28,605.05 L461.75,605.06 L460.22,605.06 L458.68,605.06 L457.15,605.05 L455.62,605.04 L454.09,605.02 L452.55,604.99 L451.02,604.95 L449.49,604.90 L447.95,604.85 L446.42,604.78 L444.89,604.70 L443.36,604.60 L441.82,604.50 L440.29,604.38 L438.76,604.25 L437.22,604.10 L435.69,603.94 L434.16,603.77 L432.63,603.58 L431.09,603.37 L429.56,603.15 L428.03,602.92 L426.49,602.66 L424.96,602.39 L423.43,602.11 L421.90,601.80 L420.36,601.48 L418.83,601.14 L417.30,600.78 L415.77,600.41 L414.23,600.02 L412.70,599.60 L411.17,599.17 L409.63,598.72 L408.10,598.25 L406.57,597.76 L405.04,597.25 L403.50,596.72 L401.97,596.16 L400.44,595.59 L398.90,595.00Z" fill="url(#g28)"/>
<line x1="460.22" y1="591.17" x2="460.22" y2="598.83" stroke="#ffffff" stroke-opacity="0.55" stroke-width="0.9"/>
<defs><linearGradient id="g29" gradientUnits="userSpaceOnUse" x1="415.93" y1="0" x2="606.82" y2="0"><stop offset="0.0000" stop-color="#c0cde8"/><stop offset="0.0250" stop-color="#b9c6e3"/><stop offset="0.0500" stop-color="#b2c0de"/><stop offset="0.0750" stop-color="#acbbda"/><stop offset="0.1000" stop-color="#a6b5d5"/><stop offset="0.1250" stop-color="#a1b0d2"/><stop offset="0.1500" stop-color="#9cacce"/><stop offset="0.1750" stop-color="#97a7cb"/><stop offset="0.2000" stop-color="#93a3c7"/><stop offset="0.2250" stop-color="#8fa0c5"/><stop offset="0.2500" stop-color="#8c9dc2"/><stop offset="0.2750" stop-color="#899ac0"/><stop offset="0.3000" stop-color="#8697be"/><stop offset="0.3250" stop-color="#8395bc"/><stop offset="0.3500" stop-color="#8193bb"/><stop offset="0.3750" stop-color="#8091b9"/><stop offset="0.4000" stop-color="#7e90b8"/><stop offset="0.4250" stop-color="#7d8fb8"/><stop offset="0.4500" stop-color="#7d8fb7"/><stop offset="0.4750" stop-color="#7c8eb7"/><stop offset="0.5000" stop-color="#7c8eb7"/><stop offset="0.5250" stop-color="#7c8eb7"/><stop offset="0.5500" stop-color="#7d8fb7"/><stop offset="0.5750" stop-color="#7d8fb8"/><stop offset="0.6000" stop-color="#7e90b8"/><stop offset="0.6250" stop-color="#8091b9"/><stop offset="0.6500" stop-color="#8193bb"/><stop offset="0.6750" stop-color="#8395bc"/><stop offset="0.7000" stop-color="#8697be"/><stop offset="0.7250" stop-color="#899ac0"/><stop offset="0.7500" stop-color="#8c9dc2"/><stop offset="0.7750" stop-color="#8fa0c5"/><stop offset="0.8000" stop-color="#93a3c7"/><stop offset="0.8250" stop-color="#97a7cb"/><stop offset="0.8500" stop-color="#9cacce"/><stop offset="0.8750" stop-color="#a1b0d2"/><stop offset="0.9000" stop-color="#a6b5d5"/><stop offset="0.9250" stop-color="#acbbda"/><stop offset="0.9500" stop-color="#b2c0de"/><stop offset="0.9750" stop-color="#b9c6e3"/><stop offset="1.0000" stop-color="#c0cde8"/></linearGradient></defs>
<path d="M415.93,617.20 L418.31,616.96 L420.70,616.72 L423.09,616.49 L425.47,616.27 L427.86,616.06 L430.24,615.86 L432.63,615.67 L435.02,615.48 L437.40,615.30 L439.79,615.13 L442.18,614.97 L444.56,614.81 L446.95,614.67 L449.33,614.53 L451.72,614.39 L454.11,614.27 L456.49,614.15 L458.88,614.04 L461.26,613.93 L463.65,613.84 L466.04,613.74 L468.42,613.66 L470.81,613.58 L473.19,613.51 L475.58,613.44 L477.97,613.38 L480.35,613.33 L482.74,613.28 L485.13,613.24 L487.51,613.20 L489.90,613.17 L492.28,613.14 L494.67,613.11 L497.06,613.09 L499.44,613.08 L501.83,613.07 L504.21,613.06 L506.60,613.05 L508.99,613.05 L511.37,613.05 L513.76,613.05 L516.14,613.05 L518.53,613.06 L520.92,613.07 L523.30,613.08 L525.69,613.09 L528.08,613.11 L530.46,613.14 L532.85,613.17 L535.23,613.20 L537.62,613.24 L540.01,613.28 L542.39,613.33 L544.78,613.38 L547.16,613.44 L549.55,613.51 L551.94,613.58 L554.32,613.66 L556.71,613.74 L559.09,613.84 L561.48,613.93 L563.87,614.04 L566.25,614.15 L568.64,614.27 L571.03,614.39 L573.41,614.53 L575.80,614.67 L578.18,614.81 L580.57,614.97 L582.96,615.13 L585.34,615.30 L587.73,615.48 L590.11,615.67 L592.50,615.86 L594.89,616.06 L597.27,616.27 L599.66,616.49 L602.04,616.72 L604.43,616.96 L606.82,617.20 L606.82,617.20 L604.43,617.44 L602.04,617.68 L599.66,617.91 L597.27,618.13 L594.89,618.34 L592.50,618.54 L590.11,618.73 L587.73,618.92 L585.34,619.10 L582.96,619.27 L580.57,619.43 L578.18,619.59 L575.80,619.73 L573.41,619.87 L571.03,620.01 L568.64,620.13 L566.25,620.25 L563.87,620.36 L561.48,620.47 L559.09,620.56 L556.71,620.66 L554.32,620.74 L551.94,620.82 L549.55,620.89 L547.16,620.96 L544.78,621.02 L542.39,621.07 L540.01,621.12 L537.62,621.16 L535.23,621.20 L532.85,621.23 L530.46,621.26 L528.08,621.29 L525.69,621.31 L523.30,621.32 L520.92,621.33 L518.53,621.34 L516.14,621.35 L513.76,621.35 L511.37,621.35 L508.99,621.35 L506.60,621.35 L504.21,621.34 L501.83,621.33 L499.44,621.32 L497.06,621.31 L494.67,621.29 L492.28,621.26 L489.90,621.23 L487.51,621.20 L485.13,621.16 L482.74,621.12 L480.35,621.07 L477.97,621.02 L475.58,620.96 L473.19,620.89 L470.81,620.82 L468.42,620.74 L466.04,620.66 L463.65,620.56 L461.26,620.47 L458.88,620.36 L456.49,620.25 L454.11,620.13 L451.72,620.01 L449.33,619.87 L446.95,619.73 L444.56,619.59 L442.18,619.43 L439.79,619.27 L437.40,619.10 L435.02,618.92 L432.63,618.73 L430.24,618.54 L427.86,618.34 L425.47,618.13 L423.09,617.91 L420.70,617.68 L418.31,617.44 L415.93,617.20Z" fill="url(#g29)"/>
<line x1="511.37" y1="613.38" x2="511.37" y2="621.03" stroke="#ffffff" stroke-opacity="0.55" stroke-width="0.9"/>
<path d="M442.87,662.4 L478.62,655.51 L514.37,662.4 L478.62,669.28Z" fill="#1c3571"/>
<line x1="525.0" y1="516.2" x2="525.0" y2="683.6" stroke="#5a5a5a" stroke-width="0.7" stroke-dasharray="1.3 1.5"/>
<line x1="387.4" y1="516.2" x2="387.4" y2="683.6" stroke="#dadada" stroke-width="1"/>
<line x1="616.7" y1="516.2" x2="616.7" y2="683.6" stroke="#dadada" stroke-width="1"/>
<line x1="386.9" y1="516.2" x2="617.2" y2="516.2" stroke="#a8a8a8" stroke-width="0.9"/>
<line x1="386.9" y1="683.6" x2="617.2" y2="683.6" stroke="#a8a8a8" stroke-width="0.9"/>
<text transform="translate(385.40,552.40) scale(0.9,1)" font-size="6.6" fill="#4d4d4d" stroke="#4d4d4d" stroke-width="0.18" text-anchor="end">PanGenEU</text>
<line x1="386.09999999999997" y1="549.9" x2="387.4" y2="549.9" stroke="#555" stroke-width="0.7"/>
<text transform="translate(385.40,574.30) scale(0.9,1)" font-size="6.6" fill="#4d4d4d" stroke="#4d4d4d" stroke-width="0.18" text-anchor="end">TCGA</text>
<line x1="386.09999999999997" y1="571.8" x2="387.4" y2="571.8" stroke="#555" stroke-width="0.7"/>
<text transform="translate(385.40,597.50) scale(0.9,1)" font-size="6.6" fill="#4d4d4d" stroke="#4d4d4d" stroke-width="0.18" text-anchor="end">ICGC-CA</text>
<line x1="386.09999999999997" y1="595.0" x2="387.4" y2="595.0" stroke="#555" stroke-width="0.7"/>
<text transform="translate(385.40,619.70) scale(0.9,1)" font-size="6.6" fill="#4d4d4d" stroke="#4d4d4d" stroke-width="0.18" text-anchor="end">ICGC-AU</text>
<line x1="386.09999999999997" y1="617.2" x2="387.4" y2="617.2" stroke="#555" stroke-width="0.7"/>
<text transform="translate(385.40,664.90) scale(0.9,1)" font-size="6.6" fill="#4d4d4d" stroke="#4d4d4d" stroke-width="0.18" text-anchor="end">Meta-analysis</text>
<line x1="386.09999999999997" y1="662.4" x2="387.4" y2="662.4" stroke="#555" stroke-width="0.7"/>
<defs><clipPath id="c30"><rect x="0" y="683.6" width="617.0" height="20"/></clipPath></defs><g clip-path="url(#c30)">
<line x1="396.15" y1="683.6" x2="396.15" y2="685.1" stroke="#333" stroke-width="0.6"/>
<text transform="translate(396.15,689.8) scale(0.95,1)" font-size="6.4" fill="#4d4d4d" stroke="#4d4d4d" stroke-width="0.18" text-anchor="middle">0.472</text>
<line x1="439.10" y1="683.6" x2="439.10" y2="685.1" stroke="#333" stroke-width="0.6"/>
<text transform="translate(439.10,689.8) scale(0.95,1)" font-size="6.4" fill="#4d4d4d" stroke="#4d4d4d" stroke-width="0.18" text-anchor="middle">0.607</text>
<line x1="482.05" y1="683.6" x2="482.05" y2="685.1" stroke="#333" stroke-width="0.6"/>
<text transform="translate(482.05,689.8) scale(0.95,1)" font-size="6.4" fill="#4d4d4d" stroke="#4d4d4d" stroke-width="0.18" text-anchor="middle">0.779</text>
<line x1="525.00" y1="683.6" x2="525.00" y2="685.1" stroke="#333" stroke-width="0.6"/>
<text transform="translate(525.00,689.8) scale(0.95,1)" font-size="6.4" fill="#4d4d4d" stroke="#4d4d4d" stroke-width="0.18" text-anchor="middle">1</text>
<line x1="567.95" y1="683.6" x2="567.95" y2="685.1" stroke="#333" stroke-width="0.6"/>
<text transform="translate(567.95,689.8) scale(0.95,1)" font-size="6.4" fill="#4d4d4d" stroke="#4d4d4d" stroke-width="0.18" text-anchor="middle">1.284</text>
<line x1="610.90" y1="683.6" x2="610.90" y2="685.1" stroke="#333" stroke-width="0.6"/>
<text transform="translate(610.90,689.8) scale(0.95,1)" font-size="6.4" fill="#4d4d4d" stroke="#4d4d4d" stroke-width="0.18" text-anchor="middle">1.649</text>
</g>
<text x="502.05" y="697.8" font-size="7.4" fill="#222" text-anchor="middle">HR</text>
<text x="626.5" y="530.40" font-size="7.6" fill="#111" stroke="#111" stroke-width="0.18">HR [95% CI]</text>
<line x1="626.5" y1="537.8" x2="683.2" y2="537.8" stroke="#333" stroke-width="0.8"/>
<text transform="translate(626.5,552.90) scale(0.95,1)" font-size="7.9" fill="#111" stroke="#111" stroke-width="0.18">0.77 [0.53, 1.12]</text>
<text transform="translate(626.5,574.80) scale(0.95,1)" font-size="7.9" fill="#111" stroke="#111" stroke-width="0.18">0.78 [0.49, 1.22]</text>
<text transform="translate(626.5,598.00) scale(0.95,1)" font-size="7.9" fill="#111" stroke="#111" stroke-width="0.18">0.68 [0.48, 0.98]</text>
<text transform="translate(626.5,620.20) scale(0.95,1)" font-size="7.9" fill="#111" stroke="#111" stroke-width="0.18">0.92 [0.53, 1.61]</text>
<text transform="translate(626.5,665.40) scale(0.95,1)" font-size="7.9" fill="#111" stroke="#111" stroke-width="0.18">0.76 [0.62, 0.94]</text>
<text x="41.90" y="728.2" font-size="16.8" font-weight="bold" fill="#000">G. <tspan font-style="italic">A2M</tspan></text>
<text x="201.0" y="730.7" font-size="13.0" fill="#111">Adj. <tspan font-style="italic">P</tspan> value=6.18x10<tspan font-size="9.2" dy="-4.5">-2</tspan></text>
<rect x="40.4" y="749.4" width="230.49999999999997" height="167.70000000000005" fill="#fff"/>
<line x1="70.80" y1="749.4" x2="70.80" y2="917.1" stroke="#ebebeb" stroke-width="0.9"/>
<line x1="131.36" y1="749.4" x2="131.36" y2="917.1" stroke="#ebebeb" stroke-width="0.9"/>
<line x1="191.92" y1="749.4" x2="191.92" y2="917.1" stroke="#ebebeb" stroke-width="0.9"/>
<line x1="252.48" y1="749.4" x2="252.48" y2="917.1" stroke="#ebebeb" stroke-width="0.9"/>
<line x1="40.52" y1="749.4" x2="40.52" y2="917.1" stroke="#e3e3e3" stroke-width="0.9"/>
<line x1="101.08" y1="749.4" x2="101.08" y2="917.1" stroke="#e3e3e3" stroke-width="0.9"/>
<line x1="161.64" y1="749.4" x2="161.64" y2="917.1" stroke="#e3e3e3" stroke-width="0.9"/>
<line x1="222.20" y1="749.4" x2="222.20" y2="917.1" stroke="#e3e3e3" stroke-width="0.9"/>
<defs><linearGradient id="g31" gradientUnits="userSpaceOnUse" x1="142.32" y1="0" x2="260.75" y2="0"><stop offset="0.0000" stop-color="#c0cde8"/><stop offset="0.0250" stop-color="#b2c0de"/><stop offset="0.0500" stop-color="#a5b4d4"/><stop offset="0.0750" stop-color="#98a8cb"/><stop offset="0.1000" stop-color="#8d9ec3"/><stop offset="0.1250" stop-color="#8294bb"/><stop offset="0.1500" stop-color="#788ab4"/><stop offset="0.1750" stop-color="#6f82ad"/><stop offset="0.2000" stop-color="#667aa7"/><stop offset="0.2250" stop-color="#5f73a1"/><stop offset="0.2500" stop-color="#586c9c"/><stop offset="0.2750" stop-color="#516798"/><stop offset="0.3000" stop-color="#4c6194"/><stop offset="0.3250" stop-color="#475d90"/><stop offset="0.3500" stop-color="#43598d"/><stop offset="0.3750" stop-color="#40568b"/><stop offset="0.4000" stop-color="#3d5489"/><stop offset="0.4250" stop-color="#3b5288"/><stop offset="0.4500" stop-color="#3a5187"/><stop offset="0.4750" stop-color="#395086"/><stop offset="0.5000" stop-color="#395086"/><stop offset="0.5250" stop-color="#395086"/><stop offset="0.5500" stop-color="#3a5187"/><stop offset="0.5750" stop-color="#3b5288"/><stop offset="0.6000" stop-color="#3d5489"/><stop offset="0.6250" stop-color="#40568b"/><stop offset="0.6500" stop-color="#43598d"/><stop offset="0.6750" stop-color="#475d90"/><stop offset="0.7000" stop-color="#4c6194"/><stop offset="0.7250" stop-color="#516798"/><stop offset="0.7500" stop-color="#586c9c"/><stop offset="0.7750" stop-color="#5f73a1"/><stop offset="0.8000" stop-color="#667aa7"/><stop offset="0.8250" stop-color="#6f82ad"/><stop offset="0.8500" stop-color="#788ab4"/><stop offset="0.8750" stop-color="#8294bb"/><stop offset="0.9000" stop-color="#8d9ec3"/><stop offset="0.9250" stop-color="#98a8cb"/><stop offset="0.9500" stop-color="#a5b4d4"/><stop offset="0.9750" stop-color="#b2c0de"/><stop offset="1.0000" stop-color="#c0cde8"/></linearGradient></defs>
<path d="M142.32,782.90 L143.80,782.41 L145.28,781.94 L146.76,781.48 L148.24,781.05 L149.72,780.62 L151.20,780.22 L152.68,779.83 L154.16,779.46 L155.64,779.10 L157.12,778.76 L158.60,778.44 L160.08,778.13 L161.56,777.83 L163.04,777.55 L164.52,777.29 L166.00,777.04 L167.48,776.80 L168.96,776.58 L170.45,776.37 L171.93,776.17 L173.41,775.99 L174.89,775.82 L176.37,775.67 L177.85,775.52 L179.33,775.39 L180.81,775.27 L182.29,775.16 L183.77,775.06 L185.25,774.98 L186.73,774.90 L188.21,774.83 L189.69,774.78 L191.17,774.73 L192.65,774.69 L194.13,774.66 L195.61,774.63 L197.09,774.62 L198.57,774.61 L200.05,774.60 L201.53,774.60 L203.02,774.60 L204.50,774.61 L205.98,774.62 L207.46,774.63 L208.94,774.66 L210.42,774.69 L211.90,774.73 L213.38,774.78 L214.86,774.83 L216.34,774.90 L217.82,774.98 L219.30,775.06 L220.78,775.16 L222.26,775.27 L223.74,775.39 L225.22,775.52 L226.70,775.67 L228.18,775.82 L229.66,775.99 L231.14,776.17 L232.62,776.37 L234.10,776.58 L235.59,776.80 L237.07,777.04 L238.55,777.29 L240.03,777.55 L241.51,777.83 L242.99,778.13 L244.47,778.44 L245.95,778.76 L247.43,779.10 L248.91,779.46 L250.39,779.83 L251.87,780.22 L253.35,780.62 L254.83,781.05 L256.31,781.48 L257.79,781.94 L259.27,782.41 L260.75,782.90 L260.75,782.90 L259.27,783.39 L257.79,783.86 L256.31,784.32 L254.83,784.75 L253.35,785.18 L251.87,785.58 L250.39,785.97 L248.91,786.34 L247.43,786.70 L245.95,787.04 L244.47,787.36 L242.99,787.67 L241.51,787.97 L240.03,788.25 L238.55,788.51 L237.07,788.76 L235.59,789.00 L234.10,789.22 L232.62,789.43 L231.14,789.63 L229.66,789.81 L228.18,789.98 L226.70,790.13 L225.22,790.28 L223.74,790.41 L222.26,790.53 L220.78,790.64 L219.30,790.74 L217.82,790.82 L216.34,790.90 L214.86,790.97 L213.38,791.02 L211.90,791.07 L210.42,791.11 L208.94,791.14 L207.46,791.17 L205.98,791.18 L204.50,791.19 L203.02,791.20 L201.53,791.20 L200.05,791.20 L198.57,791.19 L197.09,791.18 L195.61,791.17 L194.13,791.14 L192.65,791.11 L191.17,791.07 L189.69,791.02 L188.21,790.97 L186.73,790.90 L185.25,790.82 L183.77,790.74 L182.29,790.64 L180.81,790.53 L179.33,790.41 L177.85,790.28 L176.37,790.13 L174.89,789.98 L173.41,789.81 L171.93,789.63 L170.45,789.43 L168.96,789.22 L167.48,789.00 L166.00,788.76 L164.52,788.51 L163.04,788.25 L161.56,787.97 L160.08,787.67 L158.60,787.36 L157.12,787.04 L155.64,786.70 L154.16,786.34 L152.68,785.97 L151.20,785.58 L149.72,785.18 L148.24,784.75 L146.76,784.32 L145.28,783.86 L143.80,783.39 L142.32,782.90Z" fill="url(#g31)"/>
<line x1="201.53" y1="779.07" x2="201.53" y2="786.73" stroke="#ffffff" stroke-opacity="0.55" stroke-width="0.9"/>
<defs><linearGradient id="g32" gradientUnits="userSpaceOnUse" x1="114.20" y1="0" x2="252.31" y2="0"><stop offset="0.0000" stop-color="#c0cde8"/><stop offset="0.0250" stop-color="#b6c3e1"/><stop offset="0.0500" stop-color="#acbad9"/><stop offset="0.0750" stop-color="#a3b2d3"/><stop offset="0.1000" stop-color="#9aaacd"/><stop offset="0.1250" stop-color="#93a3c7"/><stop offset="0.1500" stop-color="#8b9cc2"/><stop offset="0.1750" stop-color="#8496bd"/><stop offset="0.2000" stop-color="#7e90b8"/><stop offset="0.2250" stop-color="#788bb4"/><stop offset="0.2500" stop-color="#7386b0"/><stop offset="0.2750" stop-color="#6f82ad"/><stop offset="0.3000" stop-color="#6b7eaa"/><stop offset="0.3250" stop-color="#677ba8"/><stop offset="0.3500" stop-color="#6478a5"/><stop offset="0.3750" stop-color="#6276a4"/><stop offset="0.4000" stop-color="#6074a2"/><stop offset="0.4250" stop-color="#5e72a1"/><stop offset="0.4500" stop-color="#5d72a0"/><stop offset="0.4750" stop-color="#5d71a0"/><stop offset="0.5000" stop-color="#5d71a0"/><stop offset="0.5250" stop-color="#5d71a0"/><stop offset="0.5500" stop-color="#5d72a0"/><stop offset="0.5750" stop-color="#5e72a1"/><stop offset="0.6000" stop-color="#6074a2"/><stop offset="0.6250" stop-color="#6276a4"/><stop offset="0.6500" stop-color="#6478a5"/><stop offset="0.6750" stop-color="#677ba8"/><stop offset="0.7000" stop-color="#6b7eaa"/><stop offset="0.7250" stop-color="#6f82ad"/><stop offset="0.7500" stop-color="#7386b0"/><stop offset="0.7750" stop-color="#788bb4"/><stop offset="0.8000" stop-color="#7e90b8"/><stop offset="0.8250" stop-color="#8496bd"/><stop offset="0.8500" stop-color="#8b9cc2"/><stop offset="0.8750" stop-color="#93a3c7"/><stop offset="0.9000" stop-color="#9aaacd"/><stop offset="0.9250" stop-color="#a3b2d3"/><stop offset="0.9500" stop-color="#acbad9"/><stop offset="0.9750" stop-color="#b6c3e1"/><stop offset="1.0000" stop-color="#c0cde8"/></linearGradient></defs>
<path d="M114.20,805.60 L115.93,805.24 L117.65,804.89 L119.38,804.56 L121.10,804.24 L122.83,803.93 L124.56,803.63 L126.28,803.34 L128.01,803.07 L129.74,802.81 L131.46,802.56 L133.19,802.32 L134.91,802.09 L136.64,801.87 L138.37,801.67 L140.09,801.47 L141.82,801.29 L143.55,801.11 L145.27,800.95 L147.00,800.80 L148.73,800.65 L150.45,800.52 L152.18,800.39 L153.90,800.28 L155.63,800.17 L157.36,800.08 L159.08,799.99 L160.81,799.91 L162.54,799.84 L164.26,799.77 L165.99,799.72 L167.72,799.67 L169.44,799.63 L171.17,799.59 L172.89,799.56 L174.62,799.54 L176.35,799.52 L178.07,799.51 L179.80,799.50 L181.53,799.50 L183.25,799.50 L184.98,799.50 L186.71,799.50 L188.43,799.51 L190.16,799.52 L191.88,799.54 L193.61,799.56 L195.34,799.59 L197.06,799.63 L198.79,799.67 L200.52,799.72 L202.24,799.77 L203.97,799.84 L205.69,799.91 L207.42,799.99 L209.15,800.08 L210.87,800.17 L212.60,800.28 L214.33,800.39 L216.05,800.52 L217.78,800.65 L219.51,800.80 L221.23,800.95 L222.96,801.11 L224.68,801.29 L226.41,801.47 L228.14,801.67 L229.86,801.87 L231.59,802.09 L233.32,802.32 L235.04,802.56 L236.77,802.81 L238.50,803.07 L240.22,803.34 L241.95,803.63 L243.67,803.93 L245.40,804.24 L247.13,804.56 L248.85,804.89 L250.58,805.24 L252.31,805.60 L252.31,805.60 L250.58,805.96 L248.85,806.31 L247.13,806.64 L245.40,806.96 L243.67,807.27 L241.95,807.57 L240.22,807.86 L238.50,808.13 L236.77,808.39 L235.04,808.64 L233.32,808.88 L231.59,809.11 L229.86,809.33 L228.14,809.53 L226.41,809.73 L224.68,809.91 L222.96,810.09 L221.23,810.25 L219.51,810.40 L217.78,810.55 L216.05,810.68 L214.33,810.81 L212.60,810.92 L210.87,811.03 L209.15,811.12 L207.42,811.21 L205.69,811.29 L203.97,811.36 L202.24,811.43 L200.52,811.48 L198.79,811.53 L197.06,811.57 L195.34,811.61 L193.61,811.64 L191.88,811.66 L190.16,811.68 L188.43,811.69 L186.71,811.70 L184.98,811.70 L183.25,811.70 L181.53,811.70 L179.80,811.70 L178.07,811.69 L176.35,811.68 L174.62,811.66 L172.89,811.64 L171.17,811.61 L169.44,811.57 L167.72,811.53 L165.99,811.48 L164.26,811.43 L162.54,811.36 L160.81,811.29 L159.08,811.21 L157.36,811.12 L155.63,811.03 L153.90,810.92 L152.18,810.81 L150.45,810.68 L148.73,810.55 L147.00,810.40 L145.27,810.25 L143.55,810.09 L141.82,809.91 L140.09,809.73 L138.37,809.53 L136.64,809.33 L134.91,809.11 L133.19,808.88 L131.46,808.64 L129.74,808.39 L128.01,808.13 L126.28,807.86 L124.56,807.57 L122.83,807.27 L121.10,806.96 L119.38,806.64 L117.65,806.31 L115.93,805.96 L114.20,805.60Z" fill="url(#g32)"/>
<line x1="183.25" y1="801.77" x2="183.25" y2="809.43" stroke="#ffffff" stroke-opacity="0.55" stroke-width="0.9"/>
<defs><linearGradient id="g33" gradientUnits="userSpaceOnUse" x1="142.32" y1="0" x2="249.80" y2="0"><stop offset="0.0000" stop-color="#c0cde8"/><stop offset="0.0250" stop-color="#afbddc"/><stop offset="0.0500" stop-color="#9faed0"/><stop offset="0.0750" stop-color="#90a1c5"/><stop offset="0.1000" stop-color="#8294bb"/><stop offset="0.1250" stop-color="#7587b2"/><stop offset="0.1500" stop-color="#697ca9"/><stop offset="0.1750" stop-color="#5e72a1"/><stop offset="0.2000" stop-color="#536899"/><stop offset="0.2250" stop-color="#4a6092"/><stop offset="0.2500" stop-color="#41588c"/><stop offset="0.2750" stop-color="#3a5187"/><stop offset="0.3000" stop-color="#334a82"/><stop offset="0.3250" stop-color="#2d457e"/><stop offset="0.3500" stop-color="#28407a"/><stop offset="0.3750" stop-color="#243d77"/><stop offset="0.4000" stop-color="#213a75"/><stop offset="0.4250" stop-color="#1f3773"/><stop offset="0.4500" stop-color="#1d3672"/><stop offset="0.4750" stop-color="#1c3571"/><stop offset="0.5000" stop-color="#1c3571"/><stop offset="0.5250" stop-color="#1c3571"/><stop offset="0.5500" stop-color="#1d3672"/><stop offset="0.5750" stop-color="#1f3773"/><stop offset="0.6000" stop-color="#213a75"/><stop offset="0.6250" stop-color="#243d77"/><stop offset="0.6500" stop-color="#28407a"/><stop offset="0.6750" stop-color="#2d457e"/><stop offset="0.7000" stop-color="#334a82"/><stop offset="0.7250" stop-color="#3a5187"/><stop offset="0.7500" stop-color="#41588c"/><stop offset="0.7750" stop-color="#4a6092"/><stop offset="0.8000" stop-color="#536899"/><stop offset="0.8250" stop-color="#5e72a1"/><stop offset="0.8500" stop-color="#697ca9"/><stop offset="0.8750" stop-color="#7587b2"/><stop offset="0.9000" stop-color="#8294bb"/><stop offset="0.9250" stop-color="#90a1c5"/><stop offset="0.9500" stop-color="#9faed0"/><stop offset="0.9750" stop-color="#afbddc"/><stop offset="1.0000" stop-color="#c0cde8"/></linearGradient></defs>
<path d="M142.32,828.20 L143.66,827.61 L145.00,827.03 L146.35,826.48 L147.69,825.95 L149.03,825.44 L150.38,824.95 L151.72,824.47 L153.07,824.02 L154.41,823.59 L155.75,823.18 L157.10,822.78 L158.44,822.41 L159.78,822.05 L161.13,821.71 L162.47,821.39 L163.81,821.08 L165.16,820.79 L166.50,820.52 L167.84,820.27 L169.19,820.03 L170.53,819.81 L171.88,819.61 L173.22,819.42 L174.56,819.24 L175.91,819.08 L177.25,818.94 L178.59,818.80 L179.94,818.68 L181.28,818.58 L182.62,818.49 L183.97,818.41 L185.31,818.34 L186.65,818.28 L188.00,818.23 L189.34,818.19 L190.69,818.16 L192.03,818.14 L193.37,818.13 L194.72,818.13 L196.06,818.12 L197.40,818.13 L198.75,818.13 L200.09,818.14 L201.43,818.16 L202.78,818.19 L204.12,818.23 L205.47,818.28 L206.81,818.34 L208.15,818.41 L209.50,818.49 L210.84,818.58 L212.18,818.68 L213.53,818.80 L214.87,818.94 L216.21,819.08 L217.56,819.24 L218.90,819.42 L220.24,819.61 L221.59,819.81 L222.93,820.03 L224.28,820.27 L225.62,820.52 L226.96,820.79 L228.31,821.08 L229.65,821.39 L230.99,821.71 L232.34,822.05 L233.68,822.41 L235.02,822.78 L236.37,823.18 L237.71,823.59 L239.05,824.02 L240.40,824.47 L241.74,824.95 L243.09,825.44 L244.43,825.95 L245.77,826.48 L247.12,827.03 L248.46,827.61 L249.80,828.20 L249.80,828.20 L248.46,828.79 L247.12,829.37 L245.77,829.92 L244.43,830.45 L243.09,830.96 L241.74,831.45 L240.40,831.93 L239.05,832.38 L237.71,832.81 L236.37,833.22 L235.02,833.62 L233.68,833.99 L232.34,834.35 L230.99,834.69 L229.65,835.01 L228.31,835.32 L226.96,835.61 L225.62,835.88 L224.28,836.13 L222.93,836.37 L221.59,836.59 L220.24,836.79 L218.90,836.98 L217.56,837.16 L216.21,837.32 L214.87,837.46 L213.53,837.60 L212.18,837.72 L210.84,837.82 L209.50,837.91 L208.15,837.99 L206.81,838.06 L205.47,838.12 L204.12,838.17 L202.78,838.21 L201.43,838.24 L200.09,838.26 L198.75,838.27 L197.40,838.27 L196.06,838.28 L194.72,838.27 L193.37,838.27 L192.03,838.26 L190.69,838.24 L189.34,838.21 L188.00,838.17 L186.65,838.12 L185.31,838.06 L183.97,837.99 L182.62,837.91 L181.28,837.82 L179.94,837.72 L178.59,837.60 L177.25,837.46 L175.91,837.32 L174.56,837.16 L173.22,836.98 L171.88,836.79 L170.53,836.59 L169.19,836.37 L167.84,836.13 L166.50,835.88 L165.16,835.61 L163.81,835.32 L162.47,835.01 L161.13,834.69 L159.78,834.35 L158.44,833.99 L157.10,833.62 L155.75,833.22 L154.41,832.81 L153.07,832.38 L151.72,831.93 L150.38,831.45 L149.03,830.96 L147.69,830.45 L146.35,829.92 L145.00,829.37 L143.66,828.79 L142.32,828.20Z" fill="url(#g33)"/>
<line x1="196.06" y1="824.37" x2="196.06" y2="832.03" stroke="#ffffff" stroke-opacity="0.55" stroke-width="0.9"/>
<defs><linearGradient id="g34" gradientUnits="userSpaceOnUse" x1="49.69" y1="0" x2="217.59" y2="0"><stop offset="0.0000" stop-color="#c0cde8"/><stop offset="0.0250" stop-color="#b9c7e3"/><stop offset="0.0500" stop-color="#b2c0de"/><stop offset="0.0750" stop-color="#acbbda"/><stop offset="0.1000" stop-color="#a7b5d6"/><stop offset="0.1250" stop-color="#a1b0d2"/><stop offset="0.1500" stop-color="#9cacce"/><stop offset="0.1750" stop-color="#98a8cb"/><stop offset="0.2000" stop-color="#93a4c8"/><stop offset="0.2250" stop-color="#90a0c5"/><stop offset="0.2500" stop-color="#8c9dc2"/><stop offset="0.2750" stop-color="#899ac0"/><stop offset="0.3000" stop-color="#8697be"/><stop offset="0.3250" stop-color="#8495bc"/><stop offset="0.3500" stop-color="#8293bb"/><stop offset="0.3750" stop-color="#8092ba"/><stop offset="0.4000" stop-color="#7f91b9"/><stop offset="0.4250" stop-color="#7e90b8"/><stop offset="0.4500" stop-color="#7d8fb8"/><stop offset="0.4750" stop-color="#7d8fb7"/><stop offset="0.5000" stop-color="#7d8fb7"/><stop offset="0.5250" stop-color="#7d8fb7"/><stop offset="0.5500" stop-color="#7d8fb8"/><stop offset="0.5750" stop-color="#7e90b8"/><stop offset="0.6000" stop-color="#7f91b9"/><stop offset="0.6250" stop-color="#8092ba"/><stop offset="0.6500" stop-color="#8293bb"/><stop offset="0.6750" stop-color="#8495bc"/><stop offset="0.7000" stop-color="#8697be"/><stop offset="0.7250" stop-color="#899ac0"/><stop offset="0.7500" stop-color="#8c9dc2"/><stop offset="0.7750" stop-color="#90a0c5"/><stop offset="0.8000" stop-color="#93a4c8"/><stop offset="0.8250" stop-color="#98a8cb"/><stop offset="0.8500" stop-color="#9cacce"/><stop offset="0.8750" stop-color="#a1b0d2"/><stop offset="0.9000" stop-color="#a7b5d6"/><stop offset="0.9250" stop-color="#acbbda"/><stop offset="0.9500" stop-color="#b2c0de"/><stop offset="0.9750" stop-color="#b9c7e3"/><stop offset="1.0000" stop-color="#c0cde8"/></linearGradient></defs>
<path d="M49.69,850.70 L51.79,850.46 L53.89,850.22 L55.99,850.00 L58.08,849.78 L60.18,849.57 L62.28,849.37 L64.38,849.17 L66.48,848.99 L68.58,848.81 L70.68,848.64 L72.78,848.48 L74.87,848.33 L76.97,848.18 L79.07,848.04 L81.17,847.91 L83.27,847.78 L85.37,847.66 L87.47,847.55 L89.57,847.45 L91.66,847.35 L93.76,847.26 L95.86,847.18 L97.96,847.10 L100.06,847.03 L102.16,846.96 L104.26,846.90 L106.36,846.85 L108.45,846.80 L110.55,846.76 L112.65,846.72 L114.75,846.69 L116.85,846.66 L118.95,846.63 L121.05,846.61 L123.15,846.60 L125.24,846.59 L127.34,846.58 L129.44,846.57 L131.54,846.57 L133.64,846.57 L135.74,846.57 L137.84,846.57 L139.94,846.58 L142.03,846.59 L144.13,846.60 L146.23,846.61 L148.33,846.63 L150.43,846.66 L152.53,846.69 L154.63,846.72 L156.73,846.76 L158.82,846.80 L160.92,846.85 L163.02,846.90 L165.12,846.96 L167.22,847.03 L169.32,847.10 L171.42,847.18 L173.52,847.26 L175.61,847.35 L177.71,847.45 L179.81,847.55 L181.91,847.66 L184.01,847.78 L186.11,847.91 L188.21,848.04 L190.30,848.18 L192.40,848.33 L194.50,848.48 L196.60,848.64 L198.70,848.81 L200.80,848.99 L202.90,849.17 L205.00,849.37 L207.09,849.57 L209.19,849.78 L211.29,850.00 L213.39,850.22 L215.49,850.46 L217.59,850.70 L217.59,850.70 L215.49,850.94 L213.39,851.18 L211.29,851.40 L209.19,851.62 L207.09,851.83 L205.00,852.03 L202.90,852.23 L200.80,852.41 L198.70,852.59 L196.60,852.76 L194.50,852.92 L192.40,853.07 L190.30,853.22 L188.21,853.36 L186.11,853.49 L184.01,853.62 L181.91,853.74 L179.81,853.85 L177.71,853.95 L175.61,854.05 L173.52,854.14 L171.42,854.22 L169.32,854.30 L167.22,854.37 L165.12,854.44 L163.02,854.50 L160.92,854.55 L158.82,854.60 L156.73,854.64 L154.63,854.68 L152.53,854.71 L150.43,854.74 L148.33,854.77 L146.23,854.79 L144.13,854.80 L142.03,854.81 L139.94,854.82 L137.84,854.83 L135.74,854.83 L133.64,854.83 L131.54,854.83 L129.44,854.83 L127.34,854.82 L125.24,854.81 L123.15,854.80 L121.05,854.79 L118.95,854.77 L116.85,854.74 L114.75,854.71 L112.65,854.68 L110.55,854.64 L108.45,854.60 L106.36,854.55 L104.26,854.50 L102.16,854.44 L100.06,854.37 L97.96,854.30 L95.86,854.22 L93.76,854.14 L91.66,854.05 L89.57,853.95 L87.47,853.85 L85.37,853.74 L83.27,853.62 L81.17,853.49 L79.07,853.36 L76.97,853.22 L74.87,853.07 L72.78,852.92 L70.68,852.76 L68.58,852.59 L66.48,852.41 L64.38,852.23 L62.28,852.03 L60.18,851.83 L58.08,851.62 L55.99,851.40 L53.89,851.18 L51.79,850.94 L49.69,850.70Z" fill="url(#g34)"/>
<line x1="133.64" y1="846.87" x2="133.64" y2="854.53" stroke="#ffffff" stroke-opacity="0.55" stroke-width="0.9"/>
<path d="M154.63,895.6 L186.11,888.70 L217.59,895.6 L186.11,902.50Z" fill="#1c3571"/>
<line x1="222.2" y1="749.4" x2="222.2" y2="917.1" stroke="#5a5a5a" stroke-width="0.7" stroke-dasharray="1.3 1.5"/>
<line x1="40.4" y1="749.4" x2="40.4" y2="917.1" stroke="#dadada" stroke-width="1"/>
<line x1="270.9" y1="749.4" x2="270.9" y2="917.1" stroke="#dadada" stroke-width="1"/>
<line x1="39.9" y1="749.4" x2="271.4" y2="749.4" stroke="#a8a8a8" stroke-width="0.9"/>
<line x1="39.9" y1="917.1" x2="271.4" y2="917.1" stroke="#a8a8a8" stroke-width="0.9"/>
<text transform="translate(38.40,785.40) scale(0.9,1)" font-size="6.6" fill="#4d4d4d" stroke="#4d4d4d" stroke-width="0.18" text-anchor="end">PanGenEU</text>
<line x1="39.1" y1="782.9" x2="40.4" y2="782.9" stroke="#555" stroke-width="0.7"/>
<text transform="translate(38.40,808.10) scale(0.9,1)" font-size="6.6" fill="#4d4d4d" stroke="#4d4d4d" stroke-width="0.18" text-anchor="end">TCGA</text>
<line x1="39.1" y1="805.6" x2="40.4" y2="805.6" stroke="#555" stroke-width="0.7"/>
<text transform="translate(38.40,830.70) scale(0.9,1)" font-size="6.6" fill="#4d4d4d" stroke="#4d4d4d" stroke-width="0.18" text-anchor="end">ICGC-CA</text>
<line x1="39.1" y1="828.2" x2="40.4" y2="828.2" stroke="#555" stroke-width="0.7"/>
<text transform="translate(38.40,853.20) scale(0.9,1)" font-size="6.6" fill="#4d4d4d" stroke="#4d4d4d" stroke-width="0.18" text-anchor="end">ICGC-AU</text>
<line x1="39.1" y1="850.7" x2="40.4" y2="850.7" stroke="#555" stroke-width="0.7"/>
<text transform="translate(38.40,898.10) scale(0.9,1)" font-size="6.6" fill="#4d4d4d" stroke="#4d4d4d" stroke-width="0.18" text-anchor="end">Meta-analysis</text>
<line x1="39.1" y1="895.6" x2="40.4" y2="895.6" stroke="#555" stroke-width="0.7"/>
<defs><clipPath id="c35"><rect x="0" y="917.1" width="271.2" height="20"/></clipPath></defs><g clip-path="url(#c35)">
<line x1="40.52" y1="917.1" x2="40.52" y2="918.6" stroke="#333" stroke-width="0.6"/>
<text transform="translate(40.52,923.3) scale(0.95,1)" font-size="6.4" fill="#4d4d4d" stroke="#4d4d4d" stroke-width="0.18" text-anchor="middle">0.301</text>
<line x1="101.08" y1="917.1" x2="101.08" y2="918.6" stroke="#333" stroke-width="0.6"/>
<text transform="translate(101.08,923.3) scale(0.95,1)" font-size="6.4" fill="#4d4d4d" stroke="#4d4d4d" stroke-width="0.18" text-anchor="middle">0.449</text>
<line x1="161.64" y1="917.1" x2="161.64" y2="918.6" stroke="#333" stroke-width="0.6"/>
<text transform="translate(161.64,923.3) scale(0.95,1)" font-size="6.4" fill="#4d4d4d" stroke="#4d4d4d" stroke-width="0.18" text-anchor="middle">0.67</text>
<line x1="222.20" y1="917.1" x2="222.20" y2="918.6" stroke="#333" stroke-width="0.6"/>
<text transform="translate(222.20,923.3) scale(0.95,1)" font-size="6.4" fill="#4d4d4d" stroke="#4d4d4d" stroke-width="0.18" text-anchor="middle">1</text>
</g>
<text x="155.65" y="931.1" font-size="7.4" fill="#222" text-anchor="middle">HR</text>
<text x="279.8" y="763.36" font-size="7.6" fill="#111" stroke="#111" stroke-width="0.18">HR [95% CI]</text>
<line x1="279.8" y1="771.6" x2="336.5" y2="771.6" stroke="#333" stroke-width="0.8"/>
<text transform="translate(279.8,785.90) scale(0.95,1)" font-size="7.9" fill="#111" stroke="#111" stroke-width="0.18">0.87 [0.59, 1.29]</text>
<text transform="translate(279.8,808.60) scale(0.95,1)" font-size="7.9" fill="#111" stroke="#111" stroke-width="0.18">0.77 [0.49, 1.22]</text>
<text transform="translate(279.8,831.20) scale(0.95,1)" font-size="7.9" fill="#111" stroke="#111" stroke-width="0.18">0.84 [0.59, 1.20]</text>
<text transform="translate(279.8,853.70) scale(0.95,1)" font-size="7.9" fill="#111" stroke="#111" stroke-width="0.18">0.56 [0.32, 0.97]</text>
<text transform="translate(279.8,898.60) scale(0.95,1)" font-size="7.9" fill="#111" stroke="#111" stroke-width="0.18">0.79 [0.64, 0.97]</text>
<text x="353.50" y="728.2" font-size="16.8" font-weight="bold" fill="#000">H. <tspan font-style="italic">C4A</tspan></text>
<text x="523.5" y="726.8" font-size="13.0" fill="#111">Adj. <tspan font-style="italic">P</tspan> value=6.19x10<tspan font-size="9.2" dy="-4.5">-2</tspan></text>
<rect x="387.7" y="748.8" width="229.50000000000006" height="168.20000000000005" fill="#fff"/>
<line x1="406.05" y1="748.8" x2="406.05" y2="917.0" stroke="#ebebeb" stroke-width="0.9"/>
<line x1="444.75" y1="748.8" x2="444.75" y2="917.0" stroke="#ebebeb" stroke-width="0.9"/>
<line x1="483.45" y1="748.8" x2="483.45" y2="917.0" stroke="#ebebeb" stroke-width="0.9"/>
<line x1="522.15" y1="748.8" x2="522.15" y2="917.0" stroke="#ebebeb" stroke-width="0.9"/>
<line x1="560.85" y1="748.8" x2="560.85" y2="917.0" stroke="#ebebeb" stroke-width="0.9"/>
<line x1="599.55" y1="748.8" x2="599.55" y2="917.0" stroke="#ebebeb" stroke-width="0.9"/>
<line x1="425.40" y1="748.8" x2="425.40" y2="917.0" stroke="#e3e3e3" stroke-width="0.9"/>
<line x1="464.10" y1="748.8" x2="464.10" y2="917.0" stroke="#e3e3e3" stroke-width="0.9"/>
<line x1="502.80" y1="748.8" x2="502.80" y2="917.0" stroke="#e3e3e3" stroke-width="0.9"/>
<line x1="541.50" y1="748.8" x2="541.50" y2="917.0" stroke="#e3e3e3" stroke-width="0.9"/>
<line x1="580.20" y1="748.8" x2="580.20" y2="917.0" stroke="#e3e3e3" stroke-width="0.9"/>
<defs><linearGradient id="g36" gradientUnits="userSpaceOnUse" x1="403.47" y1="0" x2="581.56" y2="0"><stop offset="0.0000" stop-color="#c0cde8"/><stop offset="0.0250" stop-color="#b6c4e1"/><stop offset="0.0500" stop-color="#acbbda"/><stop offset="0.0750" stop-color="#a3b2d3"/><stop offset="0.1000" stop-color="#9babcd"/><stop offset="0.1250" stop-color="#93a3c7"/><stop offset="0.1500" stop-color="#8c9dc2"/><stop offset="0.1750" stop-color="#8596bd"/><stop offset="0.2000" stop-color="#7f91b9"/><stop offset="0.2250" stop-color="#798bb5"/><stop offset="0.2500" stop-color="#7487b1"/><stop offset="0.2750" stop-color="#6f82ae"/><stop offset="0.3000" stop-color="#6b7fab"/><stop offset="0.3250" stop-color="#687ba8"/><stop offset="0.3500" stop-color="#6579a6"/><stop offset="0.3750" stop-color="#6376a4"/><stop offset="0.4000" stop-color="#6175a3"/><stop offset="0.4250" stop-color="#5f73a2"/><stop offset="0.4500" stop-color="#5e72a1"/><stop offset="0.4750" stop-color="#5e72a1"/><stop offset="0.5000" stop-color="#5e72a1"/><stop offset="0.5250" stop-color="#5e72a1"/><stop offset="0.5500" stop-color="#5e72a1"/><stop offset="0.5750" stop-color="#5f73a2"/><stop offset="0.6000" stop-color="#6175a3"/><stop offset="0.6250" stop-color="#6376a4"/><stop offset="0.6500" stop-color="#6579a6"/><stop offset="0.6750" stop-color="#687ba8"/><stop offset="0.7000" stop-color="#6b7fab"/><stop offset="0.7250" stop-color="#6f82ae"/><stop offset="0.7500" stop-color="#7487b1"/><stop offset="0.7750" stop-color="#798bb5"/><stop offset="0.8000" stop-color="#7f91b9"/><stop offset="0.8250" stop-color="#8596bd"/><stop offset="0.8500" stop-color="#8c9dc2"/><stop offset="0.8750" stop-color="#93a3c7"/><stop offset="0.9000" stop-color="#9babcd"/><stop offset="0.9250" stop-color="#a3b2d3"/><stop offset="0.9500" stop-color="#acbbda"/><stop offset="0.9750" stop-color="#b6c4e1"/><stop offset="1.0000" stop-color="#c0cde8"/></linearGradient></defs>
<path d="M403.47,787.40 L405.69,786.99 L407.92,786.59 L410.15,786.21 L412.37,785.84 L414.60,785.49 L416.82,785.15 L419.05,784.82 L421.28,784.51 L423.50,784.21 L425.73,783.92 L427.95,783.65 L430.18,783.39 L432.41,783.14 L434.63,782.91 L436.86,782.68 L439.08,782.47 L441.31,782.27 L443.54,782.09 L445.76,781.91 L447.99,781.75 L450.22,781.59 L452.44,781.45 L454.67,781.32 L456.89,781.20 L459.12,781.09 L461.35,780.99 L463.57,780.90 L465.80,780.81 L468.02,780.74 L470.25,780.68 L472.48,780.62 L474.70,780.57 L476.93,780.53 L479.16,780.50 L481.38,780.47 L483.61,780.45 L485.83,780.44 L488.06,780.43 L490.29,780.43 L492.51,780.43 L494.74,780.43 L496.96,780.43 L499.19,780.44 L501.42,780.45 L503.64,780.47 L505.87,780.50 L508.09,780.53 L510.32,780.57 L512.55,780.62 L514.77,780.68 L517.00,780.74 L519.23,780.81 L521.45,780.90 L523.68,780.99 L525.90,781.09 L528.13,781.20 L530.36,781.32 L532.58,781.45 L534.81,781.59 L537.03,781.75 L539.26,781.91 L541.49,782.09 L543.71,782.27 L545.94,782.47 L548.17,782.68 L550.39,782.91 L552.62,783.14 L554.84,783.39 L557.07,783.65 L559.30,783.92 L561.52,784.21 L563.75,784.51 L565.97,784.82 L568.20,785.15 L570.43,785.49 L572.65,785.84 L574.88,786.21 L577.10,786.59 L579.33,786.99 L581.56,787.40 L581.56,787.40 L579.33,787.81 L577.10,788.21 L574.88,788.59 L572.65,788.96 L570.43,789.31 L568.20,789.65 L565.97,789.98 L563.75,790.29 L561.52,790.59 L559.30,790.88 L557.07,791.15 L554.84,791.41 L552.62,791.66 L550.39,791.89 L548.17,792.12 L545.94,792.33 L543.71,792.53 L541.49,792.71 L539.26,792.89 L537.03,793.05 L534.81,793.21 L532.58,793.35 L530.36,793.48 L528.13,793.60 L525.90,793.71 L523.68,793.81 L521.45,793.90 L519.23,793.99 L517.00,794.06 L514.77,794.12 L512.55,794.18 L510.32,794.23 L508.09,794.27 L505.87,794.30 L503.64,794.33 L501.42,794.35 L499.19,794.36 L496.96,794.37 L494.74,794.37 L492.51,794.37 L490.29,794.37 L488.06,794.37 L485.83,794.36 L483.61,794.35 L481.38,794.33 L479.16,794.30 L476.93,794.27 L474.70,794.23 L472.48,794.18 L470.25,794.12 L468.02,794.06 L465.80,793.99 L463.57,793.90 L461.35,793.81 L459.12,793.71 L456.89,793.60 L454.67,793.48 L452.44,793.35 L450.22,793.21 L447.99,793.05 L445.76,792.89 L443.54,792.71 L441.31,792.53 L439.08,792.33 L436.86,792.12 L434.63,791.89 L432.41,791.66 L430.18,791.41 L427.95,791.15 L425.73,790.88 L423.50,790.59 L421.28,790.29 L419.05,789.98 L416.82,789.65 L414.60,789.31 L412.37,788.96 L410.15,788.59 L407.92,788.21 L405.69,787.81 L403.47,787.40Z" fill="url(#g36)"/>
<line x1="492.51" y1="782.98" x2="492.51" y2="791.82" stroke="#ffffff" stroke-opacity="0.55" stroke-width="0.9"/>
<defs><linearGradient id="g37" gradientUnits="userSpaceOnUse" x1="407.38" y1="0" x2="545.33" y2="0"><stop offset="0.0000" stop-color="#c0cde8"/><stop offset="0.0250" stop-color="#afbddc"/><stop offset="0.0500" stop-color="#9faed0"/><stop offset="0.0750" stop-color="#90a1c5"/><stop offset="0.1000" stop-color="#8294bb"/><stop offset="0.1250" stop-color="#7587b2"/><stop offset="0.1500" stop-color="#697ca9"/><stop offset="0.1750" stop-color="#5e72a1"/><stop offset="0.2000" stop-color="#536899"/><stop offset="0.2250" stop-color="#4a6092"/><stop offset="0.2500" stop-color="#41588c"/><stop offset="0.2750" stop-color="#3a5187"/><stop offset="0.3000" stop-color="#334a82"/><stop offset="0.3250" stop-color="#2d457e"/><stop offset="0.3500" stop-color="#28407a"/><stop offset="0.3750" stop-color="#243d77"/><stop offset="0.4000" stop-color="#213a75"/><stop offset="0.4250" stop-color="#1f3773"/><stop offset="0.4500" stop-color="#1d3672"/><stop offset="0.4750" stop-color="#1c3571"/><stop offset="0.5000" stop-color="#1c3571"/><stop offset="0.5250" stop-color="#1c3571"/><stop offset="0.5500" stop-color="#1d3672"/><stop offset="0.5750" stop-color="#1f3773"/><stop offset="0.6000" stop-color="#213a75"/><stop offset="0.6250" stop-color="#243d77"/><stop offset="0.6500" stop-color="#28407a"/><stop offset="0.6750" stop-color="#2d457e"/><stop offset="0.7000" stop-color="#334a82"/><stop offset="0.7250" stop-color="#3a5187"/><stop offset="0.7500" stop-color="#41588c"/><stop offset="0.7750" stop-color="#4a6092"/><stop offset="0.8000" stop-color="#536899"/><stop offset="0.8250" stop-color="#5e72a1"/><stop offset="0.8500" stop-color="#697ca9"/><stop offset="0.8750" stop-color="#7587b2"/><stop offset="0.9000" stop-color="#8294bb"/><stop offset="0.9250" stop-color="#90a1c5"/><stop offset="0.9500" stop-color="#9faed0"/><stop offset="0.9750" stop-color="#afbddc"/><stop offset="1.0000" stop-color="#c0cde8"/></linearGradient></defs>
<path d="M407.38,813.50 L409.10,812.81 L410.82,812.15 L412.55,811.52 L414.27,810.90 L416.00,810.31 L417.72,809.75 L419.45,809.20 L421.17,808.68 L422.90,808.18 L424.62,807.70 L426.34,807.25 L428.07,806.82 L429.79,806.40 L431.52,806.01 L433.24,805.64 L434.97,805.29 L436.69,804.96 L438.42,804.65 L440.14,804.35 L441.86,804.08 L443.59,803.82 L445.31,803.59 L447.04,803.37 L448.76,803.17 L450.49,802.98 L452.21,802.81 L453.94,802.66 L455.66,802.52 L457.38,802.40 L459.11,802.30 L460.83,802.20 L462.56,802.12 L464.28,802.06 L466.01,802.00 L467.73,801.96 L469.46,801.92 L471.18,801.90 L472.91,801.89 L474.63,801.88 L476.35,801.88 L478.08,801.88 L479.80,801.89 L481.53,801.90 L483.25,801.92 L484.98,801.96 L486.70,802.00 L488.43,802.06 L490.15,802.12 L491.87,802.20 L493.60,802.30 L495.32,802.40 L497.05,802.52 L498.77,802.66 L500.50,802.81 L502.22,802.98 L503.95,803.17 L505.67,803.37 L507.39,803.59 L509.12,803.82 L510.84,804.08 L512.57,804.35 L514.29,804.65 L516.02,804.96 L517.74,805.29 L519.47,805.64 L521.19,806.01 L522.91,806.40 L524.64,806.82 L526.36,807.25 L528.09,807.70 L529.81,808.18 L531.54,808.68 L533.26,809.20 L534.99,809.75 L536.71,810.31 L538.43,810.90 L540.16,811.52 L541.88,812.15 L543.61,812.81 L545.33,813.50 L545.33,813.50 L543.61,814.19 L541.88,814.85 L540.16,815.48 L538.43,816.10 L536.71,816.69 L534.99,817.25 L533.26,817.80 L531.54,818.32 L529.81,818.82 L528.09,819.30 L526.36,819.75 L524.64,820.18 L522.91,820.60 L521.19,820.99 L519.47,821.36 L517.74,821.71 L516.02,822.04 L514.29,822.35 L512.57,822.65 L510.84,822.92 L509.12,823.18 L507.39,823.41 L505.67,823.63 L503.95,823.83 L502.22,824.02 L500.50,824.19 L498.77,824.34 L497.05,824.48 L495.32,824.60 L493.60,824.70 L491.87,824.80 L490.15,824.88 L488.43,824.94 L486.70,825.00 L484.98,825.04 L483.25,825.08 L481.53,825.10 L479.80,825.11 L478.08,825.12 L476.35,825.12 L474.63,825.12 L472.91,825.11 L471.18,825.10 L469.46,825.08 L467.73,825.04 L466.01,825.00 L464.28,824.94 L462.56,824.88 L460.83,824.80 L459.11,824.70 L457.38,824.60 L455.66,824.48 L453.94,824.34 L452.21,824.19 L450.49,824.02 L448.76,823.83 L447.04,823.63 L445.31,823.41 L443.59,823.18 L441.86,822.92 L440.14,822.65 L438.42,822.35 L436.69,822.04 L434.97,821.71 L433.24,821.36 L431.52,820.99 L429.79,820.60 L428.07,820.18 L426.34,819.75 L424.62,819.30 L422.90,818.82 L421.17,818.32 L419.45,817.80 L417.72,817.25 L416.00,816.69 L414.27,816.10 L412.55,815.48 L410.82,814.85 L409.10,814.19 L407.38,813.50Z" fill="url(#g37)"/>
<line x1="476.35" y1="809.08" x2="476.35" y2="817.92" stroke="#ffffff" stroke-opacity="0.55" stroke-width="0.9"/>
<defs><linearGradient id="g38" gradientUnits="userSpaceOnUse" x1="399.48" y1="0" x2="606.61" y2="0"><stop offset="0.0000" stop-color="#c0cde8"/><stop offset="0.0250" stop-color="#b8c6e3"/><stop offset="0.0500" stop-color="#b1bfdd"/><stop offset="0.0750" stop-color="#abb9d9"/><stop offset="0.1000" stop-color="#a4b4d4"/><stop offset="0.1250" stop-color="#9faed0"/><stop offset="0.1500" stop-color="#99a9cc"/><stop offset="0.1750" stop-color="#94a5c8"/><stop offset="0.2000" stop-color="#90a0c5"/><stop offset="0.2250" stop-color="#8c9cc2"/><stop offset="0.2500" stop-color="#8899bf"/><stop offset="0.2750" stop-color="#8496bd"/><stop offset="0.3000" stop-color="#8193bb"/><stop offset="0.3250" stop-color="#7f91b9"/><stop offset="0.3500" stop-color="#7d8fb7"/><stop offset="0.3750" stop-color="#7b8db6"/><stop offset="0.4000" stop-color="#798cb5"/><stop offset="0.4250" stop-color="#788bb4"/><stop offset="0.4500" stop-color="#788ab4"/><stop offset="0.4750" stop-color="#778ab3"/><stop offset="0.5000" stop-color="#778ab3"/><stop offset="0.5250" stop-color="#778ab3"/><stop offset="0.5500" stop-color="#788ab4"/><stop offset="0.5750" stop-color="#788bb4"/><stop offset="0.6000" stop-color="#798cb5"/><stop offset="0.6250" stop-color="#7b8db6"/><stop offset="0.6500" stop-color="#7d8fb7"/><stop offset="0.6750" stop-color="#7f91b9"/><stop offset="0.7000" stop-color="#8193bb"/><stop offset="0.7250" stop-color="#8496bd"/><stop offset="0.7500" stop-color="#8899bf"/><stop offset="0.7750" stop-color="#8c9cc2"/><stop offset="0.8000" stop-color="#90a0c5"/><stop offset="0.8250" stop-color="#94a5c8"/><stop offset="0.8500" stop-color="#99a9cc"/><stop offset="0.8750" stop-color="#9faed0"/><stop offset="0.9000" stop-color="#a4b4d4"/><stop offset="0.9250" stop-color="#abb9d9"/><stop offset="0.9500" stop-color="#b1bfdd"/><stop offset="0.9750" stop-color="#b8c6e3"/><stop offset="1.0000" stop-color="#c0cde8"/></linearGradient></defs>
<path d="M399.48,839.40 L402.07,839.10 L404.66,838.80 L407.24,838.52 L409.83,838.25 L412.42,837.99 L415.01,837.73 L417.60,837.49 L420.19,837.26 L422.78,837.04 L425.37,836.83 L427.96,836.63 L430.55,836.43 L433.14,836.25 L435.72,836.08 L438.31,835.91 L440.90,835.76 L443.49,835.61 L446.08,835.47 L448.67,835.34 L451.26,835.22 L453.85,835.11 L456.44,835.00 L459.03,834.91 L461.62,834.82 L464.21,834.73 L466.79,834.66 L469.38,834.59 L471.97,834.53 L474.56,834.48 L477.15,834.43 L479.74,834.39 L482.33,834.35 L484.92,834.32 L487.51,834.30 L490.10,834.28 L492.69,834.26 L495.27,834.25 L497.86,834.25 L500.45,834.25 L503.04,834.24 L505.63,834.25 L508.22,834.25 L510.81,834.25 L513.40,834.26 L515.99,834.28 L518.58,834.30 L521.17,834.32 L523.76,834.35 L526.34,834.39 L528.93,834.43 L531.52,834.48 L534.11,834.53 L536.70,834.59 L539.29,834.66 L541.88,834.73 L544.47,834.82 L547.06,834.91 L549.65,835.00 L552.24,835.11 L554.82,835.22 L557.41,835.34 L560.00,835.47 L562.59,835.61 L565.18,835.76 L567.77,835.91 L570.36,836.08 L572.95,836.25 L575.54,836.43 L578.13,836.63 L580.72,836.83 L583.31,837.04 L585.89,837.26 L588.48,837.49 L591.07,837.73 L593.66,837.99 L596.25,838.25 L598.84,838.52 L601.43,838.80 L604.02,839.10 L606.61,839.40 L606.61,839.40 L604.02,839.70 L601.43,840.00 L598.84,840.28 L596.25,840.55 L593.66,840.81 L591.07,841.07 L588.48,841.31 L585.89,841.54 L583.31,841.76 L580.72,841.97 L578.13,842.17 L575.54,842.37 L572.95,842.55 L570.36,842.72 L567.77,842.89 L565.18,843.04 L562.59,843.19 L560.00,843.33 L557.41,843.46 L554.82,843.58 L552.24,843.69 L549.65,843.80 L547.06,843.89 L544.47,843.98 L541.88,844.07 L539.29,844.14 L536.70,844.21 L534.11,844.27 L531.52,844.32 L528.93,844.37 L526.34,844.41 L523.76,844.45 L521.17,844.48 L518.58,844.50 L515.99,844.52 L513.40,844.54 L510.81,844.55 L508.22,844.55 L505.63,844.55 L503.04,844.56 L500.45,844.55 L497.86,844.55 L495.27,844.55 L492.69,844.54 L490.10,844.52 L487.51,844.50 L484.92,844.48 L482.33,844.45 L479.74,844.41 L477.15,844.37 L474.56,844.32 L471.97,844.27 L469.38,844.21 L466.79,844.14 L464.21,844.07 L461.62,843.98 L459.03,843.89 L456.44,843.80 L453.85,843.69 L451.26,843.58 L448.67,843.46 L446.08,843.33 L443.49,843.19 L440.90,843.04 L438.31,842.89 L435.72,842.72 L433.14,842.55 L430.55,842.37 L427.96,842.17 L425.37,841.97 L422.78,841.76 L420.19,841.54 L417.60,841.31 L415.01,841.07 L412.42,840.81 L409.83,840.55 L407.24,840.28 L404.66,840.00 L402.07,839.70 L399.48,839.40Z" fill="url(#g38)"/>
<line x1="503.04" y1="834.98" x2="503.04" y2="843.82" stroke="#ffffff" stroke-opacity="0.55" stroke-width="0.9"/>
<path d="M439.40,891.4 L487.12,883.44 L535.61,891.4 L487.12,899.36Z" fill="#1c3571"/>
<line x1="541.5" y1="748.8" x2="541.5" y2="917.0" stroke="#5a5a5a" stroke-width="0.7" stroke-dasharray="1.3 1.5"/>
<line x1="387.7" y1="748.8" x2="387.7" y2="917.0" stroke="#dadada" stroke-width="1"/>
<line x1="617.2" y1="748.8" x2="617.2" y2="917.0" stroke="#dadada" stroke-width="1"/>
<line x1="387.2" y1="748.8" x2="617.7" y2="748.8" stroke="#a8a8a8" stroke-width="0.9"/>
<line x1="387.2" y1="917.0" x2="617.7" y2="917.0" stroke="#a8a8a8" stroke-width="0.9"/>
<text transform="translate(385.70,789.90) scale(0.9,1)" font-size="6.6" fill="#4d4d4d" stroke="#4d4d4d" stroke-width="0.18" text-anchor="end">TCGA</text>
<line x1="386.4" y1="787.4" x2="387.7" y2="787.4" stroke="#555" stroke-width="0.7"/>
<text transform="translate(385.70,816.00) scale(0.9,1)" font-size="6.6" fill="#4d4d4d" stroke="#4d4d4d" stroke-width="0.18" text-anchor="end">ICGC-CA</text>
<line x1="386.4" y1="813.5" x2="387.7" y2="813.5" stroke="#555" stroke-width="0.7"/>
<text transform="translate(385.70,841.90) scale(0.9,1)" font-size="6.6" fill="#4d4d4d" stroke="#4d4d4d" stroke-width="0.18" text-anchor="end">ICGC-AU</text>
<line x1="386.4" y1="839.4" x2="387.7" y2="839.4" stroke="#555" stroke-width="0.7"/>
<text transform="translate(385.70,893.90) scale(0.9,1)" font-size="6.6" fill="#4d4d4d" stroke="#4d4d4d" stroke-width="0.18" text-anchor="end">Meta-analysis</text>
<line x1="386.4" y1="891.4" x2="387.7" y2="891.4" stroke="#555" stroke-width="0.7"/>
<defs><clipPath id="c39"><rect x="0" y="917.0" width="617.5" height="20"/></clipPath></defs><g clip-path="url(#c39)">
<line x1="425.40" y1="917.0" x2="425.40" y2="918.5" stroke="#333" stroke-width="0.6"/>
<text transform="translate(425.40,923.1) scale(0.95,1)" font-size="6.4" fill="#4d4d4d" stroke="#4d4d4d" stroke-width="0.18" text-anchor="middle">0.549</text>
<line x1="464.10" y1="917.0" x2="464.10" y2="918.5" stroke="#333" stroke-width="0.6"/>
<text transform="translate(464.10,923.1) scale(0.95,1)" font-size="6.4" fill="#4d4d4d" stroke="#4d4d4d" stroke-width="0.18" text-anchor="middle">0.67</text>
<line x1="502.80" y1="917.0" x2="502.80" y2="918.5" stroke="#333" stroke-width="0.6"/>
<text transform="translate(502.80,923.1) scale(0.95,1)" font-size="6.4" fill="#4d4d4d" stroke="#4d4d4d" stroke-width="0.18" text-anchor="middle">0.819</text>
<line x1="541.50" y1="917.0" x2="541.50" y2="918.5" stroke="#333" stroke-width="0.6"/>
<text transform="translate(541.50,923.1) scale(0.95,1)" font-size="6.4" fill="#4d4d4d" stroke="#4d4d4d" stroke-width="0.18" text-anchor="middle">1</text>
<line x1="580.20" y1="917.0" x2="580.20" y2="918.5" stroke="#333" stroke-width="0.6"/>
<text transform="translate(580.20,923.1) scale(0.95,1)" font-size="6.4" fill="#4d4d4d" stroke="#4d4d4d" stroke-width="0.18" text-anchor="middle">1.221</text>
</g>
<text x="502.45" y="930.6" font-size="7.4" fill="#222" text-anchor="middle">HR</text>
<text x="626.7" y="764.40" font-size="7.6" fill="#111" stroke="#111" stroke-width="0.18">HR [95% CI]</text>
<line x1="626.7" y1="773.5" x2="683.2" y2="773.5" stroke="#333" stroke-width="0.8"/>
<text transform="translate(626.7,790.40) scale(0.95,1)" font-size="7.9" fill="#111" stroke="#111" stroke-width="0.18">0.78 [0.49, 1.23]</text>
<text transform="translate(626.7,816.50) scale(0.95,1)" font-size="7.9" fill="#111" stroke="#111" stroke-width="0.18">0.71 [0.50, 1.02]</text>
<text transform="translate(626.7,842.40) scale(0.95,1)" font-size="7.9" fill="#111" stroke="#111" stroke-width="0.18">0.82 [0.48, 1.40]</text>
<text transform="translate(626.7,894.40) scale(0.95,1)" font-size="7.9" fill="#111" stroke="#111" stroke-width="0.18">0.75 [0.59, 0.97]</text>
</svg>
</body></html>
